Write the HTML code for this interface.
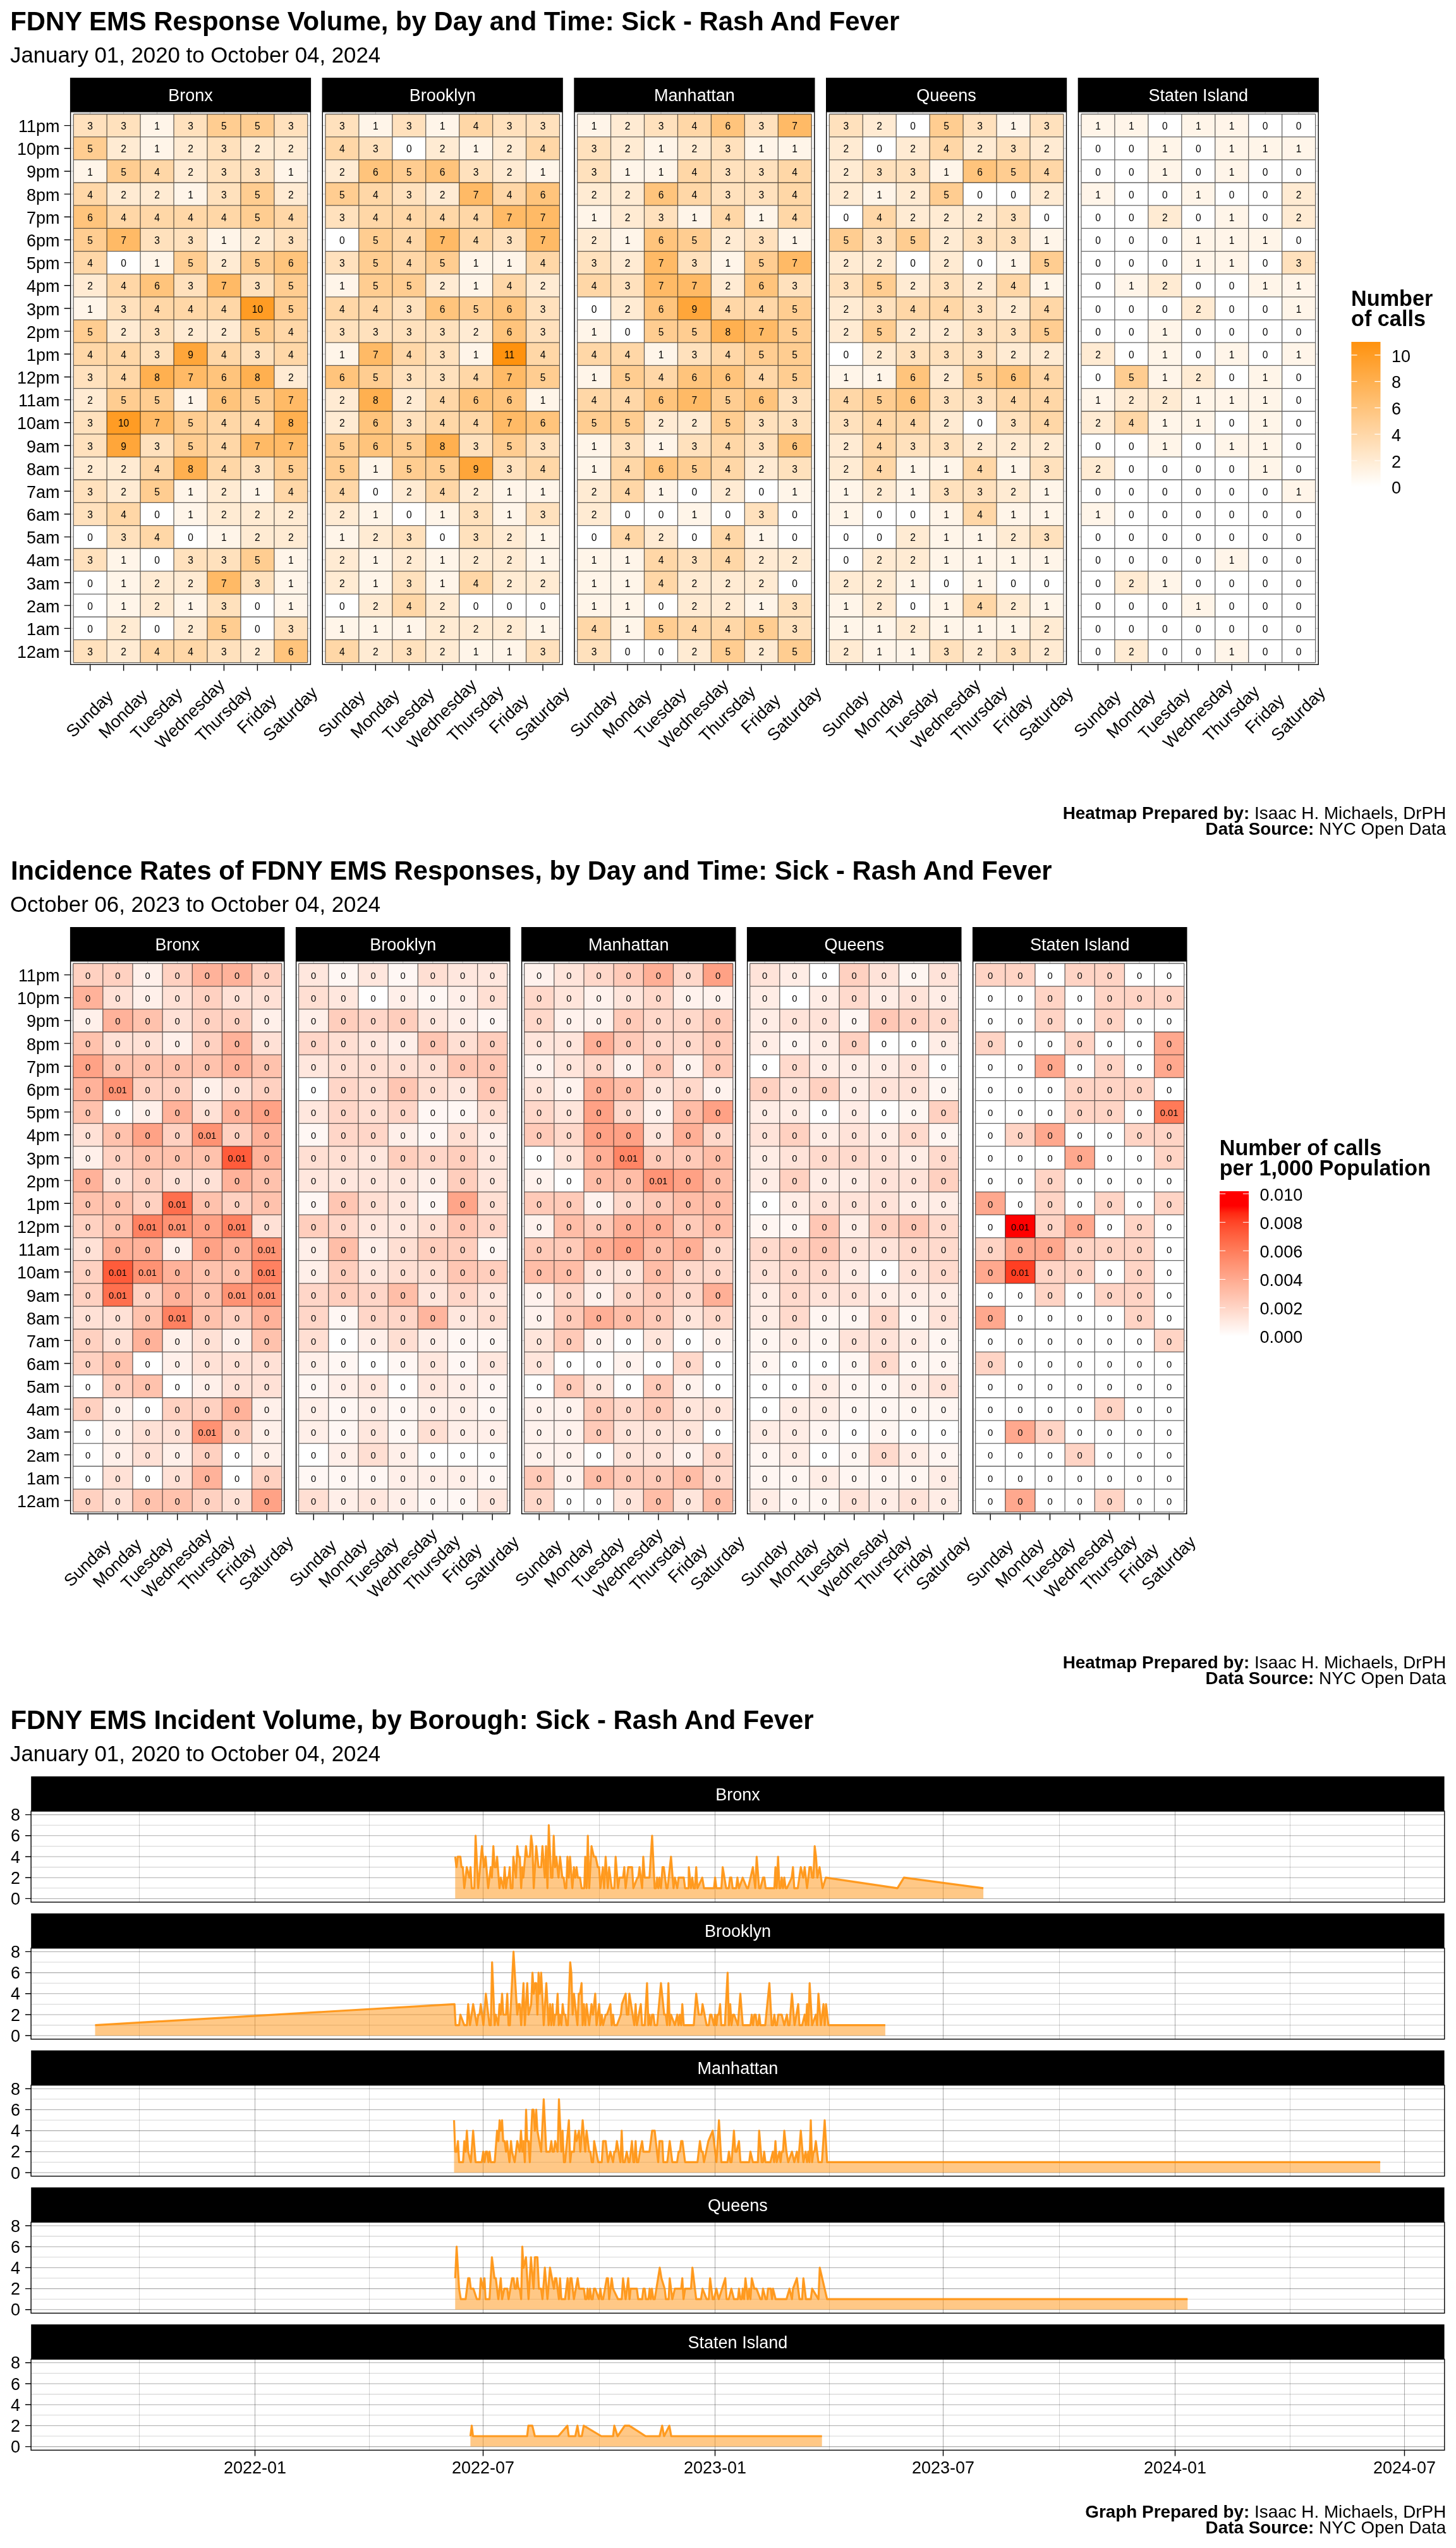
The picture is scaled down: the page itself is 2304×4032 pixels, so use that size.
<!DOCTYPE html><html><head><meta charset="utf-8"><style>html,body{margin:0;padding:0;background:#fff;width:2304px;height:4032px;overflow:hidden}svg{display:block;will-change:transform}</style></head><body><svg width="2304" height="4032" viewBox="0 0 2304 4032" font-family='"Liberation Sans", sans-serif'>
<rect width="2304" height="4032" fill="#fff"/>
<text x="16.3" y="48.0" font-size="41.84" font-weight="bold">FDNY EMS Response Volume, by Day and Time: Sick - Rash And Fever</text>
<text x="16.0" y="99.0" font-size="34.8">January 01, 2020 to October 04, 2024</text>
<rect x="110.90" y="123.00" width="381.20" height="53.90" fill="#000"/>
<text x="301.5" y="160.2" font-size="27" text-anchor="middle" fill="#fff">Bronx</text>
<rect x="110.90" y="176.90" width="381.20" height="875.31" fill="#fff"/>
<path d="M110.90 198.60H492.10M110.90 234.77H492.10M110.90 270.94H492.10M110.90 307.11H492.10M110.90 343.28H492.10M110.90 379.45H492.10M110.90 415.62H492.10M110.90 451.79H492.10M110.90 487.96H492.10M110.90 524.13H492.10M110.90 560.30H492.10M110.90 596.47H492.10M110.90 632.64H492.10M110.90 668.81H492.10M110.90 704.98H492.10M110.90 741.15H492.10M110.90 777.32H492.10M110.90 813.49H492.10M110.90 849.66H492.10M110.90 885.83H492.10M110.90 922.00H492.10M110.90 958.17H492.10M110.90 994.34H492.10M110.90 1030.51H492.10M142.67 176.90V1052.21M195.61 176.90V1052.21M248.56 176.90V1052.21M301.50 176.90V1052.21M354.44 176.90V1052.21M407.39 176.90V1052.21M460.33 176.90V1052.21" stroke="#cfcfcf" stroke-width="1" fill="none"/>
<rect x="116.2" y="180.5" width="52.94" height="36.17" fill="#ffe1bd"/><rect x="169.1" y="180.5" width="52.94" height="36.17" fill="#ffe1bd"/><rect x="222.1" y="180.5" width="52.94" height="36.17" fill="#fff5e9"/><rect x="275.0" y="180.5" width="52.94" height="36.17" fill="#ffe1bd"/><rect x="328.0" y="180.5" width="52.94" height="36.17" fill="#ffcd91"/><rect x="380.9" y="180.5" width="52.94" height="36.17" fill="#ffcd91"/><rect x="433.9" y="180.5" width="52.94" height="36.17" fill="#ffe1bd"/><rect x="116.2" y="216.7" width="52.94" height="36.17" fill="#ffcd91"/><rect x="169.1" y="216.7" width="52.94" height="36.17" fill="#ffebd3"/><rect x="222.1" y="216.7" width="52.94" height="36.17" fill="#fff5e9"/><rect x="275.0" y="216.7" width="52.94" height="36.17" fill="#ffebd3"/><rect x="328.0" y="216.7" width="52.94" height="36.17" fill="#ffe1bd"/><rect x="380.9" y="216.7" width="52.94" height="36.17" fill="#ffebd3"/><rect x="433.9" y="216.7" width="52.94" height="36.17" fill="#ffebd3"/><rect x="116.2" y="252.9" width="52.94" height="36.17" fill="#fff5e9"/><rect x="169.1" y="252.9" width="52.94" height="36.17" fill="#ffcd91"/><rect x="222.1" y="252.9" width="52.94" height="36.17" fill="#ffd7a7"/><rect x="275.0" y="252.9" width="52.94" height="36.17" fill="#ffebd3"/><rect x="328.0" y="252.9" width="52.94" height="36.17" fill="#ffe1bd"/><rect x="380.9" y="252.9" width="52.94" height="36.17" fill="#ffe1bd"/><rect x="433.9" y="252.9" width="52.94" height="36.17" fill="#fff5e9"/><rect x="116.2" y="289.0" width="52.94" height="36.17" fill="#ffd7a7"/><rect x="169.1" y="289.0" width="52.94" height="36.17" fill="#ffebd3"/><rect x="222.1" y="289.0" width="52.94" height="36.17" fill="#ffebd3"/><rect x="275.0" y="289.0" width="52.94" height="36.17" fill="#fff5e9"/><rect x="328.0" y="289.0" width="52.94" height="36.17" fill="#ffe1bd"/><rect x="380.9" y="289.0" width="52.94" height="36.17" fill="#ffcd91"/><rect x="433.9" y="289.0" width="52.94" height="36.17" fill="#ffebd3"/><rect x="116.2" y="325.2" width="52.94" height="36.17" fill="#ffc47c"/><rect x="169.1" y="325.2" width="52.94" height="36.17" fill="#ffd7a7"/><rect x="222.1" y="325.2" width="52.94" height="36.17" fill="#ffd7a7"/><rect x="275.0" y="325.2" width="52.94" height="36.17" fill="#ffd7a7"/><rect x="328.0" y="325.2" width="52.94" height="36.17" fill="#ffd7a7"/><rect x="380.9" y="325.2" width="52.94" height="36.17" fill="#ffcd91"/><rect x="433.9" y="325.2" width="52.94" height="36.17" fill="#ffd7a7"/><rect x="116.2" y="361.4" width="52.94" height="36.17" fill="#ffcd91"/><rect x="169.1" y="361.4" width="52.94" height="36.17" fill="#ffba66"/><rect x="222.1" y="361.4" width="52.94" height="36.17" fill="#ffe1bd"/><rect x="275.0" y="361.4" width="52.94" height="36.17" fill="#ffe1bd"/><rect x="328.0" y="361.4" width="52.94" height="36.17" fill="#fff5e9"/><rect x="380.9" y="361.4" width="52.94" height="36.17" fill="#ffebd3"/><rect x="433.9" y="361.4" width="52.94" height="36.17" fill="#ffe1bd"/><rect x="116.2" y="397.5" width="52.94" height="36.17" fill="#ffd7a7"/><rect x="169.1" y="397.5" width="52.94" height="36.17" fill="#ffffff"/><rect x="222.1" y="397.5" width="52.94" height="36.17" fill="#fff5e9"/><rect x="275.0" y="397.5" width="52.94" height="36.17" fill="#ffcd91"/><rect x="328.0" y="397.5" width="52.94" height="36.17" fill="#ffebd3"/><rect x="380.9" y="397.5" width="52.94" height="36.17" fill="#ffcd91"/><rect x="433.9" y="397.5" width="52.94" height="36.17" fill="#ffc47c"/><rect x="116.2" y="433.7" width="52.94" height="36.17" fill="#ffebd3"/><rect x="169.1" y="433.7" width="52.94" height="36.17" fill="#ffd7a7"/><rect x="222.1" y="433.7" width="52.94" height="36.17" fill="#ffc47c"/><rect x="275.0" y="433.7" width="52.94" height="36.17" fill="#ffe1bd"/><rect x="328.0" y="433.7" width="52.94" height="36.17" fill="#ffba66"/><rect x="380.9" y="433.7" width="52.94" height="36.17" fill="#ffe1bd"/><rect x="433.9" y="433.7" width="52.94" height="36.17" fill="#ffcd91"/><rect x="116.2" y="469.9" width="52.94" height="36.17" fill="#fff5e9"/><rect x="169.1" y="469.9" width="52.94" height="36.17" fill="#ffe1bd"/><rect x="222.1" y="469.9" width="52.94" height="36.17" fill="#ffd7a7"/><rect x="275.0" y="469.9" width="52.94" height="36.17" fill="#ffd7a7"/><rect x="328.0" y="469.9" width="52.94" height="36.17" fill="#ffd7a7"/><rect x="380.9" y="469.9" width="52.94" height="36.17" fill="#ff9c24"/><rect x="433.9" y="469.9" width="52.94" height="36.17" fill="#ffcd91"/><rect x="116.2" y="506.0" width="52.94" height="36.17" fill="#ffcd91"/><rect x="169.1" y="506.0" width="52.94" height="36.17" fill="#ffebd3"/><rect x="222.1" y="506.0" width="52.94" height="36.17" fill="#ffe1bd"/><rect x="275.0" y="506.0" width="52.94" height="36.17" fill="#ffebd3"/><rect x="328.0" y="506.0" width="52.94" height="36.17" fill="#ffebd3"/><rect x="380.9" y="506.0" width="52.94" height="36.17" fill="#ffcd91"/><rect x="433.9" y="506.0" width="52.94" height="36.17" fill="#ffd7a7"/><rect x="116.2" y="542.2" width="52.94" height="36.17" fill="#ffd7a7"/><rect x="169.1" y="542.2" width="52.94" height="36.17" fill="#ffd7a7"/><rect x="222.1" y="542.2" width="52.94" height="36.17" fill="#ffe1bd"/><rect x="275.0" y="542.2" width="52.94" height="36.17" fill="#ffa63a"/><rect x="328.0" y="542.2" width="52.94" height="36.17" fill="#ffd7a7"/><rect x="380.9" y="542.2" width="52.94" height="36.17" fill="#ffe1bd"/><rect x="433.9" y="542.2" width="52.94" height="36.17" fill="#ffd7a7"/><rect x="116.2" y="578.4" width="52.94" height="36.17" fill="#ffe1bd"/><rect x="169.1" y="578.4" width="52.94" height="36.17" fill="#ffd7a7"/><rect x="222.1" y="578.4" width="52.94" height="36.17" fill="#ffb050"/><rect x="275.0" y="578.4" width="52.94" height="36.17" fill="#ffba66"/><rect x="328.0" y="578.4" width="52.94" height="36.17" fill="#ffc47c"/><rect x="380.9" y="578.4" width="52.94" height="36.17" fill="#ffb050"/><rect x="433.9" y="578.4" width="52.94" height="36.17" fill="#ffebd3"/><rect x="116.2" y="614.6" width="52.94" height="36.17" fill="#ffebd3"/><rect x="169.1" y="614.6" width="52.94" height="36.17" fill="#ffcd91"/><rect x="222.1" y="614.6" width="52.94" height="36.17" fill="#ffcd91"/><rect x="275.0" y="614.6" width="52.94" height="36.17" fill="#fff5e9"/><rect x="328.0" y="614.6" width="52.94" height="36.17" fill="#ffc47c"/><rect x="380.9" y="614.6" width="52.94" height="36.17" fill="#ffcd91"/><rect x="433.9" y="614.6" width="52.94" height="36.17" fill="#ffba66"/><rect x="116.2" y="650.7" width="52.94" height="36.17" fill="#ffe1bd"/><rect x="169.1" y="650.7" width="52.94" height="36.17" fill="#ff9c24"/><rect x="222.1" y="650.7" width="52.94" height="36.17" fill="#ffba66"/><rect x="275.0" y="650.7" width="52.94" height="36.17" fill="#ffcd91"/><rect x="328.0" y="650.7" width="52.94" height="36.17" fill="#ffd7a7"/><rect x="380.9" y="650.7" width="52.94" height="36.17" fill="#ffd7a7"/><rect x="433.9" y="650.7" width="52.94" height="36.17" fill="#ffb050"/><rect x="116.2" y="686.9" width="52.94" height="36.17" fill="#ffe1bd"/><rect x="169.1" y="686.9" width="52.94" height="36.17" fill="#ffa63a"/><rect x="222.1" y="686.9" width="52.94" height="36.17" fill="#ffe1bd"/><rect x="275.0" y="686.9" width="52.94" height="36.17" fill="#ffcd91"/><rect x="328.0" y="686.9" width="52.94" height="36.17" fill="#ffd7a7"/><rect x="380.9" y="686.9" width="52.94" height="36.17" fill="#ffba66"/><rect x="433.9" y="686.9" width="52.94" height="36.17" fill="#ffba66"/><rect x="116.2" y="723.1" width="52.94" height="36.17" fill="#ffebd3"/><rect x="169.1" y="723.1" width="52.94" height="36.17" fill="#ffebd3"/><rect x="222.1" y="723.1" width="52.94" height="36.17" fill="#ffd7a7"/><rect x="275.0" y="723.1" width="52.94" height="36.17" fill="#ffb050"/><rect x="328.0" y="723.1" width="52.94" height="36.17" fill="#ffd7a7"/><rect x="380.9" y="723.1" width="52.94" height="36.17" fill="#ffe1bd"/><rect x="433.9" y="723.1" width="52.94" height="36.17" fill="#ffcd91"/><rect x="116.2" y="759.2" width="52.94" height="36.17" fill="#ffe1bd"/><rect x="169.1" y="759.2" width="52.94" height="36.17" fill="#ffebd3"/><rect x="222.1" y="759.2" width="52.94" height="36.17" fill="#ffcd91"/><rect x="275.0" y="759.2" width="52.94" height="36.17" fill="#fff5e9"/><rect x="328.0" y="759.2" width="52.94" height="36.17" fill="#ffebd3"/><rect x="380.9" y="759.2" width="52.94" height="36.17" fill="#fff5e9"/><rect x="433.9" y="759.2" width="52.94" height="36.17" fill="#ffd7a7"/><rect x="116.2" y="795.4" width="52.94" height="36.17" fill="#ffe1bd"/><rect x="169.1" y="795.4" width="52.94" height="36.17" fill="#ffd7a7"/><rect x="222.1" y="795.4" width="52.94" height="36.17" fill="#ffffff"/><rect x="275.0" y="795.4" width="52.94" height="36.17" fill="#fff5e9"/><rect x="328.0" y="795.4" width="52.94" height="36.17" fill="#ffebd3"/><rect x="380.9" y="795.4" width="52.94" height="36.17" fill="#ffebd3"/><rect x="433.9" y="795.4" width="52.94" height="36.17" fill="#ffebd3"/><rect x="116.2" y="831.6" width="52.94" height="36.17" fill="#ffffff"/><rect x="169.1" y="831.6" width="52.94" height="36.17" fill="#ffe1bd"/><rect x="222.1" y="831.6" width="52.94" height="36.17" fill="#ffd7a7"/><rect x="275.0" y="831.6" width="52.94" height="36.17" fill="#ffffff"/><rect x="328.0" y="831.6" width="52.94" height="36.17" fill="#fff5e9"/><rect x="380.9" y="831.6" width="52.94" height="36.17" fill="#ffebd3"/><rect x="433.9" y="831.6" width="52.94" height="36.17" fill="#ffebd3"/><rect x="116.2" y="867.7" width="52.94" height="36.17" fill="#ffe1bd"/><rect x="169.1" y="867.7" width="52.94" height="36.17" fill="#fff5e9"/><rect x="222.1" y="867.7" width="52.94" height="36.17" fill="#ffffff"/><rect x="275.0" y="867.7" width="52.94" height="36.17" fill="#ffe1bd"/><rect x="328.0" y="867.7" width="52.94" height="36.17" fill="#ffe1bd"/><rect x="380.9" y="867.7" width="52.94" height="36.17" fill="#ffcd91"/><rect x="433.9" y="867.7" width="52.94" height="36.17" fill="#fff5e9"/><rect x="116.2" y="903.9" width="52.94" height="36.17" fill="#ffffff"/><rect x="169.1" y="903.9" width="52.94" height="36.17" fill="#fff5e9"/><rect x="222.1" y="903.9" width="52.94" height="36.17" fill="#ffebd3"/><rect x="275.0" y="903.9" width="52.94" height="36.17" fill="#ffebd3"/><rect x="328.0" y="903.9" width="52.94" height="36.17" fill="#ffba66"/><rect x="380.9" y="903.9" width="52.94" height="36.17" fill="#ffe1bd"/><rect x="433.9" y="903.9" width="52.94" height="36.17" fill="#fff5e9"/><rect x="116.2" y="940.1" width="52.94" height="36.17" fill="#ffffff"/><rect x="169.1" y="940.1" width="52.94" height="36.17" fill="#fff5e9"/><rect x="222.1" y="940.1" width="52.94" height="36.17" fill="#ffebd3"/><rect x="275.0" y="940.1" width="52.94" height="36.17" fill="#fff5e9"/><rect x="328.0" y="940.1" width="52.94" height="36.17" fill="#ffe1bd"/><rect x="380.9" y="940.1" width="52.94" height="36.17" fill="#ffffff"/><rect x="433.9" y="940.1" width="52.94" height="36.17" fill="#fff5e9"/><rect x="116.2" y="976.3" width="52.94" height="36.17" fill="#ffffff"/><rect x="169.1" y="976.3" width="52.94" height="36.17" fill="#ffebd3"/><rect x="222.1" y="976.3" width="52.94" height="36.17" fill="#ffffff"/><rect x="275.0" y="976.3" width="52.94" height="36.17" fill="#ffebd3"/><rect x="328.0" y="976.3" width="52.94" height="36.17" fill="#ffcd91"/><rect x="380.9" y="976.3" width="52.94" height="36.17" fill="#ffffff"/><rect x="433.9" y="976.3" width="52.94" height="36.17" fill="#ffe1bd"/><rect x="116.2" y="1012.4" width="52.94" height="36.17" fill="#ffe1bd"/><rect x="169.1" y="1012.4" width="52.94" height="36.17" fill="#ffebd3"/><rect x="222.1" y="1012.4" width="52.94" height="36.17" fill="#ffd7a7"/><rect x="275.0" y="1012.4" width="52.94" height="36.17" fill="#ffd7a7"/><rect x="328.0" y="1012.4" width="52.94" height="36.17" fill="#ffe1bd"/><rect x="380.9" y="1012.4" width="52.94" height="36.17" fill="#ffebd3"/><rect x="433.9" y="1012.4" width="52.94" height="36.17" fill="#ffc47c"/>
<path d="M116.19 180.51H486.81M116.19 216.69H486.81M116.19 252.85H486.81M116.19 289.02H486.81M116.19 325.19H486.81M116.19 361.37H486.81M116.19 397.53H486.81M116.19 433.70H486.81M116.19 469.88H486.81M116.19 506.05H486.81M116.19 542.22H486.81M116.19 578.38H486.81M116.19 614.56H486.81M116.19 650.73H486.81M116.19 686.89H486.81M116.19 723.07H486.81M116.19 759.24H486.81M116.19 795.40H486.81M116.19 831.58H486.81M116.19 867.75H486.81M116.19 903.92H486.81M116.19 940.09H486.81M116.19 976.25H486.81M116.19 1012.43H486.81M116.19 1048.60H486.81M116.19 180.51V1048.60M169.14 180.51V1048.60M222.08 180.51V1048.60M275.03 180.51V1048.60M327.97 180.51V1048.60M380.92 180.51V1048.60M433.86 180.51V1048.60M486.81 180.51V1048.60" stroke="#000" stroke-width="1.3" fill="none" stroke-opacity="0.6"/>
<g font-size="15.6" text-anchor="middle"><text x="142.7" y="205.1">3</text><text x="195.6" y="205.1">3</text><text x="248.6" y="205.1">1</text><text x="301.5" y="205.1">3</text><text x="354.4" y="205.1">5</text><text x="407.4" y="205.1">5</text><text x="460.3" y="205.1">3</text><text x="142.7" y="241.3">5</text><text x="195.6" y="241.3">2</text><text x="248.6" y="241.3">1</text><text x="301.5" y="241.3">2</text><text x="354.4" y="241.3">3</text><text x="407.4" y="241.3">2</text><text x="460.3" y="241.3">2</text><text x="142.7" y="277.5">1</text><text x="195.6" y="277.5">5</text><text x="248.6" y="277.5">4</text><text x="301.5" y="277.5">2</text><text x="354.4" y="277.5">3</text><text x="407.4" y="277.5">3</text><text x="460.3" y="277.5">1</text><text x="142.7" y="313.6">4</text><text x="195.6" y="313.6">2</text><text x="248.6" y="313.6">2</text><text x="301.5" y="313.6">1</text><text x="354.4" y="313.6">3</text><text x="407.4" y="313.6">5</text><text x="460.3" y="313.6">2</text><text x="142.7" y="349.8">6</text><text x="195.6" y="349.8">4</text><text x="248.6" y="349.8">4</text><text x="301.5" y="349.8">4</text><text x="354.4" y="349.8">4</text><text x="407.4" y="349.8">5</text><text x="460.3" y="349.8">4</text><text x="142.7" y="386.0">5</text><text x="195.6" y="386.0">7</text><text x="248.6" y="386.0">3</text><text x="301.5" y="386.0">3</text><text x="354.4" y="386.0">1</text><text x="407.4" y="386.0">2</text><text x="460.3" y="386.0">3</text><text x="142.7" y="422.1">4</text><text x="195.6" y="422.1">0</text><text x="248.6" y="422.1">1</text><text x="301.5" y="422.1">5</text><text x="354.4" y="422.1">2</text><text x="407.4" y="422.1">5</text><text x="460.3" y="422.1">6</text><text x="142.7" y="458.3">2</text><text x="195.6" y="458.3">4</text><text x="248.6" y="458.3">6</text><text x="301.5" y="458.3">3</text><text x="354.4" y="458.3">7</text><text x="407.4" y="458.3">3</text><text x="460.3" y="458.3">5</text><text x="142.7" y="494.5">1</text><text x="195.6" y="494.5">3</text><text x="248.6" y="494.5">4</text><text x="301.5" y="494.5">4</text><text x="354.4" y="494.5">4</text><text x="407.4" y="494.5">10</text><text x="460.3" y="494.5">5</text><text x="142.7" y="530.7">5</text><text x="195.6" y="530.7">2</text><text x="248.6" y="530.7">3</text><text x="301.5" y="530.7">2</text><text x="354.4" y="530.7">2</text><text x="407.4" y="530.7">5</text><text x="460.3" y="530.7">4</text><text x="142.7" y="566.8">4</text><text x="195.6" y="566.8">4</text><text x="248.6" y="566.8">3</text><text x="301.5" y="566.8">9</text><text x="354.4" y="566.8">4</text><text x="407.4" y="566.8">3</text><text x="460.3" y="566.8">4</text><text x="142.7" y="603.0">3</text><text x="195.6" y="603.0">4</text><text x="248.6" y="603.0">8</text><text x="301.5" y="603.0">7</text><text x="354.4" y="603.0">6</text><text x="407.4" y="603.0">8</text><text x="460.3" y="603.0">2</text><text x="142.7" y="639.2">2</text><text x="195.6" y="639.2">5</text><text x="248.6" y="639.2">5</text><text x="301.5" y="639.2">1</text><text x="354.4" y="639.2">6</text><text x="407.4" y="639.2">5</text><text x="460.3" y="639.2">7</text><text x="142.7" y="675.3">3</text><text x="195.6" y="675.3">10</text><text x="248.6" y="675.3">7</text><text x="301.5" y="675.3">5</text><text x="354.4" y="675.3">4</text><text x="407.4" y="675.3">4</text><text x="460.3" y="675.3">8</text><text x="142.7" y="711.5">3</text><text x="195.6" y="711.5">9</text><text x="248.6" y="711.5">3</text><text x="301.5" y="711.5">5</text><text x="354.4" y="711.5">4</text><text x="407.4" y="711.5">7</text><text x="460.3" y="711.5">7</text><text x="142.7" y="747.7">2</text><text x="195.6" y="747.7">2</text><text x="248.6" y="747.7">4</text><text x="301.5" y="747.7">8</text><text x="354.4" y="747.7">4</text><text x="407.4" y="747.7">3</text><text x="460.3" y="747.7">5</text><text x="142.7" y="783.8">3</text><text x="195.6" y="783.8">2</text><text x="248.6" y="783.8">5</text><text x="301.5" y="783.8">1</text><text x="354.4" y="783.8">2</text><text x="407.4" y="783.8">1</text><text x="460.3" y="783.8">4</text><text x="142.7" y="820.0">3</text><text x="195.6" y="820.0">4</text><text x="248.6" y="820.0">0</text><text x="301.5" y="820.0">1</text><text x="354.4" y="820.0">2</text><text x="407.4" y="820.0">2</text><text x="460.3" y="820.0">2</text><text x="142.7" y="856.2">0</text><text x="195.6" y="856.2">3</text><text x="248.6" y="856.2">4</text><text x="301.5" y="856.2">0</text><text x="354.4" y="856.2">1</text><text x="407.4" y="856.2">2</text><text x="460.3" y="856.2">2</text><text x="142.7" y="892.4">3</text><text x="195.6" y="892.4">1</text><text x="248.6" y="892.4">0</text><text x="301.5" y="892.4">3</text><text x="354.4" y="892.4">3</text><text x="407.4" y="892.4">5</text><text x="460.3" y="892.4">1</text><text x="142.7" y="928.5">0</text><text x="195.6" y="928.5">1</text><text x="248.6" y="928.5">2</text><text x="301.5" y="928.5">2</text><text x="354.4" y="928.5">7</text><text x="407.4" y="928.5">3</text><text x="460.3" y="928.5">1</text><text x="142.7" y="964.7">0</text><text x="195.6" y="964.7">1</text><text x="248.6" y="964.7">2</text><text x="301.5" y="964.7">1</text><text x="354.4" y="964.7">3</text><text x="407.4" y="964.7">0</text><text x="460.3" y="964.7">1</text><text x="142.7" y="1000.9">0</text><text x="195.6" y="1000.9">2</text><text x="248.6" y="1000.9">0</text><text x="301.5" y="1000.9">2</text><text x="354.4" y="1000.9">5</text><text x="407.4" y="1000.9">0</text><text x="460.3" y="1000.9">3</text><text x="142.7" y="1037.0">3</text><text x="195.6" y="1037.0">2</text><text x="248.6" y="1037.0">4</text><text x="301.5" y="1037.0">4</text><text x="354.4" y="1037.0">3</text><text x="407.4" y="1037.0">2</text><text x="460.3" y="1037.0">6</text></g>
<rect x="111.60" y="176.90" width="379.80" height="874.61" fill="none" stroke="#000" stroke-width="1.4"/>
<path d="M142.67 1052.21V1061.41M195.61 1052.21V1061.41M248.56 1052.21V1061.41M301.50 1052.21V1061.41M354.44 1052.21V1061.41M407.39 1052.21V1061.41M460.33 1052.21V1061.41" stroke="#000" stroke-width="1.4" fill="none"/>
<text font-size="27" text-anchor="middle" transform="translate(148.17,1136.00) rotate(-45)">Sunday</text>
<text font-size="27" text-anchor="middle" transform="translate(201.11,1136.00) rotate(-45)">Monday</text>
<text font-size="27" text-anchor="middle" transform="translate(254.06,1136.00) rotate(-45)">Tuesday</text>
<text font-size="27" text-anchor="middle" transform="translate(307.00,1136.00) rotate(-45)">Wednesday</text>
<text font-size="27" text-anchor="middle" transform="translate(359.94,1136.00) rotate(-45)">Thursday</text>
<text font-size="27" text-anchor="middle" transform="translate(412.89,1136.00) rotate(-45)">Friday</text>
<text font-size="27" text-anchor="middle" transform="translate(465.83,1136.00) rotate(-45)">Saturday</text>
<rect x="509.60" y="123.00" width="381.20" height="53.90" fill="#000"/>
<text x="700.2" y="160.2" font-size="27" text-anchor="middle" fill="#fff">Brooklyn</text>
<rect x="509.60" y="176.90" width="381.20" height="875.31" fill="#fff"/>
<path d="M509.60 198.60H890.80M509.60 234.77H890.80M509.60 270.94H890.80M509.60 307.11H890.80M509.60 343.28H890.80M509.60 379.45H890.80M509.60 415.62H890.80M509.60 451.79H890.80M509.60 487.96H890.80M509.60 524.13H890.80M509.60 560.30H890.80M509.60 596.47H890.80M509.60 632.64H890.80M509.60 668.81H890.80M509.60 704.98H890.80M509.60 741.15H890.80M509.60 777.32H890.80M509.60 813.49H890.80M509.60 849.66H890.80M509.60 885.83H890.80M509.60 922.00H890.80M509.60 958.17H890.80M509.60 994.34H890.80M509.60 1030.51H890.80M541.37 176.90V1052.21M594.31 176.90V1052.21M647.26 176.90V1052.21M700.20 176.90V1052.21M753.14 176.90V1052.21M806.09 176.90V1052.21M859.03 176.90V1052.21" stroke="#cfcfcf" stroke-width="1" fill="none"/>
<rect x="514.9" y="180.5" width="52.94" height="36.17" fill="#ffe1bd"/><rect x="567.8" y="180.5" width="52.94" height="36.17" fill="#fff5e9"/><rect x="620.8" y="180.5" width="52.94" height="36.17" fill="#ffe1bd"/><rect x="673.7" y="180.5" width="52.94" height="36.17" fill="#fff5e9"/><rect x="726.7" y="180.5" width="52.94" height="36.17" fill="#ffd7a7"/><rect x="779.6" y="180.5" width="52.94" height="36.17" fill="#ffe1bd"/><rect x="832.6" y="180.5" width="52.94" height="36.17" fill="#ffe1bd"/><rect x="514.9" y="216.7" width="52.94" height="36.17" fill="#ffd7a7"/><rect x="567.8" y="216.7" width="52.94" height="36.17" fill="#ffe1bd"/><rect x="620.8" y="216.7" width="52.94" height="36.17" fill="#ffffff"/><rect x="673.7" y="216.7" width="52.94" height="36.17" fill="#ffebd3"/><rect x="726.7" y="216.7" width="52.94" height="36.17" fill="#fff5e9"/><rect x="779.6" y="216.7" width="52.94" height="36.17" fill="#ffebd3"/><rect x="832.6" y="216.7" width="52.94" height="36.17" fill="#ffd7a7"/><rect x="514.9" y="252.9" width="52.94" height="36.17" fill="#ffebd3"/><rect x="567.8" y="252.9" width="52.94" height="36.17" fill="#ffc47c"/><rect x="620.8" y="252.9" width="52.94" height="36.17" fill="#ffcd91"/><rect x="673.7" y="252.9" width="52.94" height="36.17" fill="#ffc47c"/><rect x="726.7" y="252.9" width="52.94" height="36.17" fill="#ffe1bd"/><rect x="779.6" y="252.9" width="52.94" height="36.17" fill="#ffebd3"/><rect x="832.6" y="252.9" width="52.94" height="36.17" fill="#fff5e9"/><rect x="514.9" y="289.0" width="52.94" height="36.17" fill="#ffcd91"/><rect x="567.8" y="289.0" width="52.94" height="36.17" fill="#ffd7a7"/><rect x="620.8" y="289.0" width="52.94" height="36.17" fill="#ffe1bd"/><rect x="673.7" y="289.0" width="52.94" height="36.17" fill="#ffebd3"/><rect x="726.7" y="289.0" width="52.94" height="36.17" fill="#ffba66"/><rect x="779.6" y="289.0" width="52.94" height="36.17" fill="#ffd7a7"/><rect x="832.6" y="289.0" width="52.94" height="36.17" fill="#ffc47c"/><rect x="514.9" y="325.2" width="52.94" height="36.17" fill="#ffe1bd"/><rect x="567.8" y="325.2" width="52.94" height="36.17" fill="#ffd7a7"/><rect x="620.8" y="325.2" width="52.94" height="36.17" fill="#ffd7a7"/><rect x="673.7" y="325.2" width="52.94" height="36.17" fill="#ffd7a7"/><rect x="726.7" y="325.2" width="52.94" height="36.17" fill="#ffd7a7"/><rect x="779.6" y="325.2" width="52.94" height="36.17" fill="#ffba66"/><rect x="832.6" y="325.2" width="52.94" height="36.17" fill="#ffba66"/><rect x="514.9" y="361.4" width="52.94" height="36.17" fill="#ffffff"/><rect x="567.8" y="361.4" width="52.94" height="36.17" fill="#ffcd91"/><rect x="620.8" y="361.4" width="52.94" height="36.17" fill="#ffd7a7"/><rect x="673.7" y="361.4" width="52.94" height="36.17" fill="#ffba66"/><rect x="726.7" y="361.4" width="52.94" height="36.17" fill="#ffd7a7"/><rect x="779.6" y="361.4" width="52.94" height="36.17" fill="#ffe1bd"/><rect x="832.6" y="361.4" width="52.94" height="36.17" fill="#ffba66"/><rect x="514.9" y="397.5" width="52.94" height="36.17" fill="#ffe1bd"/><rect x="567.8" y="397.5" width="52.94" height="36.17" fill="#ffcd91"/><rect x="620.8" y="397.5" width="52.94" height="36.17" fill="#ffd7a7"/><rect x="673.7" y="397.5" width="52.94" height="36.17" fill="#ffcd91"/><rect x="726.7" y="397.5" width="52.94" height="36.17" fill="#fff5e9"/><rect x="779.6" y="397.5" width="52.94" height="36.17" fill="#fff5e9"/><rect x="832.6" y="397.5" width="52.94" height="36.17" fill="#ffd7a7"/><rect x="514.9" y="433.7" width="52.94" height="36.17" fill="#fff5e9"/><rect x="567.8" y="433.7" width="52.94" height="36.17" fill="#ffcd91"/><rect x="620.8" y="433.7" width="52.94" height="36.17" fill="#ffcd91"/><rect x="673.7" y="433.7" width="52.94" height="36.17" fill="#ffebd3"/><rect x="726.7" y="433.7" width="52.94" height="36.17" fill="#fff5e9"/><rect x="779.6" y="433.7" width="52.94" height="36.17" fill="#ffd7a7"/><rect x="832.6" y="433.7" width="52.94" height="36.17" fill="#ffebd3"/><rect x="514.9" y="469.9" width="52.94" height="36.17" fill="#ffd7a7"/><rect x="567.8" y="469.9" width="52.94" height="36.17" fill="#ffd7a7"/><rect x="620.8" y="469.9" width="52.94" height="36.17" fill="#ffe1bd"/><rect x="673.7" y="469.9" width="52.94" height="36.17" fill="#ffc47c"/><rect x="726.7" y="469.9" width="52.94" height="36.17" fill="#ffcd91"/><rect x="779.6" y="469.9" width="52.94" height="36.17" fill="#ffc47c"/><rect x="832.6" y="469.9" width="52.94" height="36.17" fill="#ffe1bd"/><rect x="514.9" y="506.0" width="52.94" height="36.17" fill="#ffe1bd"/><rect x="567.8" y="506.0" width="52.94" height="36.17" fill="#ffe1bd"/><rect x="620.8" y="506.0" width="52.94" height="36.17" fill="#ffe1bd"/><rect x="673.7" y="506.0" width="52.94" height="36.17" fill="#ffe1bd"/><rect x="726.7" y="506.0" width="52.94" height="36.17" fill="#ffebd3"/><rect x="779.6" y="506.0" width="52.94" height="36.17" fill="#ffc47c"/><rect x="832.6" y="506.0" width="52.94" height="36.17" fill="#ffe1bd"/><rect x="514.9" y="542.2" width="52.94" height="36.17" fill="#fff5e9"/><rect x="567.8" y="542.2" width="52.94" height="36.17" fill="#ffba66"/><rect x="620.8" y="542.2" width="52.94" height="36.17" fill="#ffd7a7"/><rect x="673.7" y="542.2" width="52.94" height="36.17" fill="#ffe1bd"/><rect x="726.7" y="542.2" width="52.94" height="36.17" fill="#fff5e9"/><rect x="779.6" y="542.2" width="52.94" height="36.17" fill="#ff920e"/><rect x="832.6" y="542.2" width="52.94" height="36.17" fill="#ffd7a7"/><rect x="514.9" y="578.4" width="52.94" height="36.17" fill="#ffc47c"/><rect x="567.8" y="578.4" width="52.94" height="36.17" fill="#ffcd91"/><rect x="620.8" y="578.4" width="52.94" height="36.17" fill="#ffe1bd"/><rect x="673.7" y="578.4" width="52.94" height="36.17" fill="#ffe1bd"/><rect x="726.7" y="578.4" width="52.94" height="36.17" fill="#ffd7a7"/><rect x="779.6" y="578.4" width="52.94" height="36.17" fill="#ffba66"/><rect x="832.6" y="578.4" width="52.94" height="36.17" fill="#ffcd91"/><rect x="514.9" y="614.6" width="52.94" height="36.17" fill="#ffebd3"/><rect x="567.8" y="614.6" width="52.94" height="36.17" fill="#ffb050"/><rect x="620.8" y="614.6" width="52.94" height="36.17" fill="#ffebd3"/><rect x="673.7" y="614.6" width="52.94" height="36.17" fill="#ffd7a7"/><rect x="726.7" y="614.6" width="52.94" height="36.17" fill="#ffc47c"/><rect x="779.6" y="614.6" width="52.94" height="36.17" fill="#ffc47c"/><rect x="832.6" y="614.6" width="52.94" height="36.17" fill="#fff5e9"/><rect x="514.9" y="650.7" width="52.94" height="36.17" fill="#ffebd3"/><rect x="567.8" y="650.7" width="52.94" height="36.17" fill="#ffc47c"/><rect x="620.8" y="650.7" width="52.94" height="36.17" fill="#ffe1bd"/><rect x="673.7" y="650.7" width="52.94" height="36.17" fill="#ffd7a7"/><rect x="726.7" y="650.7" width="52.94" height="36.17" fill="#ffd7a7"/><rect x="779.6" y="650.7" width="52.94" height="36.17" fill="#ffba66"/><rect x="832.6" y="650.7" width="52.94" height="36.17" fill="#ffc47c"/><rect x="514.9" y="686.9" width="52.94" height="36.17" fill="#ffcd91"/><rect x="567.8" y="686.9" width="52.94" height="36.17" fill="#ffc47c"/><rect x="620.8" y="686.9" width="52.94" height="36.17" fill="#ffcd91"/><rect x="673.7" y="686.9" width="52.94" height="36.17" fill="#ffb050"/><rect x="726.7" y="686.9" width="52.94" height="36.17" fill="#ffe1bd"/><rect x="779.6" y="686.9" width="52.94" height="36.17" fill="#ffcd91"/><rect x="832.6" y="686.9" width="52.94" height="36.17" fill="#ffe1bd"/><rect x="514.9" y="723.1" width="52.94" height="36.17" fill="#ffcd91"/><rect x="567.8" y="723.1" width="52.94" height="36.17" fill="#fff5e9"/><rect x="620.8" y="723.1" width="52.94" height="36.17" fill="#ffcd91"/><rect x="673.7" y="723.1" width="52.94" height="36.17" fill="#ffcd91"/><rect x="726.7" y="723.1" width="52.94" height="36.17" fill="#ffa63a"/><rect x="779.6" y="723.1" width="52.94" height="36.17" fill="#ffe1bd"/><rect x="832.6" y="723.1" width="52.94" height="36.17" fill="#ffd7a7"/><rect x="514.9" y="759.2" width="52.94" height="36.17" fill="#ffd7a7"/><rect x="567.8" y="759.2" width="52.94" height="36.17" fill="#ffffff"/><rect x="620.8" y="759.2" width="52.94" height="36.17" fill="#ffebd3"/><rect x="673.7" y="759.2" width="52.94" height="36.17" fill="#ffd7a7"/><rect x="726.7" y="759.2" width="52.94" height="36.17" fill="#ffebd3"/><rect x="779.6" y="759.2" width="52.94" height="36.17" fill="#fff5e9"/><rect x="832.6" y="759.2" width="52.94" height="36.17" fill="#fff5e9"/><rect x="514.9" y="795.4" width="52.94" height="36.17" fill="#ffebd3"/><rect x="567.8" y="795.4" width="52.94" height="36.17" fill="#fff5e9"/><rect x="620.8" y="795.4" width="52.94" height="36.17" fill="#ffffff"/><rect x="673.7" y="795.4" width="52.94" height="36.17" fill="#fff5e9"/><rect x="726.7" y="795.4" width="52.94" height="36.17" fill="#ffe1bd"/><rect x="779.6" y="795.4" width="52.94" height="36.17" fill="#fff5e9"/><rect x="832.6" y="795.4" width="52.94" height="36.17" fill="#ffe1bd"/><rect x="514.9" y="831.6" width="52.94" height="36.17" fill="#fff5e9"/><rect x="567.8" y="831.6" width="52.94" height="36.17" fill="#ffebd3"/><rect x="620.8" y="831.6" width="52.94" height="36.17" fill="#ffe1bd"/><rect x="673.7" y="831.6" width="52.94" height="36.17" fill="#ffffff"/><rect x="726.7" y="831.6" width="52.94" height="36.17" fill="#ffe1bd"/><rect x="779.6" y="831.6" width="52.94" height="36.17" fill="#ffebd3"/><rect x="832.6" y="831.6" width="52.94" height="36.17" fill="#fff5e9"/><rect x="514.9" y="867.7" width="52.94" height="36.17" fill="#ffebd3"/><rect x="567.8" y="867.7" width="52.94" height="36.17" fill="#fff5e9"/><rect x="620.8" y="867.7" width="52.94" height="36.17" fill="#ffebd3"/><rect x="673.7" y="867.7" width="52.94" height="36.17" fill="#fff5e9"/><rect x="726.7" y="867.7" width="52.94" height="36.17" fill="#ffebd3"/><rect x="779.6" y="867.7" width="52.94" height="36.17" fill="#ffebd3"/><rect x="832.6" y="867.7" width="52.94" height="36.17" fill="#fff5e9"/><rect x="514.9" y="903.9" width="52.94" height="36.17" fill="#ffebd3"/><rect x="567.8" y="903.9" width="52.94" height="36.17" fill="#fff5e9"/><rect x="620.8" y="903.9" width="52.94" height="36.17" fill="#ffe1bd"/><rect x="673.7" y="903.9" width="52.94" height="36.17" fill="#fff5e9"/><rect x="726.7" y="903.9" width="52.94" height="36.17" fill="#ffd7a7"/><rect x="779.6" y="903.9" width="52.94" height="36.17" fill="#ffebd3"/><rect x="832.6" y="903.9" width="52.94" height="36.17" fill="#ffebd3"/><rect x="514.9" y="940.1" width="52.94" height="36.17" fill="#ffffff"/><rect x="567.8" y="940.1" width="52.94" height="36.17" fill="#ffebd3"/><rect x="620.8" y="940.1" width="52.94" height="36.17" fill="#ffd7a7"/><rect x="673.7" y="940.1" width="52.94" height="36.17" fill="#ffebd3"/><rect x="726.7" y="940.1" width="52.94" height="36.17" fill="#ffffff"/><rect x="779.6" y="940.1" width="52.94" height="36.17" fill="#ffffff"/><rect x="832.6" y="940.1" width="52.94" height="36.17" fill="#ffffff"/><rect x="514.9" y="976.3" width="52.94" height="36.17" fill="#fff5e9"/><rect x="567.8" y="976.3" width="52.94" height="36.17" fill="#fff5e9"/><rect x="620.8" y="976.3" width="52.94" height="36.17" fill="#fff5e9"/><rect x="673.7" y="976.3" width="52.94" height="36.17" fill="#ffebd3"/><rect x="726.7" y="976.3" width="52.94" height="36.17" fill="#ffebd3"/><rect x="779.6" y="976.3" width="52.94" height="36.17" fill="#ffebd3"/><rect x="832.6" y="976.3" width="52.94" height="36.17" fill="#fff5e9"/><rect x="514.9" y="1012.4" width="52.94" height="36.17" fill="#ffd7a7"/><rect x="567.8" y="1012.4" width="52.94" height="36.17" fill="#ffebd3"/><rect x="620.8" y="1012.4" width="52.94" height="36.17" fill="#ffe1bd"/><rect x="673.7" y="1012.4" width="52.94" height="36.17" fill="#ffebd3"/><rect x="726.7" y="1012.4" width="52.94" height="36.17" fill="#fff5e9"/><rect x="779.6" y="1012.4" width="52.94" height="36.17" fill="#fff5e9"/><rect x="832.6" y="1012.4" width="52.94" height="36.17" fill="#ffe1bd"/>
<path d="M514.89 180.51H885.51M514.89 216.69H885.51M514.89 252.85H885.51M514.89 289.02H885.51M514.89 325.19H885.51M514.89 361.37H885.51M514.89 397.53H885.51M514.89 433.70H885.51M514.89 469.88H885.51M514.89 506.05H885.51M514.89 542.22H885.51M514.89 578.38H885.51M514.89 614.56H885.51M514.89 650.73H885.51M514.89 686.89H885.51M514.89 723.07H885.51M514.89 759.24H885.51M514.89 795.40H885.51M514.89 831.58H885.51M514.89 867.75H885.51M514.89 903.92H885.51M514.89 940.09H885.51M514.89 976.25H885.51M514.89 1012.43H885.51M514.89 1048.60H885.51M514.89 180.51V1048.60M567.84 180.51V1048.60M620.78 180.51V1048.60M673.73 180.51V1048.60M726.67 180.51V1048.60M779.62 180.51V1048.60M832.56 180.51V1048.60M885.51 180.51V1048.60" stroke="#000" stroke-width="1.3" fill="none" stroke-opacity="0.6"/>
<g font-size="15.6" text-anchor="middle"><text x="541.4" y="205.1">3</text><text x="594.3" y="205.1">1</text><text x="647.3" y="205.1">3</text><text x="700.2" y="205.1">1</text><text x="753.1" y="205.1">4</text><text x="806.1" y="205.1">3</text><text x="859.0" y="205.1">3</text><text x="541.4" y="241.3">4</text><text x="594.3" y="241.3">3</text><text x="647.3" y="241.3">0</text><text x="700.2" y="241.3">2</text><text x="753.1" y="241.3">1</text><text x="806.1" y="241.3">2</text><text x="859.0" y="241.3">4</text><text x="541.4" y="277.5">2</text><text x="594.3" y="277.5">6</text><text x="647.3" y="277.5">5</text><text x="700.2" y="277.5">6</text><text x="753.1" y="277.5">3</text><text x="806.1" y="277.5">2</text><text x="859.0" y="277.5">1</text><text x="541.4" y="313.6">5</text><text x="594.3" y="313.6">4</text><text x="647.3" y="313.6">3</text><text x="700.2" y="313.6">2</text><text x="753.1" y="313.6">7</text><text x="806.1" y="313.6">4</text><text x="859.0" y="313.6">6</text><text x="541.4" y="349.8">3</text><text x="594.3" y="349.8">4</text><text x="647.3" y="349.8">4</text><text x="700.2" y="349.8">4</text><text x="753.1" y="349.8">4</text><text x="806.1" y="349.8">7</text><text x="859.0" y="349.8">7</text><text x="541.4" y="386.0">0</text><text x="594.3" y="386.0">5</text><text x="647.3" y="386.0">4</text><text x="700.2" y="386.0">7</text><text x="753.1" y="386.0">4</text><text x="806.1" y="386.0">3</text><text x="859.0" y="386.0">7</text><text x="541.4" y="422.1">3</text><text x="594.3" y="422.1">5</text><text x="647.3" y="422.1">4</text><text x="700.2" y="422.1">5</text><text x="753.1" y="422.1">1</text><text x="806.1" y="422.1">1</text><text x="859.0" y="422.1">4</text><text x="541.4" y="458.3">1</text><text x="594.3" y="458.3">5</text><text x="647.3" y="458.3">5</text><text x="700.2" y="458.3">2</text><text x="753.1" y="458.3">1</text><text x="806.1" y="458.3">4</text><text x="859.0" y="458.3">2</text><text x="541.4" y="494.5">4</text><text x="594.3" y="494.5">4</text><text x="647.3" y="494.5">3</text><text x="700.2" y="494.5">6</text><text x="753.1" y="494.5">5</text><text x="806.1" y="494.5">6</text><text x="859.0" y="494.5">3</text><text x="541.4" y="530.7">3</text><text x="594.3" y="530.7">3</text><text x="647.3" y="530.7">3</text><text x="700.2" y="530.7">3</text><text x="753.1" y="530.7">2</text><text x="806.1" y="530.7">6</text><text x="859.0" y="530.7">3</text><text x="541.4" y="566.8">1</text><text x="594.3" y="566.8">7</text><text x="647.3" y="566.8">4</text><text x="700.2" y="566.8">3</text><text x="753.1" y="566.8">1</text><text x="806.1" y="566.8">11</text><text x="859.0" y="566.8">4</text><text x="541.4" y="603.0">6</text><text x="594.3" y="603.0">5</text><text x="647.3" y="603.0">3</text><text x="700.2" y="603.0">3</text><text x="753.1" y="603.0">4</text><text x="806.1" y="603.0">7</text><text x="859.0" y="603.0">5</text><text x="541.4" y="639.2">2</text><text x="594.3" y="639.2">8</text><text x="647.3" y="639.2">2</text><text x="700.2" y="639.2">4</text><text x="753.1" y="639.2">6</text><text x="806.1" y="639.2">6</text><text x="859.0" y="639.2">1</text><text x="541.4" y="675.3">2</text><text x="594.3" y="675.3">6</text><text x="647.3" y="675.3">3</text><text x="700.2" y="675.3">4</text><text x="753.1" y="675.3">4</text><text x="806.1" y="675.3">7</text><text x="859.0" y="675.3">6</text><text x="541.4" y="711.5">5</text><text x="594.3" y="711.5">6</text><text x="647.3" y="711.5">5</text><text x="700.2" y="711.5">8</text><text x="753.1" y="711.5">3</text><text x="806.1" y="711.5">5</text><text x="859.0" y="711.5">3</text><text x="541.4" y="747.7">5</text><text x="594.3" y="747.7">1</text><text x="647.3" y="747.7">5</text><text x="700.2" y="747.7">5</text><text x="753.1" y="747.7">9</text><text x="806.1" y="747.7">3</text><text x="859.0" y="747.7">4</text><text x="541.4" y="783.8">4</text><text x="594.3" y="783.8">0</text><text x="647.3" y="783.8">2</text><text x="700.2" y="783.8">4</text><text x="753.1" y="783.8">2</text><text x="806.1" y="783.8">1</text><text x="859.0" y="783.8">1</text><text x="541.4" y="820.0">2</text><text x="594.3" y="820.0">1</text><text x="647.3" y="820.0">0</text><text x="700.2" y="820.0">1</text><text x="753.1" y="820.0">3</text><text x="806.1" y="820.0">1</text><text x="859.0" y="820.0">3</text><text x="541.4" y="856.2">1</text><text x="594.3" y="856.2">2</text><text x="647.3" y="856.2">3</text><text x="700.2" y="856.2">0</text><text x="753.1" y="856.2">3</text><text x="806.1" y="856.2">2</text><text x="859.0" y="856.2">1</text><text x="541.4" y="892.4">2</text><text x="594.3" y="892.4">1</text><text x="647.3" y="892.4">2</text><text x="700.2" y="892.4">1</text><text x="753.1" y="892.4">2</text><text x="806.1" y="892.4">2</text><text x="859.0" y="892.4">1</text><text x="541.4" y="928.5">2</text><text x="594.3" y="928.5">1</text><text x="647.3" y="928.5">3</text><text x="700.2" y="928.5">1</text><text x="753.1" y="928.5">4</text><text x="806.1" y="928.5">2</text><text x="859.0" y="928.5">2</text><text x="541.4" y="964.7">0</text><text x="594.3" y="964.7">2</text><text x="647.3" y="964.7">4</text><text x="700.2" y="964.7">2</text><text x="753.1" y="964.7">0</text><text x="806.1" y="964.7">0</text><text x="859.0" y="964.7">0</text><text x="541.4" y="1000.9">1</text><text x="594.3" y="1000.9">1</text><text x="647.3" y="1000.9">1</text><text x="700.2" y="1000.9">2</text><text x="753.1" y="1000.9">2</text><text x="806.1" y="1000.9">2</text><text x="859.0" y="1000.9">1</text><text x="541.4" y="1037.0">4</text><text x="594.3" y="1037.0">2</text><text x="647.3" y="1037.0">3</text><text x="700.2" y="1037.0">2</text><text x="753.1" y="1037.0">1</text><text x="806.1" y="1037.0">1</text><text x="859.0" y="1037.0">3</text></g>
<rect x="510.30" y="176.90" width="379.80" height="874.61" fill="none" stroke="#000" stroke-width="1.4"/>
<path d="M541.37 1052.21V1061.41M594.31 1052.21V1061.41M647.26 1052.21V1061.41M700.20 1052.21V1061.41M753.14 1052.21V1061.41M806.09 1052.21V1061.41M859.03 1052.21V1061.41" stroke="#000" stroke-width="1.4" fill="none"/>
<text font-size="27" text-anchor="middle" transform="translate(546.87,1136.00) rotate(-45)">Sunday</text>
<text font-size="27" text-anchor="middle" transform="translate(599.81,1136.00) rotate(-45)">Monday</text>
<text font-size="27" text-anchor="middle" transform="translate(652.76,1136.00) rotate(-45)">Tuesday</text>
<text font-size="27" text-anchor="middle" transform="translate(705.70,1136.00) rotate(-45)">Wednesday</text>
<text font-size="27" text-anchor="middle" transform="translate(758.64,1136.00) rotate(-45)">Thursday</text>
<text font-size="27" text-anchor="middle" transform="translate(811.59,1136.00) rotate(-45)">Friday</text>
<text font-size="27" text-anchor="middle" transform="translate(864.53,1136.00) rotate(-45)">Saturday</text>
<rect x="908.30" y="123.00" width="381.20" height="53.90" fill="#000"/>
<text x="1098.9" y="160.2" font-size="27" text-anchor="middle" fill="#fff">Manhattan</text>
<rect x="908.30" y="176.90" width="381.20" height="875.31" fill="#fff"/>
<path d="M908.30 198.60H1289.50M908.30 234.77H1289.50M908.30 270.94H1289.50M908.30 307.11H1289.50M908.30 343.28H1289.50M908.30 379.45H1289.50M908.30 415.62H1289.50M908.30 451.79H1289.50M908.30 487.96H1289.50M908.30 524.13H1289.50M908.30 560.30H1289.50M908.30 596.47H1289.50M908.30 632.64H1289.50M908.30 668.81H1289.50M908.30 704.98H1289.50M908.30 741.15H1289.50M908.30 777.32H1289.50M908.30 813.49H1289.50M908.30 849.66H1289.50M908.30 885.83H1289.50M908.30 922.00H1289.50M908.30 958.17H1289.50M908.30 994.34H1289.50M908.30 1030.51H1289.50M940.07 176.90V1052.21M993.01 176.90V1052.21M1045.96 176.90V1052.21M1098.90 176.90V1052.21M1151.84 176.90V1052.21M1204.79 176.90V1052.21M1257.73 176.90V1052.21" stroke="#cfcfcf" stroke-width="1" fill="none"/>
<rect x="913.6" y="180.5" width="52.94" height="36.17" fill="#fff5e9"/><rect x="966.5" y="180.5" width="52.94" height="36.17" fill="#ffebd3"/><rect x="1019.5" y="180.5" width="52.94" height="36.17" fill="#ffe1bd"/><rect x="1072.4" y="180.5" width="52.94" height="36.17" fill="#ffd7a7"/><rect x="1125.4" y="180.5" width="52.94" height="36.17" fill="#ffc47c"/><rect x="1178.3" y="180.5" width="52.94" height="36.17" fill="#ffe1bd"/><rect x="1231.3" y="180.5" width="52.94" height="36.17" fill="#ffba66"/><rect x="913.6" y="216.7" width="52.94" height="36.17" fill="#ffe1bd"/><rect x="966.5" y="216.7" width="52.94" height="36.17" fill="#ffebd3"/><rect x="1019.5" y="216.7" width="52.94" height="36.17" fill="#fff5e9"/><rect x="1072.4" y="216.7" width="52.94" height="36.17" fill="#ffebd3"/><rect x="1125.4" y="216.7" width="52.94" height="36.17" fill="#ffe1bd"/><rect x="1178.3" y="216.7" width="52.94" height="36.17" fill="#fff5e9"/><rect x="1231.3" y="216.7" width="52.94" height="36.17" fill="#fff5e9"/><rect x="913.6" y="252.9" width="52.94" height="36.17" fill="#ffe1bd"/><rect x="966.5" y="252.9" width="52.94" height="36.17" fill="#fff5e9"/><rect x="1019.5" y="252.9" width="52.94" height="36.17" fill="#fff5e9"/><rect x="1072.4" y="252.9" width="52.94" height="36.17" fill="#ffd7a7"/><rect x="1125.4" y="252.9" width="52.94" height="36.17" fill="#ffe1bd"/><rect x="1178.3" y="252.9" width="52.94" height="36.17" fill="#ffe1bd"/><rect x="1231.3" y="252.9" width="52.94" height="36.17" fill="#ffd7a7"/><rect x="913.6" y="289.0" width="52.94" height="36.17" fill="#ffebd3"/><rect x="966.5" y="289.0" width="52.94" height="36.17" fill="#ffebd3"/><rect x="1019.5" y="289.0" width="52.94" height="36.17" fill="#ffc47c"/><rect x="1072.4" y="289.0" width="52.94" height="36.17" fill="#ffd7a7"/><rect x="1125.4" y="289.0" width="52.94" height="36.17" fill="#ffe1bd"/><rect x="1178.3" y="289.0" width="52.94" height="36.17" fill="#ffe1bd"/><rect x="1231.3" y="289.0" width="52.94" height="36.17" fill="#ffd7a7"/><rect x="913.6" y="325.2" width="52.94" height="36.17" fill="#fff5e9"/><rect x="966.5" y="325.2" width="52.94" height="36.17" fill="#ffebd3"/><rect x="1019.5" y="325.2" width="52.94" height="36.17" fill="#ffe1bd"/><rect x="1072.4" y="325.2" width="52.94" height="36.17" fill="#fff5e9"/><rect x="1125.4" y="325.2" width="52.94" height="36.17" fill="#ffd7a7"/><rect x="1178.3" y="325.2" width="52.94" height="36.17" fill="#fff5e9"/><rect x="1231.3" y="325.2" width="52.94" height="36.17" fill="#ffd7a7"/><rect x="913.6" y="361.4" width="52.94" height="36.17" fill="#ffebd3"/><rect x="966.5" y="361.4" width="52.94" height="36.17" fill="#fff5e9"/><rect x="1019.5" y="361.4" width="52.94" height="36.17" fill="#ffc47c"/><rect x="1072.4" y="361.4" width="52.94" height="36.17" fill="#ffcd91"/><rect x="1125.4" y="361.4" width="52.94" height="36.17" fill="#ffebd3"/><rect x="1178.3" y="361.4" width="52.94" height="36.17" fill="#ffe1bd"/><rect x="1231.3" y="361.4" width="52.94" height="36.17" fill="#fff5e9"/><rect x="913.6" y="397.5" width="52.94" height="36.17" fill="#ffe1bd"/><rect x="966.5" y="397.5" width="52.94" height="36.17" fill="#ffebd3"/><rect x="1019.5" y="397.5" width="52.94" height="36.17" fill="#ffba66"/><rect x="1072.4" y="397.5" width="52.94" height="36.17" fill="#ffe1bd"/><rect x="1125.4" y="397.5" width="52.94" height="36.17" fill="#fff5e9"/><rect x="1178.3" y="397.5" width="52.94" height="36.17" fill="#ffcd91"/><rect x="1231.3" y="397.5" width="52.94" height="36.17" fill="#ffba66"/><rect x="913.6" y="433.7" width="52.94" height="36.17" fill="#ffd7a7"/><rect x="966.5" y="433.7" width="52.94" height="36.17" fill="#ffe1bd"/><rect x="1019.5" y="433.7" width="52.94" height="36.17" fill="#ffba66"/><rect x="1072.4" y="433.7" width="52.94" height="36.17" fill="#ffba66"/><rect x="1125.4" y="433.7" width="52.94" height="36.17" fill="#ffebd3"/><rect x="1178.3" y="433.7" width="52.94" height="36.17" fill="#ffc47c"/><rect x="1231.3" y="433.7" width="52.94" height="36.17" fill="#ffe1bd"/><rect x="913.6" y="469.9" width="52.94" height="36.17" fill="#ffffff"/><rect x="966.5" y="469.9" width="52.94" height="36.17" fill="#ffebd3"/><rect x="1019.5" y="469.9" width="52.94" height="36.17" fill="#ffc47c"/><rect x="1072.4" y="469.9" width="52.94" height="36.17" fill="#ffa63a"/><rect x="1125.4" y="469.9" width="52.94" height="36.17" fill="#ffd7a7"/><rect x="1178.3" y="469.9" width="52.94" height="36.17" fill="#ffd7a7"/><rect x="1231.3" y="469.9" width="52.94" height="36.17" fill="#ffcd91"/><rect x="913.6" y="506.0" width="52.94" height="36.17" fill="#fff5e9"/><rect x="966.5" y="506.0" width="52.94" height="36.17" fill="#ffffff"/><rect x="1019.5" y="506.0" width="52.94" height="36.17" fill="#ffcd91"/><rect x="1072.4" y="506.0" width="52.94" height="36.17" fill="#ffcd91"/><rect x="1125.4" y="506.0" width="52.94" height="36.17" fill="#ffb050"/><rect x="1178.3" y="506.0" width="52.94" height="36.17" fill="#ffba66"/><rect x="1231.3" y="506.0" width="52.94" height="36.17" fill="#ffcd91"/><rect x="913.6" y="542.2" width="52.94" height="36.17" fill="#ffd7a7"/><rect x="966.5" y="542.2" width="52.94" height="36.17" fill="#ffd7a7"/><rect x="1019.5" y="542.2" width="52.94" height="36.17" fill="#fff5e9"/><rect x="1072.4" y="542.2" width="52.94" height="36.17" fill="#ffe1bd"/><rect x="1125.4" y="542.2" width="52.94" height="36.17" fill="#ffd7a7"/><rect x="1178.3" y="542.2" width="52.94" height="36.17" fill="#ffcd91"/><rect x="1231.3" y="542.2" width="52.94" height="36.17" fill="#ffcd91"/><rect x="913.6" y="578.4" width="52.94" height="36.17" fill="#fff5e9"/><rect x="966.5" y="578.4" width="52.94" height="36.17" fill="#ffcd91"/><rect x="1019.5" y="578.4" width="52.94" height="36.17" fill="#ffd7a7"/><rect x="1072.4" y="578.4" width="52.94" height="36.17" fill="#ffc47c"/><rect x="1125.4" y="578.4" width="52.94" height="36.17" fill="#ffc47c"/><rect x="1178.3" y="578.4" width="52.94" height="36.17" fill="#ffd7a7"/><rect x="1231.3" y="578.4" width="52.94" height="36.17" fill="#ffcd91"/><rect x="913.6" y="614.6" width="52.94" height="36.17" fill="#ffd7a7"/><rect x="966.5" y="614.6" width="52.94" height="36.17" fill="#ffd7a7"/><rect x="1019.5" y="614.6" width="52.94" height="36.17" fill="#ffc47c"/><rect x="1072.4" y="614.6" width="52.94" height="36.17" fill="#ffba66"/><rect x="1125.4" y="614.6" width="52.94" height="36.17" fill="#ffcd91"/><rect x="1178.3" y="614.6" width="52.94" height="36.17" fill="#ffc47c"/><rect x="1231.3" y="614.6" width="52.94" height="36.17" fill="#ffe1bd"/><rect x="913.6" y="650.7" width="52.94" height="36.17" fill="#ffcd91"/><rect x="966.5" y="650.7" width="52.94" height="36.17" fill="#ffcd91"/><rect x="1019.5" y="650.7" width="52.94" height="36.17" fill="#ffebd3"/><rect x="1072.4" y="650.7" width="52.94" height="36.17" fill="#ffebd3"/><rect x="1125.4" y="650.7" width="52.94" height="36.17" fill="#ffcd91"/><rect x="1178.3" y="650.7" width="52.94" height="36.17" fill="#ffe1bd"/><rect x="1231.3" y="650.7" width="52.94" height="36.17" fill="#ffe1bd"/><rect x="913.6" y="686.9" width="52.94" height="36.17" fill="#fff5e9"/><rect x="966.5" y="686.9" width="52.94" height="36.17" fill="#ffe1bd"/><rect x="1019.5" y="686.9" width="52.94" height="36.17" fill="#fff5e9"/><rect x="1072.4" y="686.9" width="52.94" height="36.17" fill="#ffe1bd"/><rect x="1125.4" y="686.9" width="52.94" height="36.17" fill="#ffd7a7"/><rect x="1178.3" y="686.9" width="52.94" height="36.17" fill="#ffe1bd"/><rect x="1231.3" y="686.9" width="52.94" height="36.17" fill="#ffc47c"/><rect x="913.6" y="723.1" width="52.94" height="36.17" fill="#fff5e9"/><rect x="966.5" y="723.1" width="52.94" height="36.17" fill="#ffd7a7"/><rect x="1019.5" y="723.1" width="52.94" height="36.17" fill="#ffc47c"/><rect x="1072.4" y="723.1" width="52.94" height="36.17" fill="#ffcd91"/><rect x="1125.4" y="723.1" width="52.94" height="36.17" fill="#ffd7a7"/><rect x="1178.3" y="723.1" width="52.94" height="36.17" fill="#ffebd3"/><rect x="1231.3" y="723.1" width="52.94" height="36.17" fill="#ffe1bd"/><rect x="913.6" y="759.2" width="52.94" height="36.17" fill="#ffebd3"/><rect x="966.5" y="759.2" width="52.94" height="36.17" fill="#ffd7a7"/><rect x="1019.5" y="759.2" width="52.94" height="36.17" fill="#fff5e9"/><rect x="1072.4" y="759.2" width="52.94" height="36.17" fill="#ffffff"/><rect x="1125.4" y="759.2" width="52.94" height="36.17" fill="#ffebd3"/><rect x="1178.3" y="759.2" width="52.94" height="36.17" fill="#ffffff"/><rect x="1231.3" y="759.2" width="52.94" height="36.17" fill="#fff5e9"/><rect x="913.6" y="795.4" width="52.94" height="36.17" fill="#ffebd3"/><rect x="966.5" y="795.4" width="52.94" height="36.17" fill="#ffffff"/><rect x="1019.5" y="795.4" width="52.94" height="36.17" fill="#ffffff"/><rect x="1072.4" y="795.4" width="52.94" height="36.17" fill="#fff5e9"/><rect x="1125.4" y="795.4" width="52.94" height="36.17" fill="#ffffff"/><rect x="1178.3" y="795.4" width="52.94" height="36.17" fill="#ffe1bd"/><rect x="1231.3" y="795.4" width="52.94" height="36.17" fill="#ffffff"/><rect x="913.6" y="831.6" width="52.94" height="36.17" fill="#ffffff"/><rect x="966.5" y="831.6" width="52.94" height="36.17" fill="#ffd7a7"/><rect x="1019.5" y="831.6" width="52.94" height="36.17" fill="#ffebd3"/><rect x="1072.4" y="831.6" width="52.94" height="36.17" fill="#ffffff"/><rect x="1125.4" y="831.6" width="52.94" height="36.17" fill="#ffd7a7"/><rect x="1178.3" y="831.6" width="52.94" height="36.17" fill="#fff5e9"/><rect x="1231.3" y="831.6" width="52.94" height="36.17" fill="#ffffff"/><rect x="913.6" y="867.7" width="52.94" height="36.17" fill="#fff5e9"/><rect x="966.5" y="867.7" width="52.94" height="36.17" fill="#fff5e9"/><rect x="1019.5" y="867.7" width="52.94" height="36.17" fill="#ffd7a7"/><rect x="1072.4" y="867.7" width="52.94" height="36.17" fill="#ffe1bd"/><rect x="1125.4" y="867.7" width="52.94" height="36.17" fill="#ffd7a7"/><rect x="1178.3" y="867.7" width="52.94" height="36.17" fill="#ffebd3"/><rect x="1231.3" y="867.7" width="52.94" height="36.17" fill="#ffebd3"/><rect x="913.6" y="903.9" width="52.94" height="36.17" fill="#fff5e9"/><rect x="966.5" y="903.9" width="52.94" height="36.17" fill="#fff5e9"/><rect x="1019.5" y="903.9" width="52.94" height="36.17" fill="#ffd7a7"/><rect x="1072.4" y="903.9" width="52.94" height="36.17" fill="#ffebd3"/><rect x="1125.4" y="903.9" width="52.94" height="36.17" fill="#ffebd3"/><rect x="1178.3" y="903.9" width="52.94" height="36.17" fill="#ffebd3"/><rect x="1231.3" y="903.9" width="52.94" height="36.17" fill="#ffffff"/><rect x="913.6" y="940.1" width="52.94" height="36.17" fill="#fff5e9"/><rect x="966.5" y="940.1" width="52.94" height="36.17" fill="#fff5e9"/><rect x="1019.5" y="940.1" width="52.94" height="36.17" fill="#ffffff"/><rect x="1072.4" y="940.1" width="52.94" height="36.17" fill="#ffebd3"/><rect x="1125.4" y="940.1" width="52.94" height="36.17" fill="#ffebd3"/><rect x="1178.3" y="940.1" width="52.94" height="36.17" fill="#fff5e9"/><rect x="1231.3" y="940.1" width="52.94" height="36.17" fill="#ffe1bd"/><rect x="913.6" y="976.3" width="52.94" height="36.17" fill="#ffd7a7"/><rect x="966.5" y="976.3" width="52.94" height="36.17" fill="#fff5e9"/><rect x="1019.5" y="976.3" width="52.94" height="36.17" fill="#ffcd91"/><rect x="1072.4" y="976.3" width="52.94" height="36.17" fill="#ffd7a7"/><rect x="1125.4" y="976.3" width="52.94" height="36.17" fill="#ffd7a7"/><rect x="1178.3" y="976.3" width="52.94" height="36.17" fill="#ffcd91"/><rect x="1231.3" y="976.3" width="52.94" height="36.17" fill="#ffe1bd"/><rect x="913.6" y="1012.4" width="52.94" height="36.17" fill="#ffe1bd"/><rect x="966.5" y="1012.4" width="52.94" height="36.17" fill="#ffffff"/><rect x="1019.5" y="1012.4" width="52.94" height="36.17" fill="#ffffff"/><rect x="1072.4" y="1012.4" width="52.94" height="36.17" fill="#ffebd3"/><rect x="1125.4" y="1012.4" width="52.94" height="36.17" fill="#ffcd91"/><rect x="1178.3" y="1012.4" width="52.94" height="36.17" fill="#ffebd3"/><rect x="1231.3" y="1012.4" width="52.94" height="36.17" fill="#ffcd91"/>
<path d="M913.59 180.51H1284.21M913.59 216.69H1284.21M913.59 252.85H1284.21M913.59 289.02H1284.21M913.59 325.19H1284.21M913.59 361.37H1284.21M913.59 397.53H1284.21M913.59 433.70H1284.21M913.59 469.88H1284.21M913.59 506.05H1284.21M913.59 542.22H1284.21M913.59 578.38H1284.21M913.59 614.56H1284.21M913.59 650.73H1284.21M913.59 686.89H1284.21M913.59 723.07H1284.21M913.59 759.24H1284.21M913.59 795.40H1284.21M913.59 831.58H1284.21M913.59 867.75H1284.21M913.59 903.92H1284.21M913.59 940.09H1284.21M913.59 976.25H1284.21M913.59 1012.43H1284.21M913.59 1048.60H1284.21M913.59 180.51V1048.60M966.54 180.51V1048.60M1019.48 180.51V1048.60M1072.43 180.51V1048.60M1125.37 180.51V1048.60M1178.32 180.51V1048.60M1231.26 180.51V1048.60M1284.21 180.51V1048.60" stroke="#000" stroke-width="1.3" fill="none" stroke-opacity="0.6"/>
<g font-size="15.6" text-anchor="middle"><text x="940.1" y="205.1">1</text><text x="993.0" y="205.1">2</text><text x="1046.0" y="205.1">3</text><text x="1098.9" y="205.1">4</text><text x="1151.8" y="205.1">6</text><text x="1204.8" y="205.1">3</text><text x="1257.7" y="205.1">7</text><text x="940.1" y="241.3">3</text><text x="993.0" y="241.3">2</text><text x="1046.0" y="241.3">1</text><text x="1098.9" y="241.3">2</text><text x="1151.8" y="241.3">3</text><text x="1204.8" y="241.3">1</text><text x="1257.7" y="241.3">1</text><text x="940.1" y="277.5">3</text><text x="993.0" y="277.5">1</text><text x="1046.0" y="277.5">1</text><text x="1098.9" y="277.5">4</text><text x="1151.8" y="277.5">3</text><text x="1204.8" y="277.5">3</text><text x="1257.7" y="277.5">4</text><text x="940.1" y="313.6">2</text><text x="993.0" y="313.6">2</text><text x="1046.0" y="313.6">6</text><text x="1098.9" y="313.6">4</text><text x="1151.8" y="313.6">3</text><text x="1204.8" y="313.6">3</text><text x="1257.7" y="313.6">4</text><text x="940.1" y="349.8">1</text><text x="993.0" y="349.8">2</text><text x="1046.0" y="349.8">3</text><text x="1098.9" y="349.8">1</text><text x="1151.8" y="349.8">4</text><text x="1204.8" y="349.8">1</text><text x="1257.7" y="349.8">4</text><text x="940.1" y="386.0">2</text><text x="993.0" y="386.0">1</text><text x="1046.0" y="386.0">6</text><text x="1098.9" y="386.0">5</text><text x="1151.8" y="386.0">2</text><text x="1204.8" y="386.0">3</text><text x="1257.7" y="386.0">1</text><text x="940.1" y="422.1">3</text><text x="993.0" y="422.1">2</text><text x="1046.0" y="422.1">7</text><text x="1098.9" y="422.1">3</text><text x="1151.8" y="422.1">1</text><text x="1204.8" y="422.1">5</text><text x="1257.7" y="422.1">7</text><text x="940.1" y="458.3">4</text><text x="993.0" y="458.3">3</text><text x="1046.0" y="458.3">7</text><text x="1098.9" y="458.3">7</text><text x="1151.8" y="458.3">2</text><text x="1204.8" y="458.3">6</text><text x="1257.7" y="458.3">3</text><text x="940.1" y="494.5">0</text><text x="993.0" y="494.5">2</text><text x="1046.0" y="494.5">6</text><text x="1098.9" y="494.5">9</text><text x="1151.8" y="494.5">4</text><text x="1204.8" y="494.5">4</text><text x="1257.7" y="494.5">5</text><text x="940.1" y="530.7">1</text><text x="993.0" y="530.7">0</text><text x="1046.0" y="530.7">5</text><text x="1098.9" y="530.7">5</text><text x="1151.8" y="530.7">8</text><text x="1204.8" y="530.7">7</text><text x="1257.7" y="530.7">5</text><text x="940.1" y="566.8">4</text><text x="993.0" y="566.8">4</text><text x="1046.0" y="566.8">1</text><text x="1098.9" y="566.8">3</text><text x="1151.8" y="566.8">4</text><text x="1204.8" y="566.8">5</text><text x="1257.7" y="566.8">5</text><text x="940.1" y="603.0">1</text><text x="993.0" y="603.0">5</text><text x="1046.0" y="603.0">4</text><text x="1098.9" y="603.0">6</text><text x="1151.8" y="603.0">6</text><text x="1204.8" y="603.0">4</text><text x="1257.7" y="603.0">5</text><text x="940.1" y="639.2">4</text><text x="993.0" y="639.2">4</text><text x="1046.0" y="639.2">6</text><text x="1098.9" y="639.2">7</text><text x="1151.8" y="639.2">5</text><text x="1204.8" y="639.2">6</text><text x="1257.7" y="639.2">3</text><text x="940.1" y="675.3">5</text><text x="993.0" y="675.3">5</text><text x="1046.0" y="675.3">2</text><text x="1098.9" y="675.3">2</text><text x="1151.8" y="675.3">5</text><text x="1204.8" y="675.3">3</text><text x="1257.7" y="675.3">3</text><text x="940.1" y="711.5">1</text><text x="993.0" y="711.5">3</text><text x="1046.0" y="711.5">1</text><text x="1098.9" y="711.5">3</text><text x="1151.8" y="711.5">4</text><text x="1204.8" y="711.5">3</text><text x="1257.7" y="711.5">6</text><text x="940.1" y="747.7">1</text><text x="993.0" y="747.7">4</text><text x="1046.0" y="747.7">6</text><text x="1098.9" y="747.7">5</text><text x="1151.8" y="747.7">4</text><text x="1204.8" y="747.7">2</text><text x="1257.7" y="747.7">3</text><text x="940.1" y="783.8">2</text><text x="993.0" y="783.8">4</text><text x="1046.0" y="783.8">1</text><text x="1098.9" y="783.8">0</text><text x="1151.8" y="783.8">2</text><text x="1204.8" y="783.8">0</text><text x="1257.7" y="783.8">1</text><text x="940.1" y="820.0">2</text><text x="993.0" y="820.0">0</text><text x="1046.0" y="820.0">0</text><text x="1098.9" y="820.0">1</text><text x="1151.8" y="820.0">0</text><text x="1204.8" y="820.0">3</text><text x="1257.7" y="820.0">0</text><text x="940.1" y="856.2">0</text><text x="993.0" y="856.2">4</text><text x="1046.0" y="856.2">2</text><text x="1098.9" y="856.2">0</text><text x="1151.8" y="856.2">4</text><text x="1204.8" y="856.2">1</text><text x="1257.7" y="856.2">0</text><text x="940.1" y="892.4">1</text><text x="993.0" y="892.4">1</text><text x="1046.0" y="892.4">4</text><text x="1098.9" y="892.4">3</text><text x="1151.8" y="892.4">4</text><text x="1204.8" y="892.4">2</text><text x="1257.7" y="892.4">2</text><text x="940.1" y="928.5">1</text><text x="993.0" y="928.5">1</text><text x="1046.0" y="928.5">4</text><text x="1098.9" y="928.5">2</text><text x="1151.8" y="928.5">2</text><text x="1204.8" y="928.5">2</text><text x="1257.7" y="928.5">0</text><text x="940.1" y="964.7">1</text><text x="993.0" y="964.7">1</text><text x="1046.0" y="964.7">0</text><text x="1098.9" y="964.7">2</text><text x="1151.8" y="964.7">2</text><text x="1204.8" y="964.7">1</text><text x="1257.7" y="964.7">3</text><text x="940.1" y="1000.9">4</text><text x="993.0" y="1000.9">1</text><text x="1046.0" y="1000.9">5</text><text x="1098.9" y="1000.9">4</text><text x="1151.8" y="1000.9">4</text><text x="1204.8" y="1000.9">5</text><text x="1257.7" y="1000.9">3</text><text x="940.1" y="1037.0">3</text><text x="993.0" y="1037.0">0</text><text x="1046.0" y="1037.0">0</text><text x="1098.9" y="1037.0">2</text><text x="1151.8" y="1037.0">5</text><text x="1204.8" y="1037.0">2</text><text x="1257.7" y="1037.0">5</text></g>
<rect x="909.00" y="176.90" width="379.80" height="874.61" fill="none" stroke="#000" stroke-width="1.4"/>
<path d="M940.07 1052.21V1061.41M993.01 1052.21V1061.41M1045.96 1052.21V1061.41M1098.90 1052.21V1061.41M1151.84 1052.21V1061.41M1204.79 1052.21V1061.41M1257.73 1052.21V1061.41" stroke="#000" stroke-width="1.4" fill="none"/>
<text font-size="27" text-anchor="middle" transform="translate(945.57,1136.00) rotate(-45)">Sunday</text>
<text font-size="27" text-anchor="middle" transform="translate(998.51,1136.00) rotate(-45)">Monday</text>
<text font-size="27" text-anchor="middle" transform="translate(1051.46,1136.00) rotate(-45)">Tuesday</text>
<text font-size="27" text-anchor="middle" transform="translate(1104.40,1136.00) rotate(-45)">Wednesday</text>
<text font-size="27" text-anchor="middle" transform="translate(1157.34,1136.00) rotate(-45)">Thursday</text>
<text font-size="27" text-anchor="middle" transform="translate(1210.29,1136.00) rotate(-45)">Friday</text>
<text font-size="27" text-anchor="middle" transform="translate(1263.23,1136.00) rotate(-45)">Saturday</text>
<rect x="1307.00" y="123.00" width="381.20" height="53.90" fill="#000"/>
<text x="1497.6" y="160.2" font-size="27" text-anchor="middle" fill="#fff">Queens</text>
<rect x="1307.00" y="176.90" width="381.20" height="875.31" fill="#fff"/>
<path d="M1307.00 198.60H1688.20M1307.00 234.77H1688.20M1307.00 270.94H1688.20M1307.00 307.11H1688.20M1307.00 343.28H1688.20M1307.00 379.45H1688.20M1307.00 415.62H1688.20M1307.00 451.79H1688.20M1307.00 487.96H1688.20M1307.00 524.13H1688.20M1307.00 560.30H1688.20M1307.00 596.47H1688.20M1307.00 632.64H1688.20M1307.00 668.81H1688.20M1307.00 704.98H1688.20M1307.00 741.15H1688.20M1307.00 777.32H1688.20M1307.00 813.49H1688.20M1307.00 849.66H1688.20M1307.00 885.83H1688.20M1307.00 922.00H1688.20M1307.00 958.17H1688.20M1307.00 994.34H1688.20M1307.00 1030.51H1688.20M1338.77 176.90V1052.21M1391.71 176.90V1052.21M1444.66 176.90V1052.21M1497.60 176.90V1052.21M1550.54 176.90V1052.21M1603.49 176.90V1052.21M1656.43 176.90V1052.21" stroke="#cfcfcf" stroke-width="1" fill="none"/>
<rect x="1312.3" y="180.5" width="52.94" height="36.17" fill="#ffe1bd"/><rect x="1365.2" y="180.5" width="52.94" height="36.17" fill="#ffebd3"/><rect x="1418.2" y="180.5" width="52.94" height="36.17" fill="#ffffff"/><rect x="1471.1" y="180.5" width="52.94" height="36.17" fill="#ffcd91"/><rect x="1524.1" y="180.5" width="52.94" height="36.17" fill="#ffe1bd"/><rect x="1577.0" y="180.5" width="52.94" height="36.17" fill="#fff5e9"/><rect x="1630.0" y="180.5" width="52.94" height="36.17" fill="#ffe1bd"/><rect x="1312.3" y="216.7" width="52.94" height="36.17" fill="#ffebd3"/><rect x="1365.2" y="216.7" width="52.94" height="36.17" fill="#ffffff"/><rect x="1418.2" y="216.7" width="52.94" height="36.17" fill="#ffebd3"/><rect x="1471.1" y="216.7" width="52.94" height="36.17" fill="#ffd7a7"/><rect x="1524.1" y="216.7" width="52.94" height="36.17" fill="#ffebd3"/><rect x="1577.0" y="216.7" width="52.94" height="36.17" fill="#ffe1bd"/><rect x="1630.0" y="216.7" width="52.94" height="36.17" fill="#ffebd3"/><rect x="1312.3" y="252.9" width="52.94" height="36.17" fill="#ffebd3"/><rect x="1365.2" y="252.9" width="52.94" height="36.17" fill="#ffe1bd"/><rect x="1418.2" y="252.9" width="52.94" height="36.17" fill="#ffe1bd"/><rect x="1471.1" y="252.9" width="52.94" height="36.17" fill="#fff5e9"/><rect x="1524.1" y="252.9" width="52.94" height="36.17" fill="#ffc47c"/><rect x="1577.0" y="252.9" width="52.94" height="36.17" fill="#ffcd91"/><rect x="1630.0" y="252.9" width="52.94" height="36.17" fill="#ffd7a7"/><rect x="1312.3" y="289.0" width="52.94" height="36.17" fill="#ffebd3"/><rect x="1365.2" y="289.0" width="52.94" height="36.17" fill="#fff5e9"/><rect x="1418.2" y="289.0" width="52.94" height="36.17" fill="#ffebd3"/><rect x="1471.1" y="289.0" width="52.94" height="36.17" fill="#ffcd91"/><rect x="1524.1" y="289.0" width="52.94" height="36.17" fill="#ffffff"/><rect x="1577.0" y="289.0" width="52.94" height="36.17" fill="#ffffff"/><rect x="1630.0" y="289.0" width="52.94" height="36.17" fill="#ffebd3"/><rect x="1312.3" y="325.2" width="52.94" height="36.17" fill="#ffffff"/><rect x="1365.2" y="325.2" width="52.94" height="36.17" fill="#ffd7a7"/><rect x="1418.2" y="325.2" width="52.94" height="36.17" fill="#ffebd3"/><rect x="1471.1" y="325.2" width="52.94" height="36.17" fill="#ffebd3"/><rect x="1524.1" y="325.2" width="52.94" height="36.17" fill="#ffebd3"/><rect x="1577.0" y="325.2" width="52.94" height="36.17" fill="#ffe1bd"/><rect x="1630.0" y="325.2" width="52.94" height="36.17" fill="#ffffff"/><rect x="1312.3" y="361.4" width="52.94" height="36.17" fill="#ffcd91"/><rect x="1365.2" y="361.4" width="52.94" height="36.17" fill="#ffe1bd"/><rect x="1418.2" y="361.4" width="52.94" height="36.17" fill="#ffcd91"/><rect x="1471.1" y="361.4" width="52.94" height="36.17" fill="#ffebd3"/><rect x="1524.1" y="361.4" width="52.94" height="36.17" fill="#ffe1bd"/><rect x="1577.0" y="361.4" width="52.94" height="36.17" fill="#ffe1bd"/><rect x="1630.0" y="361.4" width="52.94" height="36.17" fill="#fff5e9"/><rect x="1312.3" y="397.5" width="52.94" height="36.17" fill="#ffebd3"/><rect x="1365.2" y="397.5" width="52.94" height="36.17" fill="#ffebd3"/><rect x="1418.2" y="397.5" width="52.94" height="36.17" fill="#ffffff"/><rect x="1471.1" y="397.5" width="52.94" height="36.17" fill="#ffebd3"/><rect x="1524.1" y="397.5" width="52.94" height="36.17" fill="#ffffff"/><rect x="1577.0" y="397.5" width="52.94" height="36.17" fill="#fff5e9"/><rect x="1630.0" y="397.5" width="52.94" height="36.17" fill="#ffcd91"/><rect x="1312.3" y="433.7" width="52.94" height="36.17" fill="#ffe1bd"/><rect x="1365.2" y="433.7" width="52.94" height="36.17" fill="#ffcd91"/><rect x="1418.2" y="433.7" width="52.94" height="36.17" fill="#ffebd3"/><rect x="1471.1" y="433.7" width="52.94" height="36.17" fill="#ffe1bd"/><rect x="1524.1" y="433.7" width="52.94" height="36.17" fill="#ffebd3"/><rect x="1577.0" y="433.7" width="52.94" height="36.17" fill="#ffd7a7"/><rect x="1630.0" y="433.7" width="52.94" height="36.17" fill="#fff5e9"/><rect x="1312.3" y="469.9" width="52.94" height="36.17" fill="#ffebd3"/><rect x="1365.2" y="469.9" width="52.94" height="36.17" fill="#ffe1bd"/><rect x="1418.2" y="469.9" width="52.94" height="36.17" fill="#ffd7a7"/><rect x="1471.1" y="469.9" width="52.94" height="36.17" fill="#ffd7a7"/><rect x="1524.1" y="469.9" width="52.94" height="36.17" fill="#ffe1bd"/><rect x="1577.0" y="469.9" width="52.94" height="36.17" fill="#ffebd3"/><rect x="1630.0" y="469.9" width="52.94" height="36.17" fill="#ffd7a7"/><rect x="1312.3" y="506.0" width="52.94" height="36.17" fill="#ffebd3"/><rect x="1365.2" y="506.0" width="52.94" height="36.17" fill="#ffcd91"/><rect x="1418.2" y="506.0" width="52.94" height="36.17" fill="#ffebd3"/><rect x="1471.1" y="506.0" width="52.94" height="36.17" fill="#ffebd3"/><rect x="1524.1" y="506.0" width="52.94" height="36.17" fill="#ffe1bd"/><rect x="1577.0" y="506.0" width="52.94" height="36.17" fill="#ffe1bd"/><rect x="1630.0" y="506.0" width="52.94" height="36.17" fill="#ffcd91"/><rect x="1312.3" y="542.2" width="52.94" height="36.17" fill="#ffffff"/><rect x="1365.2" y="542.2" width="52.94" height="36.17" fill="#ffebd3"/><rect x="1418.2" y="542.2" width="52.94" height="36.17" fill="#ffe1bd"/><rect x="1471.1" y="542.2" width="52.94" height="36.17" fill="#ffe1bd"/><rect x="1524.1" y="542.2" width="52.94" height="36.17" fill="#ffe1bd"/><rect x="1577.0" y="542.2" width="52.94" height="36.17" fill="#ffebd3"/><rect x="1630.0" y="542.2" width="52.94" height="36.17" fill="#ffebd3"/><rect x="1312.3" y="578.4" width="52.94" height="36.17" fill="#fff5e9"/><rect x="1365.2" y="578.4" width="52.94" height="36.17" fill="#fff5e9"/><rect x="1418.2" y="578.4" width="52.94" height="36.17" fill="#ffc47c"/><rect x="1471.1" y="578.4" width="52.94" height="36.17" fill="#ffebd3"/><rect x="1524.1" y="578.4" width="52.94" height="36.17" fill="#ffcd91"/><rect x="1577.0" y="578.4" width="52.94" height="36.17" fill="#ffc47c"/><rect x="1630.0" y="578.4" width="52.94" height="36.17" fill="#ffd7a7"/><rect x="1312.3" y="614.6" width="52.94" height="36.17" fill="#ffd7a7"/><rect x="1365.2" y="614.6" width="52.94" height="36.17" fill="#ffcd91"/><rect x="1418.2" y="614.6" width="52.94" height="36.17" fill="#ffc47c"/><rect x="1471.1" y="614.6" width="52.94" height="36.17" fill="#ffe1bd"/><rect x="1524.1" y="614.6" width="52.94" height="36.17" fill="#ffe1bd"/><rect x="1577.0" y="614.6" width="52.94" height="36.17" fill="#ffd7a7"/><rect x="1630.0" y="614.6" width="52.94" height="36.17" fill="#ffd7a7"/><rect x="1312.3" y="650.7" width="52.94" height="36.17" fill="#ffe1bd"/><rect x="1365.2" y="650.7" width="52.94" height="36.17" fill="#ffd7a7"/><rect x="1418.2" y="650.7" width="52.94" height="36.17" fill="#ffd7a7"/><rect x="1471.1" y="650.7" width="52.94" height="36.17" fill="#ffebd3"/><rect x="1524.1" y="650.7" width="52.94" height="36.17" fill="#ffffff"/><rect x="1577.0" y="650.7" width="52.94" height="36.17" fill="#ffe1bd"/><rect x="1630.0" y="650.7" width="52.94" height="36.17" fill="#ffd7a7"/><rect x="1312.3" y="686.9" width="52.94" height="36.17" fill="#ffebd3"/><rect x="1365.2" y="686.9" width="52.94" height="36.17" fill="#ffd7a7"/><rect x="1418.2" y="686.9" width="52.94" height="36.17" fill="#ffe1bd"/><rect x="1471.1" y="686.9" width="52.94" height="36.17" fill="#ffe1bd"/><rect x="1524.1" y="686.9" width="52.94" height="36.17" fill="#ffebd3"/><rect x="1577.0" y="686.9" width="52.94" height="36.17" fill="#ffebd3"/><rect x="1630.0" y="686.9" width="52.94" height="36.17" fill="#ffebd3"/><rect x="1312.3" y="723.1" width="52.94" height="36.17" fill="#ffebd3"/><rect x="1365.2" y="723.1" width="52.94" height="36.17" fill="#ffd7a7"/><rect x="1418.2" y="723.1" width="52.94" height="36.17" fill="#fff5e9"/><rect x="1471.1" y="723.1" width="52.94" height="36.17" fill="#fff5e9"/><rect x="1524.1" y="723.1" width="52.94" height="36.17" fill="#ffd7a7"/><rect x="1577.0" y="723.1" width="52.94" height="36.17" fill="#fff5e9"/><rect x="1630.0" y="723.1" width="52.94" height="36.17" fill="#ffe1bd"/><rect x="1312.3" y="759.2" width="52.94" height="36.17" fill="#fff5e9"/><rect x="1365.2" y="759.2" width="52.94" height="36.17" fill="#ffebd3"/><rect x="1418.2" y="759.2" width="52.94" height="36.17" fill="#fff5e9"/><rect x="1471.1" y="759.2" width="52.94" height="36.17" fill="#ffe1bd"/><rect x="1524.1" y="759.2" width="52.94" height="36.17" fill="#ffe1bd"/><rect x="1577.0" y="759.2" width="52.94" height="36.17" fill="#ffebd3"/><rect x="1630.0" y="759.2" width="52.94" height="36.17" fill="#fff5e9"/><rect x="1312.3" y="795.4" width="52.94" height="36.17" fill="#fff5e9"/><rect x="1365.2" y="795.4" width="52.94" height="36.17" fill="#ffffff"/><rect x="1418.2" y="795.4" width="52.94" height="36.17" fill="#ffffff"/><rect x="1471.1" y="795.4" width="52.94" height="36.17" fill="#fff5e9"/><rect x="1524.1" y="795.4" width="52.94" height="36.17" fill="#ffd7a7"/><rect x="1577.0" y="795.4" width="52.94" height="36.17" fill="#fff5e9"/><rect x="1630.0" y="795.4" width="52.94" height="36.17" fill="#fff5e9"/><rect x="1312.3" y="831.6" width="52.94" height="36.17" fill="#ffffff"/><rect x="1365.2" y="831.6" width="52.94" height="36.17" fill="#ffffff"/><rect x="1418.2" y="831.6" width="52.94" height="36.17" fill="#ffebd3"/><rect x="1471.1" y="831.6" width="52.94" height="36.17" fill="#fff5e9"/><rect x="1524.1" y="831.6" width="52.94" height="36.17" fill="#fff5e9"/><rect x="1577.0" y="831.6" width="52.94" height="36.17" fill="#ffebd3"/><rect x="1630.0" y="831.6" width="52.94" height="36.17" fill="#ffe1bd"/><rect x="1312.3" y="867.7" width="52.94" height="36.17" fill="#ffffff"/><rect x="1365.2" y="867.7" width="52.94" height="36.17" fill="#ffebd3"/><rect x="1418.2" y="867.7" width="52.94" height="36.17" fill="#ffebd3"/><rect x="1471.1" y="867.7" width="52.94" height="36.17" fill="#fff5e9"/><rect x="1524.1" y="867.7" width="52.94" height="36.17" fill="#fff5e9"/><rect x="1577.0" y="867.7" width="52.94" height="36.17" fill="#fff5e9"/><rect x="1630.0" y="867.7" width="52.94" height="36.17" fill="#fff5e9"/><rect x="1312.3" y="903.9" width="52.94" height="36.17" fill="#ffebd3"/><rect x="1365.2" y="903.9" width="52.94" height="36.17" fill="#ffebd3"/><rect x="1418.2" y="903.9" width="52.94" height="36.17" fill="#fff5e9"/><rect x="1471.1" y="903.9" width="52.94" height="36.17" fill="#ffffff"/><rect x="1524.1" y="903.9" width="52.94" height="36.17" fill="#fff5e9"/><rect x="1577.0" y="903.9" width="52.94" height="36.17" fill="#ffffff"/><rect x="1630.0" y="903.9" width="52.94" height="36.17" fill="#ffffff"/><rect x="1312.3" y="940.1" width="52.94" height="36.17" fill="#fff5e9"/><rect x="1365.2" y="940.1" width="52.94" height="36.17" fill="#ffebd3"/><rect x="1418.2" y="940.1" width="52.94" height="36.17" fill="#ffffff"/><rect x="1471.1" y="940.1" width="52.94" height="36.17" fill="#fff5e9"/><rect x="1524.1" y="940.1" width="52.94" height="36.17" fill="#ffd7a7"/><rect x="1577.0" y="940.1" width="52.94" height="36.17" fill="#ffebd3"/><rect x="1630.0" y="940.1" width="52.94" height="36.17" fill="#fff5e9"/><rect x="1312.3" y="976.3" width="52.94" height="36.17" fill="#fff5e9"/><rect x="1365.2" y="976.3" width="52.94" height="36.17" fill="#fff5e9"/><rect x="1418.2" y="976.3" width="52.94" height="36.17" fill="#ffebd3"/><rect x="1471.1" y="976.3" width="52.94" height="36.17" fill="#fff5e9"/><rect x="1524.1" y="976.3" width="52.94" height="36.17" fill="#fff5e9"/><rect x="1577.0" y="976.3" width="52.94" height="36.17" fill="#fff5e9"/><rect x="1630.0" y="976.3" width="52.94" height="36.17" fill="#ffebd3"/><rect x="1312.3" y="1012.4" width="52.94" height="36.17" fill="#ffebd3"/><rect x="1365.2" y="1012.4" width="52.94" height="36.17" fill="#fff5e9"/><rect x="1418.2" y="1012.4" width="52.94" height="36.17" fill="#fff5e9"/><rect x="1471.1" y="1012.4" width="52.94" height="36.17" fill="#ffe1bd"/><rect x="1524.1" y="1012.4" width="52.94" height="36.17" fill="#ffebd3"/><rect x="1577.0" y="1012.4" width="52.94" height="36.17" fill="#ffe1bd"/><rect x="1630.0" y="1012.4" width="52.94" height="36.17" fill="#ffebd3"/>
<path d="M1312.29 180.51H1682.91M1312.29 216.69H1682.91M1312.29 252.85H1682.91M1312.29 289.02H1682.91M1312.29 325.19H1682.91M1312.29 361.37H1682.91M1312.29 397.53H1682.91M1312.29 433.70H1682.91M1312.29 469.88H1682.91M1312.29 506.05H1682.91M1312.29 542.22H1682.91M1312.29 578.38H1682.91M1312.29 614.56H1682.91M1312.29 650.73H1682.91M1312.29 686.89H1682.91M1312.29 723.07H1682.91M1312.29 759.24H1682.91M1312.29 795.40H1682.91M1312.29 831.58H1682.91M1312.29 867.75H1682.91M1312.29 903.92H1682.91M1312.29 940.09H1682.91M1312.29 976.25H1682.91M1312.29 1012.43H1682.91M1312.29 1048.60H1682.91M1312.29 180.51V1048.60M1365.24 180.51V1048.60M1418.18 180.51V1048.60M1471.13 180.51V1048.60M1524.07 180.51V1048.60M1577.02 180.51V1048.60M1629.96 180.51V1048.60M1682.91 180.51V1048.60" stroke="#000" stroke-width="1.3" fill="none" stroke-opacity="0.6"/>
<g font-size="15.6" text-anchor="middle"><text x="1338.8" y="205.1">3</text><text x="1391.7" y="205.1">2</text><text x="1444.7" y="205.1">0</text><text x="1497.6" y="205.1">5</text><text x="1550.5" y="205.1">3</text><text x="1603.5" y="205.1">1</text><text x="1656.4" y="205.1">3</text><text x="1338.8" y="241.3">2</text><text x="1391.7" y="241.3">0</text><text x="1444.7" y="241.3">2</text><text x="1497.6" y="241.3">4</text><text x="1550.5" y="241.3">2</text><text x="1603.5" y="241.3">3</text><text x="1656.4" y="241.3">2</text><text x="1338.8" y="277.5">2</text><text x="1391.7" y="277.5">3</text><text x="1444.7" y="277.5">3</text><text x="1497.6" y="277.5">1</text><text x="1550.5" y="277.5">6</text><text x="1603.5" y="277.5">5</text><text x="1656.4" y="277.5">4</text><text x="1338.8" y="313.6">2</text><text x="1391.7" y="313.6">1</text><text x="1444.7" y="313.6">2</text><text x="1497.6" y="313.6">5</text><text x="1550.5" y="313.6">0</text><text x="1603.5" y="313.6">0</text><text x="1656.4" y="313.6">2</text><text x="1338.8" y="349.8">0</text><text x="1391.7" y="349.8">4</text><text x="1444.7" y="349.8">2</text><text x="1497.6" y="349.8">2</text><text x="1550.5" y="349.8">2</text><text x="1603.5" y="349.8">3</text><text x="1656.4" y="349.8">0</text><text x="1338.8" y="386.0">5</text><text x="1391.7" y="386.0">3</text><text x="1444.7" y="386.0">5</text><text x="1497.6" y="386.0">2</text><text x="1550.5" y="386.0">3</text><text x="1603.5" y="386.0">3</text><text x="1656.4" y="386.0">1</text><text x="1338.8" y="422.1">2</text><text x="1391.7" y="422.1">2</text><text x="1444.7" y="422.1">0</text><text x="1497.6" y="422.1">2</text><text x="1550.5" y="422.1">0</text><text x="1603.5" y="422.1">1</text><text x="1656.4" y="422.1">5</text><text x="1338.8" y="458.3">3</text><text x="1391.7" y="458.3">5</text><text x="1444.7" y="458.3">2</text><text x="1497.6" y="458.3">3</text><text x="1550.5" y="458.3">2</text><text x="1603.5" y="458.3">4</text><text x="1656.4" y="458.3">1</text><text x="1338.8" y="494.5">2</text><text x="1391.7" y="494.5">3</text><text x="1444.7" y="494.5">4</text><text x="1497.6" y="494.5">4</text><text x="1550.5" y="494.5">3</text><text x="1603.5" y="494.5">2</text><text x="1656.4" y="494.5">4</text><text x="1338.8" y="530.7">2</text><text x="1391.7" y="530.7">5</text><text x="1444.7" y="530.7">2</text><text x="1497.6" y="530.7">2</text><text x="1550.5" y="530.7">3</text><text x="1603.5" y="530.7">3</text><text x="1656.4" y="530.7">5</text><text x="1338.8" y="566.8">0</text><text x="1391.7" y="566.8">2</text><text x="1444.7" y="566.8">3</text><text x="1497.6" y="566.8">3</text><text x="1550.5" y="566.8">3</text><text x="1603.5" y="566.8">2</text><text x="1656.4" y="566.8">2</text><text x="1338.8" y="603.0">1</text><text x="1391.7" y="603.0">1</text><text x="1444.7" y="603.0">6</text><text x="1497.6" y="603.0">2</text><text x="1550.5" y="603.0">5</text><text x="1603.5" y="603.0">6</text><text x="1656.4" y="603.0">4</text><text x="1338.8" y="639.2">4</text><text x="1391.7" y="639.2">5</text><text x="1444.7" y="639.2">6</text><text x="1497.6" y="639.2">3</text><text x="1550.5" y="639.2">3</text><text x="1603.5" y="639.2">4</text><text x="1656.4" y="639.2">4</text><text x="1338.8" y="675.3">3</text><text x="1391.7" y="675.3">4</text><text x="1444.7" y="675.3">4</text><text x="1497.6" y="675.3">2</text><text x="1550.5" y="675.3">0</text><text x="1603.5" y="675.3">3</text><text x="1656.4" y="675.3">4</text><text x="1338.8" y="711.5">2</text><text x="1391.7" y="711.5">4</text><text x="1444.7" y="711.5">3</text><text x="1497.6" y="711.5">3</text><text x="1550.5" y="711.5">2</text><text x="1603.5" y="711.5">2</text><text x="1656.4" y="711.5">2</text><text x="1338.8" y="747.7">2</text><text x="1391.7" y="747.7">4</text><text x="1444.7" y="747.7">1</text><text x="1497.6" y="747.7">1</text><text x="1550.5" y="747.7">4</text><text x="1603.5" y="747.7">1</text><text x="1656.4" y="747.7">3</text><text x="1338.8" y="783.8">1</text><text x="1391.7" y="783.8">2</text><text x="1444.7" y="783.8">1</text><text x="1497.6" y="783.8">3</text><text x="1550.5" y="783.8">3</text><text x="1603.5" y="783.8">2</text><text x="1656.4" y="783.8">1</text><text x="1338.8" y="820.0">1</text><text x="1391.7" y="820.0">0</text><text x="1444.7" y="820.0">0</text><text x="1497.6" y="820.0">1</text><text x="1550.5" y="820.0">4</text><text x="1603.5" y="820.0">1</text><text x="1656.4" y="820.0">1</text><text x="1338.8" y="856.2">0</text><text x="1391.7" y="856.2">0</text><text x="1444.7" y="856.2">2</text><text x="1497.6" y="856.2">1</text><text x="1550.5" y="856.2">1</text><text x="1603.5" y="856.2">2</text><text x="1656.4" y="856.2">3</text><text x="1338.8" y="892.4">0</text><text x="1391.7" y="892.4">2</text><text x="1444.7" y="892.4">2</text><text x="1497.6" y="892.4">1</text><text x="1550.5" y="892.4">1</text><text x="1603.5" y="892.4">1</text><text x="1656.4" y="892.4">1</text><text x="1338.8" y="928.5">2</text><text x="1391.7" y="928.5">2</text><text x="1444.7" y="928.5">1</text><text x="1497.6" y="928.5">0</text><text x="1550.5" y="928.5">1</text><text x="1603.5" y="928.5">0</text><text x="1656.4" y="928.5">0</text><text x="1338.8" y="964.7">1</text><text x="1391.7" y="964.7">2</text><text x="1444.7" y="964.7">0</text><text x="1497.6" y="964.7">1</text><text x="1550.5" y="964.7">4</text><text x="1603.5" y="964.7">2</text><text x="1656.4" y="964.7">1</text><text x="1338.8" y="1000.9">1</text><text x="1391.7" y="1000.9">1</text><text x="1444.7" y="1000.9">2</text><text x="1497.6" y="1000.9">1</text><text x="1550.5" y="1000.9">1</text><text x="1603.5" y="1000.9">1</text><text x="1656.4" y="1000.9">2</text><text x="1338.8" y="1037.0">2</text><text x="1391.7" y="1037.0">1</text><text x="1444.7" y="1037.0">1</text><text x="1497.6" y="1037.0">3</text><text x="1550.5" y="1037.0">2</text><text x="1603.5" y="1037.0">3</text><text x="1656.4" y="1037.0">2</text></g>
<rect x="1307.70" y="176.90" width="379.80" height="874.61" fill="none" stroke="#000" stroke-width="1.4"/>
<path d="M1338.77 1052.21V1061.41M1391.71 1052.21V1061.41M1444.66 1052.21V1061.41M1497.60 1052.21V1061.41M1550.54 1052.21V1061.41M1603.49 1052.21V1061.41M1656.43 1052.21V1061.41" stroke="#000" stroke-width="1.4" fill="none"/>
<text font-size="27" text-anchor="middle" transform="translate(1344.27,1136.00) rotate(-45)">Sunday</text>
<text font-size="27" text-anchor="middle" transform="translate(1397.21,1136.00) rotate(-45)">Monday</text>
<text font-size="27" text-anchor="middle" transform="translate(1450.16,1136.00) rotate(-45)">Tuesday</text>
<text font-size="27" text-anchor="middle" transform="translate(1503.10,1136.00) rotate(-45)">Wednesday</text>
<text font-size="27" text-anchor="middle" transform="translate(1556.04,1136.00) rotate(-45)">Thursday</text>
<text font-size="27" text-anchor="middle" transform="translate(1608.99,1136.00) rotate(-45)">Friday</text>
<text font-size="27" text-anchor="middle" transform="translate(1661.93,1136.00) rotate(-45)">Saturday</text>
<rect x="1705.70" y="123.00" width="381.20" height="53.90" fill="#000"/>
<text x="1896.3" y="160.2" font-size="27" text-anchor="middle" fill="#fff">Staten Island</text>
<rect x="1705.70" y="176.90" width="381.20" height="875.31" fill="#fff"/>
<path d="M1705.70 198.60H2086.90M1705.70 234.77H2086.90M1705.70 270.94H2086.90M1705.70 307.11H2086.90M1705.70 343.28H2086.90M1705.70 379.45H2086.90M1705.70 415.62H2086.90M1705.70 451.79H2086.90M1705.70 487.96H2086.90M1705.70 524.13H2086.90M1705.70 560.30H2086.90M1705.70 596.47H2086.90M1705.70 632.64H2086.90M1705.70 668.81H2086.90M1705.70 704.98H2086.90M1705.70 741.15H2086.90M1705.70 777.32H2086.90M1705.70 813.49H2086.90M1705.70 849.66H2086.90M1705.70 885.83H2086.90M1705.70 922.00H2086.90M1705.70 958.17H2086.90M1705.70 994.34H2086.90M1705.70 1030.51H2086.90M1737.47 176.90V1052.21M1790.41 176.90V1052.21M1843.36 176.90V1052.21M1896.30 176.90V1052.21M1949.24 176.90V1052.21M2002.19 176.90V1052.21M2055.13 176.90V1052.21" stroke="#cfcfcf" stroke-width="1" fill="none"/>
<rect x="1711.0" y="180.5" width="52.94" height="36.17" fill="#fff5e9"/><rect x="1763.9" y="180.5" width="52.94" height="36.17" fill="#fff5e9"/><rect x="1816.9" y="180.5" width="52.94" height="36.17" fill="#ffffff"/><rect x="1869.8" y="180.5" width="52.94" height="36.17" fill="#fff5e9"/><rect x="1922.8" y="180.5" width="52.94" height="36.17" fill="#fff5e9"/><rect x="1975.7" y="180.5" width="52.94" height="36.17" fill="#ffffff"/><rect x="2028.7" y="180.5" width="52.94" height="36.17" fill="#ffffff"/><rect x="1711.0" y="216.7" width="52.94" height="36.17" fill="#ffffff"/><rect x="1763.9" y="216.7" width="52.94" height="36.17" fill="#ffffff"/><rect x="1816.9" y="216.7" width="52.94" height="36.17" fill="#fff5e9"/><rect x="1869.8" y="216.7" width="52.94" height="36.17" fill="#ffffff"/><rect x="1922.8" y="216.7" width="52.94" height="36.17" fill="#fff5e9"/><rect x="1975.7" y="216.7" width="52.94" height="36.17" fill="#fff5e9"/><rect x="2028.7" y="216.7" width="52.94" height="36.17" fill="#fff5e9"/><rect x="1711.0" y="252.9" width="52.94" height="36.17" fill="#ffffff"/><rect x="1763.9" y="252.9" width="52.94" height="36.17" fill="#ffffff"/><rect x="1816.9" y="252.9" width="52.94" height="36.17" fill="#fff5e9"/><rect x="1869.8" y="252.9" width="52.94" height="36.17" fill="#ffffff"/><rect x="1922.8" y="252.9" width="52.94" height="36.17" fill="#fff5e9"/><rect x="1975.7" y="252.9" width="52.94" height="36.17" fill="#ffffff"/><rect x="2028.7" y="252.9" width="52.94" height="36.17" fill="#ffffff"/><rect x="1711.0" y="289.0" width="52.94" height="36.17" fill="#fff5e9"/><rect x="1763.9" y="289.0" width="52.94" height="36.17" fill="#ffffff"/><rect x="1816.9" y="289.0" width="52.94" height="36.17" fill="#ffffff"/><rect x="1869.8" y="289.0" width="52.94" height="36.17" fill="#fff5e9"/><rect x="1922.8" y="289.0" width="52.94" height="36.17" fill="#ffffff"/><rect x="1975.7" y="289.0" width="52.94" height="36.17" fill="#ffffff"/><rect x="2028.7" y="289.0" width="52.94" height="36.17" fill="#ffebd3"/><rect x="1711.0" y="325.2" width="52.94" height="36.17" fill="#ffffff"/><rect x="1763.9" y="325.2" width="52.94" height="36.17" fill="#ffffff"/><rect x="1816.9" y="325.2" width="52.94" height="36.17" fill="#ffebd3"/><rect x="1869.8" y="325.2" width="52.94" height="36.17" fill="#ffffff"/><rect x="1922.8" y="325.2" width="52.94" height="36.17" fill="#fff5e9"/><rect x="1975.7" y="325.2" width="52.94" height="36.17" fill="#ffffff"/><rect x="2028.7" y="325.2" width="52.94" height="36.17" fill="#ffebd3"/><rect x="1711.0" y="361.4" width="52.94" height="36.17" fill="#ffffff"/><rect x="1763.9" y="361.4" width="52.94" height="36.17" fill="#ffffff"/><rect x="1816.9" y="361.4" width="52.94" height="36.17" fill="#ffffff"/><rect x="1869.8" y="361.4" width="52.94" height="36.17" fill="#fff5e9"/><rect x="1922.8" y="361.4" width="52.94" height="36.17" fill="#fff5e9"/><rect x="1975.7" y="361.4" width="52.94" height="36.17" fill="#fff5e9"/><rect x="2028.7" y="361.4" width="52.94" height="36.17" fill="#ffffff"/><rect x="1711.0" y="397.5" width="52.94" height="36.17" fill="#ffffff"/><rect x="1763.9" y="397.5" width="52.94" height="36.17" fill="#ffffff"/><rect x="1816.9" y="397.5" width="52.94" height="36.17" fill="#ffffff"/><rect x="1869.8" y="397.5" width="52.94" height="36.17" fill="#fff5e9"/><rect x="1922.8" y="397.5" width="52.94" height="36.17" fill="#fff5e9"/><rect x="1975.7" y="397.5" width="52.94" height="36.17" fill="#ffffff"/><rect x="2028.7" y="397.5" width="52.94" height="36.17" fill="#ffe1bd"/><rect x="1711.0" y="433.7" width="52.94" height="36.17" fill="#ffffff"/><rect x="1763.9" y="433.7" width="52.94" height="36.17" fill="#fff5e9"/><rect x="1816.9" y="433.7" width="52.94" height="36.17" fill="#ffebd3"/><rect x="1869.8" y="433.7" width="52.94" height="36.17" fill="#ffffff"/><rect x="1922.8" y="433.7" width="52.94" height="36.17" fill="#ffffff"/><rect x="1975.7" y="433.7" width="52.94" height="36.17" fill="#fff5e9"/><rect x="2028.7" y="433.7" width="52.94" height="36.17" fill="#fff5e9"/><rect x="1711.0" y="469.9" width="52.94" height="36.17" fill="#ffffff"/><rect x="1763.9" y="469.9" width="52.94" height="36.17" fill="#ffffff"/><rect x="1816.9" y="469.9" width="52.94" height="36.17" fill="#ffffff"/><rect x="1869.8" y="469.9" width="52.94" height="36.17" fill="#ffebd3"/><rect x="1922.8" y="469.9" width="52.94" height="36.17" fill="#ffffff"/><rect x="1975.7" y="469.9" width="52.94" height="36.17" fill="#ffffff"/><rect x="2028.7" y="469.9" width="52.94" height="36.17" fill="#fff5e9"/><rect x="1711.0" y="506.0" width="52.94" height="36.17" fill="#ffffff"/><rect x="1763.9" y="506.0" width="52.94" height="36.17" fill="#ffffff"/><rect x="1816.9" y="506.0" width="52.94" height="36.17" fill="#fff5e9"/><rect x="1869.8" y="506.0" width="52.94" height="36.17" fill="#ffffff"/><rect x="1922.8" y="506.0" width="52.94" height="36.17" fill="#ffffff"/><rect x="1975.7" y="506.0" width="52.94" height="36.17" fill="#ffffff"/><rect x="2028.7" y="506.0" width="52.94" height="36.17" fill="#ffffff"/><rect x="1711.0" y="542.2" width="52.94" height="36.17" fill="#ffebd3"/><rect x="1763.9" y="542.2" width="52.94" height="36.17" fill="#ffffff"/><rect x="1816.9" y="542.2" width="52.94" height="36.17" fill="#fff5e9"/><rect x="1869.8" y="542.2" width="52.94" height="36.17" fill="#ffffff"/><rect x="1922.8" y="542.2" width="52.94" height="36.17" fill="#fff5e9"/><rect x="1975.7" y="542.2" width="52.94" height="36.17" fill="#ffffff"/><rect x="2028.7" y="542.2" width="52.94" height="36.17" fill="#fff5e9"/><rect x="1711.0" y="578.4" width="52.94" height="36.17" fill="#ffffff"/><rect x="1763.9" y="578.4" width="52.94" height="36.17" fill="#ffcd91"/><rect x="1816.9" y="578.4" width="52.94" height="36.17" fill="#fff5e9"/><rect x="1869.8" y="578.4" width="52.94" height="36.17" fill="#ffebd3"/><rect x="1922.8" y="578.4" width="52.94" height="36.17" fill="#ffffff"/><rect x="1975.7" y="578.4" width="52.94" height="36.17" fill="#fff5e9"/><rect x="2028.7" y="578.4" width="52.94" height="36.17" fill="#ffffff"/><rect x="1711.0" y="614.6" width="52.94" height="36.17" fill="#fff5e9"/><rect x="1763.9" y="614.6" width="52.94" height="36.17" fill="#ffebd3"/><rect x="1816.9" y="614.6" width="52.94" height="36.17" fill="#ffebd3"/><rect x="1869.8" y="614.6" width="52.94" height="36.17" fill="#fff5e9"/><rect x="1922.8" y="614.6" width="52.94" height="36.17" fill="#fff5e9"/><rect x="1975.7" y="614.6" width="52.94" height="36.17" fill="#fff5e9"/><rect x="2028.7" y="614.6" width="52.94" height="36.17" fill="#ffffff"/><rect x="1711.0" y="650.7" width="52.94" height="36.17" fill="#ffebd3"/><rect x="1763.9" y="650.7" width="52.94" height="36.17" fill="#ffd7a7"/><rect x="1816.9" y="650.7" width="52.94" height="36.17" fill="#fff5e9"/><rect x="1869.8" y="650.7" width="52.94" height="36.17" fill="#fff5e9"/><rect x="1922.8" y="650.7" width="52.94" height="36.17" fill="#ffffff"/><rect x="1975.7" y="650.7" width="52.94" height="36.17" fill="#fff5e9"/><rect x="2028.7" y="650.7" width="52.94" height="36.17" fill="#ffffff"/><rect x="1711.0" y="686.9" width="52.94" height="36.17" fill="#ffffff"/><rect x="1763.9" y="686.9" width="52.94" height="36.17" fill="#ffffff"/><rect x="1816.9" y="686.9" width="52.94" height="36.17" fill="#fff5e9"/><rect x="1869.8" y="686.9" width="52.94" height="36.17" fill="#ffffff"/><rect x="1922.8" y="686.9" width="52.94" height="36.17" fill="#fff5e9"/><rect x="1975.7" y="686.9" width="52.94" height="36.17" fill="#fff5e9"/><rect x="2028.7" y="686.9" width="52.94" height="36.17" fill="#ffffff"/><rect x="1711.0" y="723.1" width="52.94" height="36.17" fill="#ffebd3"/><rect x="1763.9" y="723.1" width="52.94" height="36.17" fill="#ffffff"/><rect x="1816.9" y="723.1" width="52.94" height="36.17" fill="#ffffff"/><rect x="1869.8" y="723.1" width="52.94" height="36.17" fill="#ffffff"/><rect x="1922.8" y="723.1" width="52.94" height="36.17" fill="#ffffff"/><rect x="1975.7" y="723.1" width="52.94" height="36.17" fill="#fff5e9"/><rect x="2028.7" y="723.1" width="52.94" height="36.17" fill="#ffffff"/><rect x="1711.0" y="759.2" width="52.94" height="36.17" fill="#ffffff"/><rect x="1763.9" y="759.2" width="52.94" height="36.17" fill="#ffffff"/><rect x="1816.9" y="759.2" width="52.94" height="36.17" fill="#ffffff"/><rect x="1869.8" y="759.2" width="52.94" height="36.17" fill="#ffffff"/><rect x="1922.8" y="759.2" width="52.94" height="36.17" fill="#ffffff"/><rect x="1975.7" y="759.2" width="52.94" height="36.17" fill="#ffffff"/><rect x="2028.7" y="759.2" width="52.94" height="36.17" fill="#fff5e9"/><rect x="1711.0" y="795.4" width="52.94" height="36.17" fill="#fff5e9"/><rect x="1763.9" y="795.4" width="52.94" height="36.17" fill="#ffffff"/><rect x="1816.9" y="795.4" width="52.94" height="36.17" fill="#ffffff"/><rect x="1869.8" y="795.4" width="52.94" height="36.17" fill="#ffffff"/><rect x="1922.8" y="795.4" width="52.94" height="36.17" fill="#ffffff"/><rect x="1975.7" y="795.4" width="52.94" height="36.17" fill="#ffffff"/><rect x="2028.7" y="795.4" width="52.94" height="36.17" fill="#ffffff"/><rect x="1711.0" y="831.6" width="52.94" height="36.17" fill="#ffffff"/><rect x="1763.9" y="831.6" width="52.94" height="36.17" fill="#ffffff"/><rect x="1816.9" y="831.6" width="52.94" height="36.17" fill="#ffffff"/><rect x="1869.8" y="831.6" width="52.94" height="36.17" fill="#ffffff"/><rect x="1922.8" y="831.6" width="52.94" height="36.17" fill="#ffffff"/><rect x="1975.7" y="831.6" width="52.94" height="36.17" fill="#ffffff"/><rect x="2028.7" y="831.6" width="52.94" height="36.17" fill="#ffffff"/><rect x="1711.0" y="867.7" width="52.94" height="36.17" fill="#ffffff"/><rect x="1763.9" y="867.7" width="52.94" height="36.17" fill="#ffffff"/><rect x="1816.9" y="867.7" width="52.94" height="36.17" fill="#ffffff"/><rect x="1869.8" y="867.7" width="52.94" height="36.17" fill="#ffffff"/><rect x="1922.8" y="867.7" width="52.94" height="36.17" fill="#fff5e9"/><rect x="1975.7" y="867.7" width="52.94" height="36.17" fill="#ffffff"/><rect x="2028.7" y="867.7" width="52.94" height="36.17" fill="#ffffff"/><rect x="1711.0" y="903.9" width="52.94" height="36.17" fill="#ffffff"/><rect x="1763.9" y="903.9" width="52.94" height="36.17" fill="#ffebd3"/><rect x="1816.9" y="903.9" width="52.94" height="36.17" fill="#fff5e9"/><rect x="1869.8" y="903.9" width="52.94" height="36.17" fill="#ffffff"/><rect x="1922.8" y="903.9" width="52.94" height="36.17" fill="#ffffff"/><rect x="1975.7" y="903.9" width="52.94" height="36.17" fill="#ffffff"/><rect x="2028.7" y="903.9" width="52.94" height="36.17" fill="#ffffff"/><rect x="1711.0" y="940.1" width="52.94" height="36.17" fill="#ffffff"/><rect x="1763.9" y="940.1" width="52.94" height="36.17" fill="#ffffff"/><rect x="1816.9" y="940.1" width="52.94" height="36.17" fill="#ffffff"/><rect x="1869.8" y="940.1" width="52.94" height="36.17" fill="#fff5e9"/><rect x="1922.8" y="940.1" width="52.94" height="36.17" fill="#ffffff"/><rect x="1975.7" y="940.1" width="52.94" height="36.17" fill="#ffffff"/><rect x="2028.7" y="940.1" width="52.94" height="36.17" fill="#ffffff"/><rect x="1711.0" y="976.3" width="52.94" height="36.17" fill="#ffffff"/><rect x="1763.9" y="976.3" width="52.94" height="36.17" fill="#ffffff"/><rect x="1816.9" y="976.3" width="52.94" height="36.17" fill="#ffffff"/><rect x="1869.8" y="976.3" width="52.94" height="36.17" fill="#ffffff"/><rect x="1922.8" y="976.3" width="52.94" height="36.17" fill="#ffffff"/><rect x="1975.7" y="976.3" width="52.94" height="36.17" fill="#ffffff"/><rect x="2028.7" y="976.3" width="52.94" height="36.17" fill="#ffffff"/><rect x="1711.0" y="1012.4" width="52.94" height="36.17" fill="#ffffff"/><rect x="1763.9" y="1012.4" width="52.94" height="36.17" fill="#ffebd3"/><rect x="1816.9" y="1012.4" width="52.94" height="36.17" fill="#ffffff"/><rect x="1869.8" y="1012.4" width="52.94" height="36.17" fill="#ffffff"/><rect x="1922.8" y="1012.4" width="52.94" height="36.17" fill="#fff5e9"/><rect x="1975.7" y="1012.4" width="52.94" height="36.17" fill="#ffffff"/><rect x="2028.7" y="1012.4" width="52.94" height="36.17" fill="#ffffff"/>
<path d="M1710.99 180.51H2081.61M1710.99 216.69H2081.61M1710.99 252.85H2081.61M1710.99 289.02H2081.61M1710.99 325.19H2081.61M1710.99 361.37H2081.61M1710.99 397.53H2081.61M1710.99 433.70H2081.61M1710.99 469.88H2081.61M1710.99 506.05H2081.61M1710.99 542.22H2081.61M1710.99 578.38H2081.61M1710.99 614.56H2081.61M1710.99 650.73H2081.61M1710.99 686.89H2081.61M1710.99 723.07H2081.61M1710.99 759.24H2081.61M1710.99 795.40H2081.61M1710.99 831.58H2081.61M1710.99 867.75H2081.61M1710.99 903.92H2081.61M1710.99 940.09H2081.61M1710.99 976.25H2081.61M1710.99 1012.43H2081.61M1710.99 1048.60H2081.61M1710.99 180.51V1048.60M1763.94 180.51V1048.60M1816.88 180.51V1048.60M1869.83 180.51V1048.60M1922.77 180.51V1048.60M1975.72 180.51V1048.60M2028.66 180.51V1048.60M2081.61 180.51V1048.60" stroke="#000" stroke-width="1.3" fill="none" stroke-opacity="0.6"/>
<g font-size="15.6" text-anchor="middle"><text x="1737.5" y="205.1">1</text><text x="1790.4" y="205.1">1</text><text x="1843.4" y="205.1">0</text><text x="1896.3" y="205.1">1</text><text x="1949.2" y="205.1">1</text><text x="2002.2" y="205.1">0</text><text x="2055.1" y="205.1">0</text><text x="1737.5" y="241.3">0</text><text x="1790.4" y="241.3">0</text><text x="1843.4" y="241.3">1</text><text x="1896.3" y="241.3">0</text><text x="1949.2" y="241.3">1</text><text x="2002.2" y="241.3">1</text><text x="2055.1" y="241.3">1</text><text x="1737.5" y="277.5">0</text><text x="1790.4" y="277.5">0</text><text x="1843.4" y="277.5">1</text><text x="1896.3" y="277.5">0</text><text x="1949.2" y="277.5">1</text><text x="2002.2" y="277.5">0</text><text x="2055.1" y="277.5">0</text><text x="1737.5" y="313.6">1</text><text x="1790.4" y="313.6">0</text><text x="1843.4" y="313.6">0</text><text x="1896.3" y="313.6">1</text><text x="1949.2" y="313.6">0</text><text x="2002.2" y="313.6">0</text><text x="2055.1" y="313.6">2</text><text x="1737.5" y="349.8">0</text><text x="1790.4" y="349.8">0</text><text x="1843.4" y="349.8">2</text><text x="1896.3" y="349.8">0</text><text x="1949.2" y="349.8">1</text><text x="2002.2" y="349.8">0</text><text x="2055.1" y="349.8">2</text><text x="1737.5" y="386.0">0</text><text x="1790.4" y="386.0">0</text><text x="1843.4" y="386.0">0</text><text x="1896.3" y="386.0">1</text><text x="1949.2" y="386.0">1</text><text x="2002.2" y="386.0">1</text><text x="2055.1" y="386.0">0</text><text x="1737.5" y="422.1">0</text><text x="1790.4" y="422.1">0</text><text x="1843.4" y="422.1">0</text><text x="1896.3" y="422.1">1</text><text x="1949.2" y="422.1">1</text><text x="2002.2" y="422.1">0</text><text x="2055.1" y="422.1">3</text><text x="1737.5" y="458.3">0</text><text x="1790.4" y="458.3">1</text><text x="1843.4" y="458.3">2</text><text x="1896.3" y="458.3">0</text><text x="1949.2" y="458.3">0</text><text x="2002.2" y="458.3">1</text><text x="2055.1" y="458.3">1</text><text x="1737.5" y="494.5">0</text><text x="1790.4" y="494.5">0</text><text x="1843.4" y="494.5">0</text><text x="1896.3" y="494.5">2</text><text x="1949.2" y="494.5">0</text><text x="2002.2" y="494.5">0</text><text x="2055.1" y="494.5">1</text><text x="1737.5" y="530.7">0</text><text x="1790.4" y="530.7">0</text><text x="1843.4" y="530.7">1</text><text x="1896.3" y="530.7">0</text><text x="1949.2" y="530.7">0</text><text x="2002.2" y="530.7">0</text><text x="2055.1" y="530.7">0</text><text x="1737.5" y="566.8">2</text><text x="1790.4" y="566.8">0</text><text x="1843.4" y="566.8">1</text><text x="1896.3" y="566.8">0</text><text x="1949.2" y="566.8">1</text><text x="2002.2" y="566.8">0</text><text x="2055.1" y="566.8">1</text><text x="1737.5" y="603.0">0</text><text x="1790.4" y="603.0">5</text><text x="1843.4" y="603.0">1</text><text x="1896.3" y="603.0">2</text><text x="1949.2" y="603.0">0</text><text x="2002.2" y="603.0">1</text><text x="2055.1" y="603.0">0</text><text x="1737.5" y="639.2">1</text><text x="1790.4" y="639.2">2</text><text x="1843.4" y="639.2">2</text><text x="1896.3" y="639.2">1</text><text x="1949.2" y="639.2">1</text><text x="2002.2" y="639.2">1</text><text x="2055.1" y="639.2">0</text><text x="1737.5" y="675.3">2</text><text x="1790.4" y="675.3">4</text><text x="1843.4" y="675.3">1</text><text x="1896.3" y="675.3">1</text><text x="1949.2" y="675.3">0</text><text x="2002.2" y="675.3">1</text><text x="2055.1" y="675.3">0</text><text x="1737.5" y="711.5">0</text><text x="1790.4" y="711.5">0</text><text x="1843.4" y="711.5">1</text><text x="1896.3" y="711.5">0</text><text x="1949.2" y="711.5">1</text><text x="2002.2" y="711.5">1</text><text x="2055.1" y="711.5">0</text><text x="1737.5" y="747.7">2</text><text x="1790.4" y="747.7">0</text><text x="1843.4" y="747.7">0</text><text x="1896.3" y="747.7">0</text><text x="1949.2" y="747.7">0</text><text x="2002.2" y="747.7">1</text><text x="2055.1" y="747.7">0</text><text x="1737.5" y="783.8">0</text><text x="1790.4" y="783.8">0</text><text x="1843.4" y="783.8">0</text><text x="1896.3" y="783.8">0</text><text x="1949.2" y="783.8">0</text><text x="2002.2" y="783.8">0</text><text x="2055.1" y="783.8">1</text><text x="1737.5" y="820.0">1</text><text x="1790.4" y="820.0">0</text><text x="1843.4" y="820.0">0</text><text x="1896.3" y="820.0">0</text><text x="1949.2" y="820.0">0</text><text x="2002.2" y="820.0">0</text><text x="2055.1" y="820.0">0</text><text x="1737.5" y="856.2">0</text><text x="1790.4" y="856.2">0</text><text x="1843.4" y="856.2">0</text><text x="1896.3" y="856.2">0</text><text x="1949.2" y="856.2">0</text><text x="2002.2" y="856.2">0</text><text x="2055.1" y="856.2">0</text><text x="1737.5" y="892.4">0</text><text x="1790.4" y="892.4">0</text><text x="1843.4" y="892.4">0</text><text x="1896.3" y="892.4">0</text><text x="1949.2" y="892.4">1</text><text x="2002.2" y="892.4">0</text><text x="2055.1" y="892.4">0</text><text x="1737.5" y="928.5">0</text><text x="1790.4" y="928.5">2</text><text x="1843.4" y="928.5">1</text><text x="1896.3" y="928.5">0</text><text x="1949.2" y="928.5">0</text><text x="2002.2" y="928.5">0</text><text x="2055.1" y="928.5">0</text><text x="1737.5" y="964.7">0</text><text x="1790.4" y="964.7">0</text><text x="1843.4" y="964.7">0</text><text x="1896.3" y="964.7">1</text><text x="1949.2" y="964.7">0</text><text x="2002.2" y="964.7">0</text><text x="2055.1" y="964.7">0</text><text x="1737.5" y="1000.9">0</text><text x="1790.4" y="1000.9">0</text><text x="1843.4" y="1000.9">0</text><text x="1896.3" y="1000.9">0</text><text x="1949.2" y="1000.9">0</text><text x="2002.2" y="1000.9">0</text><text x="2055.1" y="1000.9">0</text><text x="1737.5" y="1037.0">0</text><text x="1790.4" y="1037.0">2</text><text x="1843.4" y="1037.0">0</text><text x="1896.3" y="1037.0">0</text><text x="1949.2" y="1037.0">1</text><text x="2002.2" y="1037.0">0</text><text x="2055.1" y="1037.0">0</text></g>
<rect x="1706.40" y="176.90" width="379.80" height="874.61" fill="none" stroke="#000" stroke-width="1.4"/>
<path d="M1737.47 1052.21V1061.41M1790.41 1052.21V1061.41M1843.36 1052.21V1061.41M1896.30 1052.21V1061.41M1949.24 1052.21V1061.41M2002.19 1052.21V1061.41M2055.13 1052.21V1061.41" stroke="#000" stroke-width="1.4" fill="none"/>
<text font-size="27" text-anchor="middle" transform="translate(1742.97,1136.00) rotate(-45)">Sunday</text>
<text font-size="27" text-anchor="middle" transform="translate(1795.91,1136.00) rotate(-45)">Monday</text>
<text font-size="27" text-anchor="middle" transform="translate(1848.86,1136.00) rotate(-45)">Tuesday</text>
<text font-size="27" text-anchor="middle" transform="translate(1901.80,1136.00) rotate(-45)">Wednesday</text>
<text font-size="27" text-anchor="middle" transform="translate(1954.74,1136.00) rotate(-45)">Thursday</text>
<text font-size="27" text-anchor="middle" transform="translate(2007.69,1136.00) rotate(-45)">Friday</text>
<text font-size="27" text-anchor="middle" transform="translate(2060.63,1136.00) rotate(-45)">Saturday</text>
<text x="94.6" y="209.1" font-size="27" text-anchor="end">11pm</text>
<text x="94.6" y="245.3" font-size="27" text-anchor="end">10pm</text>
<text x="94.6" y="281.4" font-size="27" text-anchor="end">9pm</text>
<text x="94.6" y="317.6" font-size="27" text-anchor="end">8pm</text>
<text x="94.6" y="353.8" font-size="27" text-anchor="end">7pm</text>
<text x="94.6" y="390.0" font-size="27" text-anchor="end">6pm</text>
<text x="94.6" y="426.1" font-size="27" text-anchor="end">5pm</text>
<text x="94.6" y="462.3" font-size="27" text-anchor="end">4pm</text>
<text x="94.6" y="498.5" font-size="27" text-anchor="end">3pm</text>
<text x="94.6" y="534.6" font-size="27" text-anchor="end">2pm</text>
<text x="94.6" y="570.8" font-size="27" text-anchor="end">1pm</text>
<text x="94.6" y="607.0" font-size="27" text-anchor="end">12pm</text>
<text x="94.6" y="643.1" font-size="27" text-anchor="end">11am</text>
<text x="94.6" y="679.3" font-size="27" text-anchor="end">10am</text>
<text x="94.6" y="715.5" font-size="27" text-anchor="end">9am</text>
<text x="94.6" y="751.7" font-size="27" text-anchor="end">8am</text>
<text x="94.6" y="787.8" font-size="27" text-anchor="end">7am</text>
<text x="94.6" y="824.0" font-size="27" text-anchor="end">6am</text>
<text x="94.6" y="860.2" font-size="27" text-anchor="end">5am</text>
<text x="94.6" y="896.3" font-size="27" text-anchor="end">4am</text>
<text x="94.6" y="932.5" font-size="27" text-anchor="end">3am</text>
<text x="94.6" y="968.7" font-size="27" text-anchor="end">2am</text>
<text x="94.6" y="1004.8" font-size="27" text-anchor="end">1am</text>
<text x="94.6" y="1041.0" font-size="27" text-anchor="end">12am</text>
<path d="M101.60 198.60H110.90M101.60 234.77H110.90M101.60 270.94H110.90M101.60 307.11H110.90M101.60 343.28H110.90M101.60 379.45H110.90M101.60 415.62H110.90M101.60 451.79H110.90M101.60 487.96H110.90M101.60 524.13H110.90M101.60 560.30H110.90M101.60 596.47H110.90M101.60 632.64H110.90M101.60 668.81H110.90M101.60 704.98H110.90M101.60 741.15H110.90M101.60 777.32H110.90M101.60 813.49H110.90M101.60 849.66H110.90M101.60 885.83H110.90M101.60 922.00H110.90M101.60 958.17H110.90M101.60 994.34H110.90M101.60 1030.51H110.90" stroke="#000" stroke-width="1.4" fill="none"/>
<text x="2138.1" y="483.8" font-size="34.2" font-weight="bold">Number</text>
<text x="2138.1" y="516.0" font-size="34.2" font-weight="bold">of calls</text>
<defs><linearGradient id="lg0" x1="0" y1="1" x2="0" y2="0"><stop offset="0.000" stop-color="#ffffff"/><stop offset="0.050" stop-color="#fffaf3"/><stop offset="0.100" stop-color="#fff4e7"/><stop offset="0.150" stop-color="#ffefdb"/><stop offset="0.200" stop-color="#ffe9cf"/><stop offset="0.250" stop-color="#ffe4c3"/><stop offset="0.300" stop-color="#ffdeb7"/><stop offset="0.350" stop-color="#ffd9ab"/><stop offset="0.400" stop-color="#ffd39f"/><stop offset="0.450" stop-color="#ffce93"/><stop offset="0.500" stop-color="#ffc886"/><stop offset="0.550" stop-color="#ffc37a"/><stop offset="0.600" stop-color="#ffbe6e"/><stop offset="0.650" stop-color="#ffb862"/><stop offset="0.700" stop-color="#ffb356"/><stop offset="0.750" stop-color="#ffad4a"/><stop offset="0.800" stop-color="#ffa83e"/><stop offset="0.850" stop-color="#ffa232"/><stop offset="0.900" stop-color="#ff9d26"/><stop offset="0.950" stop-color="#ff971a"/><stop offset="1.000" stop-color="#ff920e"/></linearGradient></defs>
<rect x="2138.40" y="541.00" width="46.1" height="229.70" fill="url(#lg0)"/>
<text x="2202.0" y="572.5" font-size="27">10</text>
<text x="2202.0" y="614.2" font-size="27">8</text>
<text x="2202.0" y="656.0" font-size="27">6</text>
<text x="2202.0" y="697.8" font-size="27">4</text>
<text x="2202.0" y="739.5" font-size="27">2</text>
<text x="2202.0" y="781.3" font-size="27">0</text>
<path d="M2138.40 561.88h9.2M2175.30 561.88h9.2M2138.40 603.65h9.2M2175.30 603.65h9.2M2138.40 645.41h9.2M2175.30 645.41h9.2M2138.40 687.17h9.2M2175.30 687.17h9.2M2138.40 728.94h9.2M2175.30 728.94h9.2M2138.40 770.70h9.2M2175.30 770.70h9.2" stroke="#fff" stroke-width="1.1" fill="none"/>
<text x="2288.3" y="1295.50" font-size="27.85" text-anchor="end"><tspan font-weight="bold">Heatmap Prepared by:</tspan> Isaac H. Michaels, DrPH</text>
<text x="2288.3" y="1321.00" font-size="27.85" text-anchor="end"><tspan font-weight="bold">Data Source:</tspan> NYC Open Data</text>
<text x="17.0" y="1392.0" font-size="41.72" font-weight="bold">Incidence Rates of FDNY EMS Responses, by Day and Time: Sick - Rash And Fever</text>
<text x="16.0" y="1443.0" font-size="34.8">October 06, 2023 to October 04, 2024</text>
<rect x="110.90" y="1467.00" width="339.60" height="53.90" fill="#000"/>
<text x="280.7" y="1504.2" font-size="27" text-anchor="middle" fill="#fff">Bronx</text>
<rect x="110.90" y="1520.90" width="339.60" height="875.31" fill="#fff"/>
<path d="M110.90 1542.60H450.50M110.90 1578.77H450.50M110.90 1614.94H450.50M110.90 1651.11H450.50M110.90 1687.28H450.50M110.90 1723.45H450.50M110.90 1759.62H450.50M110.90 1795.79H450.50M110.90 1831.96H450.50M110.90 1868.13H450.50M110.90 1904.30H450.50M110.90 1940.47H450.50M110.90 1976.64H450.50M110.90 2012.81H450.50M110.90 2048.98H450.50M110.90 2085.15H450.50M110.90 2121.32H450.50M110.90 2157.49H450.50M110.90 2193.66H450.50M110.90 2229.83H450.50M110.90 2266.00H450.50M110.90 2302.17H450.50M110.90 2338.34H450.50M110.90 2374.51H450.50M139.20 1520.90V2396.21M186.37 1520.90V2396.21M233.53 1520.90V2396.21M280.70 1520.90V2396.21M327.87 1520.90V2396.21M375.03 1520.90V2396.21M422.20 1520.90V2396.21" stroke="#cfcfcf" stroke-width="1" fill="none"/>
<rect x="115.6" y="1524.5" width="47.17" height="36.17" fill="#ffd1c1"/><rect x="162.8" y="1524.5" width="47.17" height="36.17" fill="#ffd1c1"/><rect x="210.0" y="1524.5" width="47.17" height="36.17" fill="#fff0ea"/><rect x="257.1" y="1524.5" width="47.17" height="36.17" fill="#ffd1c1"/><rect x="304.3" y="1524.5" width="47.17" height="36.17" fill="#ffb29a"/><rect x="351.5" y="1524.5" width="47.17" height="36.17" fill="#ffb29a"/><rect x="398.6" y="1524.5" width="47.17" height="36.17" fill="#ffd1c1"/><rect x="115.6" y="1560.7" width="47.17" height="36.17" fill="#ffb29a"/><rect x="162.8" y="1560.7" width="47.17" height="36.17" fill="#ffe1d6"/><rect x="210.0" y="1560.7" width="47.17" height="36.17" fill="#fff0ea"/><rect x="257.1" y="1560.7" width="47.17" height="36.17" fill="#ffe1d6"/><rect x="304.3" y="1560.7" width="47.17" height="36.17" fill="#ffd1c1"/><rect x="351.5" y="1560.7" width="47.17" height="36.17" fill="#ffe1d6"/><rect x="398.6" y="1560.7" width="47.17" height="36.17" fill="#ffe1d6"/><rect x="115.6" y="1596.9" width="47.17" height="36.17" fill="#fff0ea"/><rect x="162.8" y="1596.9" width="47.17" height="36.17" fill="#ffb29a"/><rect x="210.0" y="1596.9" width="47.17" height="36.17" fill="#ffc2ad"/><rect x="257.1" y="1596.9" width="47.17" height="36.17" fill="#ffe1d6"/><rect x="304.3" y="1596.9" width="47.17" height="36.17" fill="#ffd1c1"/><rect x="351.5" y="1596.9" width="47.17" height="36.17" fill="#ffd1c1"/><rect x="398.6" y="1596.9" width="47.17" height="36.17" fill="#fff0ea"/><rect x="115.6" y="1633.0" width="47.17" height="36.17" fill="#ffc2ad"/><rect x="162.8" y="1633.0" width="47.17" height="36.17" fill="#ffe1d6"/><rect x="210.0" y="1633.0" width="47.17" height="36.17" fill="#ffe1d6"/><rect x="257.1" y="1633.0" width="47.17" height="36.17" fill="#fff0ea"/><rect x="304.3" y="1633.0" width="47.17" height="36.17" fill="#ffd1c1"/><rect x="351.5" y="1633.0" width="47.17" height="36.17" fill="#ffb29a"/><rect x="398.6" y="1633.0" width="47.17" height="36.17" fill="#ffe1d6"/><rect x="115.6" y="1669.2" width="47.17" height="36.17" fill="#ffa286"/><rect x="162.8" y="1669.2" width="47.17" height="36.17" fill="#ffc2ad"/><rect x="210.0" y="1669.2" width="47.17" height="36.17" fill="#ffc2ad"/><rect x="257.1" y="1669.2" width="47.17" height="36.17" fill="#ffc2ad"/><rect x="304.3" y="1669.2" width="47.17" height="36.17" fill="#ffc2ad"/><rect x="351.5" y="1669.2" width="47.17" height="36.17" fill="#ffb29a"/><rect x="398.6" y="1669.2" width="47.17" height="36.17" fill="#ffc2ad"/><rect x="115.6" y="1705.4" width="47.17" height="36.17" fill="#ffb29a"/><rect x="162.8" y="1705.4" width="47.17" height="36.17" fill="#ff9273"/><rect x="210.0" y="1705.4" width="47.17" height="36.17" fill="#ffd1c1"/><rect x="257.1" y="1705.4" width="47.17" height="36.17" fill="#ffd1c1"/><rect x="304.3" y="1705.4" width="47.17" height="36.17" fill="#fff0ea"/><rect x="351.5" y="1705.4" width="47.17" height="36.17" fill="#ffe1d6"/><rect x="398.6" y="1705.4" width="47.17" height="36.17" fill="#ffd1c1"/><rect x="115.6" y="1741.5" width="47.17" height="36.17" fill="#ffc2ad"/><rect x="162.8" y="1741.5" width="47.17" height="36.17" fill="#ffffff"/><rect x="210.0" y="1741.5" width="47.17" height="36.17" fill="#fff0ea"/><rect x="257.1" y="1741.5" width="47.17" height="36.17" fill="#ffb29a"/><rect x="304.3" y="1741.5" width="47.17" height="36.17" fill="#ffe1d6"/><rect x="351.5" y="1741.5" width="47.17" height="36.17" fill="#ffb29a"/><rect x="398.6" y="1741.5" width="47.17" height="36.17" fill="#ffa286"/><rect x="115.6" y="1777.7" width="47.17" height="36.17" fill="#ffe1d6"/><rect x="162.8" y="1777.7" width="47.17" height="36.17" fill="#ffc2ad"/><rect x="210.0" y="1777.7" width="47.17" height="36.17" fill="#ffa286"/><rect x="257.1" y="1777.7" width="47.17" height="36.17" fill="#ffd1c1"/><rect x="304.3" y="1777.7" width="47.17" height="36.17" fill="#ff9273"/><rect x="351.5" y="1777.7" width="47.17" height="36.17" fill="#ffd1c1"/><rect x="398.6" y="1777.7" width="47.17" height="36.17" fill="#ffb29a"/><rect x="115.6" y="1813.9" width="47.17" height="36.17" fill="#fff0ea"/><rect x="162.8" y="1813.9" width="47.17" height="36.17" fill="#ffd1c1"/><rect x="210.0" y="1813.9" width="47.17" height="36.17" fill="#ffc2ad"/><rect x="257.1" y="1813.9" width="47.17" height="36.17" fill="#ffc2ad"/><rect x="304.3" y="1813.9" width="47.17" height="36.17" fill="#ffc2ad"/><rect x="351.5" y="1813.9" width="47.17" height="36.17" fill="#ff5c3b"/><rect x="398.6" y="1813.9" width="47.17" height="36.17" fill="#ffb29a"/><rect x="115.6" y="1850.0" width="47.17" height="36.17" fill="#ffb29a"/><rect x="162.8" y="1850.0" width="47.17" height="36.17" fill="#ffe1d6"/><rect x="210.0" y="1850.0" width="47.17" height="36.17" fill="#ffd1c1"/><rect x="257.1" y="1850.0" width="47.17" height="36.17" fill="#ffe1d6"/><rect x="304.3" y="1850.0" width="47.17" height="36.17" fill="#ffe1d6"/><rect x="351.5" y="1850.0" width="47.17" height="36.17" fill="#ffb29a"/><rect x="398.6" y="1850.0" width="47.17" height="36.17" fill="#ffc2ad"/><rect x="115.6" y="1886.2" width="47.17" height="36.17" fill="#ffc2ad"/><rect x="162.8" y="1886.2" width="47.17" height="36.17" fill="#ffc2ad"/><rect x="210.0" y="1886.2" width="47.17" height="36.17" fill="#ffd1c1"/><rect x="257.1" y="1886.2" width="47.17" height="36.17" fill="#ff6f4e"/><rect x="304.3" y="1886.2" width="47.17" height="36.17" fill="#ffc2ad"/><rect x="351.5" y="1886.2" width="47.17" height="36.17" fill="#ffd1c1"/><rect x="398.6" y="1886.2" width="47.17" height="36.17" fill="#ffc2ad"/><rect x="115.6" y="1922.4" width="47.17" height="36.17" fill="#ffd1c1"/><rect x="162.8" y="1922.4" width="47.17" height="36.17" fill="#ffc2ad"/><rect x="210.0" y="1922.4" width="47.17" height="36.17" fill="#ff8161"/><rect x="257.1" y="1922.4" width="47.17" height="36.17" fill="#ff9273"/><rect x="304.3" y="1922.4" width="47.17" height="36.17" fill="#ffa286"/><rect x="351.5" y="1922.4" width="47.17" height="36.17" fill="#ff8161"/><rect x="398.6" y="1922.4" width="47.17" height="36.17" fill="#ffe1d6"/><rect x="115.6" y="1958.6" width="47.17" height="36.17" fill="#ffe1d6"/><rect x="162.8" y="1958.6" width="47.17" height="36.17" fill="#ffb29a"/><rect x="210.0" y="1958.6" width="47.17" height="36.17" fill="#ffb29a"/><rect x="257.1" y="1958.6" width="47.17" height="36.17" fill="#fff0ea"/><rect x="304.3" y="1958.6" width="47.17" height="36.17" fill="#ffa286"/><rect x="351.5" y="1958.6" width="47.17" height="36.17" fill="#ffb29a"/><rect x="398.6" y="1958.6" width="47.17" height="36.17" fill="#ff9273"/><rect x="115.6" y="1994.7" width="47.17" height="36.17" fill="#ffd1c1"/><rect x="162.8" y="1994.7" width="47.17" height="36.17" fill="#ff5c3b"/><rect x="210.0" y="1994.7" width="47.17" height="36.17" fill="#ff9273"/><rect x="257.1" y="1994.7" width="47.17" height="36.17" fill="#ffb29a"/><rect x="304.3" y="1994.7" width="47.17" height="36.17" fill="#ffc2ad"/><rect x="351.5" y="1994.7" width="47.17" height="36.17" fill="#ffc2ad"/><rect x="398.6" y="1994.7" width="47.17" height="36.17" fill="#ff8161"/><rect x="115.6" y="2030.9" width="47.17" height="36.17" fill="#ffd1c1"/><rect x="162.8" y="2030.9" width="47.17" height="36.17" fill="#ff6f4e"/><rect x="210.0" y="2030.9" width="47.17" height="36.17" fill="#ffd1c1"/><rect x="257.1" y="2030.9" width="47.17" height="36.17" fill="#ffb29a"/><rect x="304.3" y="2030.9" width="47.17" height="36.17" fill="#ffc2ad"/><rect x="351.5" y="2030.9" width="47.17" height="36.17" fill="#ff9273"/><rect x="398.6" y="2030.9" width="47.17" height="36.17" fill="#ff9273"/><rect x="115.6" y="2067.1" width="47.17" height="36.17" fill="#ffe1d6"/><rect x="162.8" y="2067.1" width="47.17" height="36.17" fill="#ffe1d6"/><rect x="210.0" y="2067.1" width="47.17" height="36.17" fill="#ffc2ad"/><rect x="257.1" y="2067.1" width="47.17" height="36.17" fill="#ff8161"/><rect x="304.3" y="2067.1" width="47.17" height="36.17" fill="#ffc2ad"/><rect x="351.5" y="2067.1" width="47.17" height="36.17" fill="#ffd1c1"/><rect x="398.6" y="2067.1" width="47.17" height="36.17" fill="#ffb29a"/><rect x="115.6" y="2103.2" width="47.17" height="36.17" fill="#ffd1c1"/><rect x="162.8" y="2103.2" width="47.17" height="36.17" fill="#ffe1d6"/><rect x="210.0" y="2103.2" width="47.17" height="36.17" fill="#ffb29a"/><rect x="257.1" y="2103.2" width="47.17" height="36.17" fill="#fff0ea"/><rect x="304.3" y="2103.2" width="47.17" height="36.17" fill="#ffe1d6"/><rect x="351.5" y="2103.2" width="47.17" height="36.17" fill="#fff0ea"/><rect x="398.6" y="2103.2" width="47.17" height="36.17" fill="#ffc2ad"/><rect x="115.6" y="2139.4" width="47.17" height="36.17" fill="#ffd1c1"/><rect x="162.8" y="2139.4" width="47.17" height="36.17" fill="#ffc2ad"/><rect x="210.0" y="2139.4" width="47.17" height="36.17" fill="#ffffff"/><rect x="257.1" y="2139.4" width="47.17" height="36.17" fill="#fff0ea"/><rect x="304.3" y="2139.4" width="47.17" height="36.17" fill="#ffe1d6"/><rect x="351.5" y="2139.4" width="47.17" height="36.17" fill="#ffe1d6"/><rect x="398.6" y="2139.4" width="47.17" height="36.17" fill="#ffe1d6"/><rect x="115.6" y="2175.6" width="47.17" height="36.17" fill="#ffffff"/><rect x="162.8" y="2175.6" width="47.17" height="36.17" fill="#ffd1c1"/><rect x="210.0" y="2175.6" width="47.17" height="36.17" fill="#ffc2ad"/><rect x="257.1" y="2175.6" width="47.17" height="36.17" fill="#ffffff"/><rect x="304.3" y="2175.6" width="47.17" height="36.17" fill="#fff0ea"/><rect x="351.5" y="2175.6" width="47.17" height="36.17" fill="#ffe1d6"/><rect x="398.6" y="2175.6" width="47.17" height="36.17" fill="#ffe1d6"/><rect x="115.6" y="2211.7" width="47.17" height="36.17" fill="#ffd1c1"/><rect x="162.8" y="2211.7" width="47.17" height="36.17" fill="#fff0ea"/><rect x="210.0" y="2211.7" width="47.17" height="36.17" fill="#ffffff"/><rect x="257.1" y="2211.7" width="47.17" height="36.17" fill="#ffd1c1"/><rect x="304.3" y="2211.7" width="47.17" height="36.17" fill="#ffd1c1"/><rect x="351.5" y="2211.7" width="47.17" height="36.17" fill="#ffb29a"/><rect x="398.6" y="2211.7" width="47.17" height="36.17" fill="#fff0ea"/><rect x="115.6" y="2247.9" width="47.17" height="36.17" fill="#ffffff"/><rect x="162.8" y="2247.9" width="47.17" height="36.17" fill="#fff0ea"/><rect x="210.0" y="2247.9" width="47.17" height="36.17" fill="#ffe1d6"/><rect x="257.1" y="2247.9" width="47.17" height="36.17" fill="#ffe1d6"/><rect x="304.3" y="2247.9" width="47.17" height="36.17" fill="#ff9273"/><rect x="351.5" y="2247.9" width="47.17" height="36.17" fill="#ffd1c1"/><rect x="398.6" y="2247.9" width="47.17" height="36.17" fill="#fff0ea"/><rect x="115.6" y="2284.1" width="47.17" height="36.17" fill="#ffffff"/><rect x="162.8" y="2284.1" width="47.17" height="36.17" fill="#fff0ea"/><rect x="210.0" y="2284.1" width="47.17" height="36.17" fill="#ffe1d6"/><rect x="257.1" y="2284.1" width="47.17" height="36.17" fill="#fff0ea"/><rect x="304.3" y="2284.1" width="47.17" height="36.17" fill="#ffd1c1"/><rect x="351.5" y="2284.1" width="47.17" height="36.17" fill="#ffffff"/><rect x="398.6" y="2284.1" width="47.17" height="36.17" fill="#fff0ea"/><rect x="115.6" y="2320.3" width="47.17" height="36.17" fill="#ffffff"/><rect x="162.8" y="2320.3" width="47.17" height="36.17" fill="#ffe1d6"/><rect x="210.0" y="2320.3" width="47.17" height="36.17" fill="#ffffff"/><rect x="257.1" y="2320.3" width="47.17" height="36.17" fill="#ffe1d6"/><rect x="304.3" y="2320.3" width="47.17" height="36.17" fill="#ffb29a"/><rect x="351.5" y="2320.3" width="47.17" height="36.17" fill="#ffffff"/><rect x="398.6" y="2320.3" width="47.17" height="36.17" fill="#ffd1c1"/><rect x="115.6" y="2356.4" width="47.17" height="36.17" fill="#ffd1c1"/><rect x="162.8" y="2356.4" width="47.17" height="36.17" fill="#ffe1d6"/><rect x="210.0" y="2356.4" width="47.17" height="36.17" fill="#ffc2ad"/><rect x="257.1" y="2356.4" width="47.17" height="36.17" fill="#ffc2ad"/><rect x="304.3" y="2356.4" width="47.17" height="36.17" fill="#ffd1c1"/><rect x="351.5" y="2356.4" width="47.17" height="36.17" fill="#ffe1d6"/><rect x="398.6" y="2356.4" width="47.17" height="36.17" fill="#ffa286"/>
<path d="M115.62 1524.51H445.78M115.62 1560.68H445.78M115.62 1596.85H445.78M115.62 1633.02H445.78M115.62 1669.19H445.78M115.62 1705.36H445.78M115.62 1741.53H445.78M115.62 1777.70H445.78M115.62 1813.88H445.78M115.62 1850.04H445.78M115.62 1886.21H445.78M115.62 1922.38H445.78M115.62 1958.55H445.78M115.62 1994.72H445.78M115.62 2030.89H445.78M115.62 2067.07H445.78M115.62 2103.23H445.78M115.62 2139.40H445.78M115.62 2175.57H445.78M115.62 2211.74H445.78M115.62 2247.91H445.78M115.62 2284.09H445.78M115.62 2320.26H445.78M115.62 2356.43H445.78M115.62 2392.59H445.78M115.62 1524.51V2392.59M162.78 1524.51V2392.59M209.95 1524.51V2392.59M257.12 1524.51V2392.59M304.28 1524.51V2392.59M351.45 1524.51V2392.59M398.62 1524.51V2392.59M445.78 1524.51V2392.59" stroke="#000" stroke-width="1.3" fill="none" stroke-opacity="0.6"/>
<g font-size="14.8" text-anchor="middle"><text x="139.2" y="1548.8">0</text><text x="186.4" y="1548.8">0</text><text x="233.5" y="1548.8">0</text><text x="280.7" y="1548.8">0</text><text x="327.9" y="1548.8">0</text><text x="375.0" y="1548.8">0</text><text x="422.2" y="1548.8">0</text><text x="139.2" y="1585.0">0</text><text x="186.4" y="1585.0">0</text><text x="233.5" y="1585.0">0</text><text x="280.7" y="1585.0">0</text><text x="327.9" y="1585.0">0</text><text x="375.0" y="1585.0">0</text><text x="422.2" y="1585.0">0</text><text x="139.2" y="1621.2">0</text><text x="186.4" y="1621.2">0</text><text x="233.5" y="1621.2">0</text><text x="280.7" y="1621.2">0</text><text x="327.9" y="1621.2">0</text><text x="375.0" y="1621.2">0</text><text x="422.2" y="1621.2">0</text><text x="139.2" y="1657.3">0</text><text x="186.4" y="1657.3">0</text><text x="233.5" y="1657.3">0</text><text x="280.7" y="1657.3">0</text><text x="327.9" y="1657.3">0</text><text x="375.0" y="1657.3">0</text><text x="422.2" y="1657.3">0</text><text x="139.2" y="1693.5">0</text><text x="186.4" y="1693.5">0</text><text x="233.5" y="1693.5">0</text><text x="280.7" y="1693.5">0</text><text x="327.9" y="1693.5">0</text><text x="375.0" y="1693.5">0</text><text x="422.2" y="1693.5">0</text><text x="139.2" y="1729.7">0</text><text x="186.4" y="1729.7">0.01</text><text x="233.5" y="1729.7">0</text><text x="280.7" y="1729.7">0</text><text x="327.9" y="1729.7">0</text><text x="375.0" y="1729.7">0</text><text x="422.2" y="1729.7">0</text><text x="139.2" y="1765.9">0</text><text x="186.4" y="1765.9">0</text><text x="233.5" y="1765.9">0</text><text x="280.7" y="1765.9">0</text><text x="327.9" y="1765.9">0</text><text x="375.0" y="1765.9">0</text><text x="422.2" y="1765.9">0</text><text x="139.2" y="1802.0">0</text><text x="186.4" y="1802.0">0</text><text x="233.5" y="1802.0">0</text><text x="280.7" y="1802.0">0</text><text x="327.9" y="1802.0">0.01</text><text x="375.0" y="1802.0">0</text><text x="422.2" y="1802.0">0</text><text x="139.2" y="1838.2">0</text><text x="186.4" y="1838.2">0</text><text x="233.5" y="1838.2">0</text><text x="280.7" y="1838.2">0</text><text x="327.9" y="1838.2">0</text><text x="375.0" y="1838.2">0.01</text><text x="422.2" y="1838.2">0</text><text x="139.2" y="1874.4">0</text><text x="186.4" y="1874.4">0</text><text x="233.5" y="1874.4">0</text><text x="280.7" y="1874.4">0</text><text x="327.9" y="1874.4">0</text><text x="375.0" y="1874.4">0</text><text x="422.2" y="1874.4">0</text><text x="139.2" y="1910.5">0</text><text x="186.4" y="1910.5">0</text><text x="233.5" y="1910.5">0</text><text x="280.7" y="1910.5">0.01</text><text x="327.9" y="1910.5">0</text><text x="375.0" y="1910.5">0</text><text x="422.2" y="1910.5">0</text><text x="139.2" y="1946.7">0</text><text x="186.4" y="1946.7">0</text><text x="233.5" y="1946.7">0.01</text><text x="280.7" y="1946.7">0.01</text><text x="327.9" y="1946.7">0</text><text x="375.0" y="1946.7">0.01</text><text x="422.2" y="1946.7">0</text><text x="139.2" y="1982.9">0</text><text x="186.4" y="1982.9">0</text><text x="233.5" y="1982.9">0</text><text x="280.7" y="1982.9">0</text><text x="327.9" y="1982.9">0</text><text x="375.0" y="1982.9">0</text><text x="422.2" y="1982.9">0.01</text><text x="139.2" y="2019.0">0</text><text x="186.4" y="2019.0">0.01</text><text x="233.5" y="2019.0">0.01</text><text x="280.7" y="2019.0">0</text><text x="327.9" y="2019.0">0</text><text x="375.0" y="2019.0">0</text><text x="422.2" y="2019.0">0.01</text><text x="139.2" y="2055.2">0</text><text x="186.4" y="2055.2">0.01</text><text x="233.5" y="2055.2">0</text><text x="280.7" y="2055.2">0</text><text x="327.9" y="2055.2">0</text><text x="375.0" y="2055.2">0.01</text><text x="422.2" y="2055.2">0.01</text><text x="139.2" y="2091.4">0</text><text x="186.4" y="2091.4">0</text><text x="233.5" y="2091.4">0</text><text x="280.7" y="2091.4">0.01</text><text x="327.9" y="2091.4">0</text><text x="375.0" y="2091.4">0</text><text x="422.2" y="2091.4">0</text><text x="139.2" y="2127.6">0</text><text x="186.4" y="2127.6">0</text><text x="233.5" y="2127.6">0</text><text x="280.7" y="2127.6">0</text><text x="327.9" y="2127.6">0</text><text x="375.0" y="2127.6">0</text><text x="422.2" y="2127.6">0</text><text x="139.2" y="2163.7">0</text><text x="186.4" y="2163.7">0</text><text x="233.5" y="2163.7">0</text><text x="280.7" y="2163.7">0</text><text x="327.9" y="2163.7">0</text><text x="375.0" y="2163.7">0</text><text x="422.2" y="2163.7">0</text><text x="139.2" y="2199.9">0</text><text x="186.4" y="2199.9">0</text><text x="233.5" y="2199.9">0</text><text x="280.7" y="2199.9">0</text><text x="327.9" y="2199.9">0</text><text x="375.0" y="2199.9">0</text><text x="422.2" y="2199.9">0</text><text x="139.2" y="2236.1">0</text><text x="186.4" y="2236.1">0</text><text x="233.5" y="2236.1">0</text><text x="280.7" y="2236.1">0</text><text x="327.9" y="2236.1">0</text><text x="375.0" y="2236.1">0</text><text x="422.2" y="2236.1">0</text><text x="139.2" y="2272.2">0</text><text x="186.4" y="2272.2">0</text><text x="233.5" y="2272.2">0</text><text x="280.7" y="2272.2">0</text><text x="327.9" y="2272.2">0.01</text><text x="375.0" y="2272.2">0</text><text x="422.2" y="2272.2">0</text><text x="139.2" y="2308.4">0</text><text x="186.4" y="2308.4">0</text><text x="233.5" y="2308.4">0</text><text x="280.7" y="2308.4">0</text><text x="327.9" y="2308.4">0</text><text x="375.0" y="2308.4">0</text><text x="422.2" y="2308.4">0</text><text x="139.2" y="2344.6">0</text><text x="186.4" y="2344.6">0</text><text x="233.5" y="2344.6">0</text><text x="280.7" y="2344.6">0</text><text x="327.9" y="2344.6">0</text><text x="375.0" y="2344.6">0</text><text x="422.2" y="2344.6">0</text><text x="139.2" y="2380.7">0</text><text x="186.4" y="2380.7">0</text><text x="233.5" y="2380.7">0</text><text x="280.7" y="2380.7">0</text><text x="327.9" y="2380.7">0</text><text x="375.0" y="2380.7">0</text><text x="422.2" y="2380.7">0</text></g>
<rect x="111.60" y="1520.90" width="338.20" height="874.61" fill="none" stroke="#000" stroke-width="1.4"/>
<path d="M139.20 2396.21V2405.41M186.37 2396.21V2405.41M233.53 2396.21V2405.41M280.70 2396.21V2405.41M327.87 2396.21V2405.41M375.03 2396.21V2405.41M422.20 2396.21V2405.41" stroke="#000" stroke-width="1.4" fill="none"/>
<text font-size="27" text-anchor="middle" transform="translate(144.70,2480.00) rotate(-45)">Sunday</text>
<text font-size="27" text-anchor="middle" transform="translate(191.87,2480.00) rotate(-45)">Monday</text>
<text font-size="27" text-anchor="middle" transform="translate(239.03,2480.00) rotate(-45)">Tuesday</text>
<text font-size="27" text-anchor="middle" transform="translate(286.20,2480.00) rotate(-45)">Wednesday</text>
<text font-size="27" text-anchor="middle" transform="translate(333.37,2480.00) rotate(-45)">Thursday</text>
<text font-size="27" text-anchor="middle" transform="translate(380.53,2480.00) rotate(-45)">Friday</text>
<text font-size="27" text-anchor="middle" transform="translate(427.70,2480.00) rotate(-45)">Saturday</text>
<rect x="467.90" y="1467.00" width="339.60" height="53.90" fill="#000"/>
<text x="637.7" y="1504.2" font-size="27" text-anchor="middle" fill="#fff">Brooklyn</text>
<rect x="467.90" y="1520.90" width="339.60" height="875.31" fill="#fff"/>
<path d="M467.90 1542.60H807.50M467.90 1578.77H807.50M467.90 1614.94H807.50M467.90 1651.11H807.50M467.90 1687.28H807.50M467.90 1723.45H807.50M467.90 1759.62H807.50M467.90 1795.79H807.50M467.90 1831.96H807.50M467.90 1868.13H807.50M467.90 1904.30H807.50M467.90 1940.47H807.50M467.90 1976.64H807.50M467.90 2012.81H807.50M467.90 2048.98H807.50M467.90 2085.15H807.50M467.90 2121.32H807.50M467.90 2157.49H807.50M467.90 2193.66H807.50M467.90 2229.83H807.50M467.90 2266.00H807.50M467.90 2302.17H807.50M467.90 2338.34H807.50M467.90 2374.51H807.50M496.20 1520.90V2396.21M543.37 1520.90V2396.21M590.53 1520.90V2396.21M637.70 1520.90V2396.21M684.87 1520.90V2396.21M732.03 1520.90V2396.21M779.20 1520.90V2396.21" stroke="#cfcfcf" stroke-width="1" fill="none"/>
<rect x="472.6" y="1524.5" width="47.17" height="36.17" fill="#ffe7de"/><rect x="519.8" y="1524.5" width="47.17" height="36.17" fill="#fff7f4"/><rect x="566.9" y="1524.5" width="47.17" height="36.17" fill="#ffe7de"/><rect x="614.1" y="1524.5" width="47.17" height="36.17" fill="#fff7f4"/><rect x="661.3" y="1524.5" width="47.17" height="36.17" fill="#ffdfd3"/><rect x="708.4" y="1524.5" width="47.17" height="36.17" fill="#ffe7de"/><rect x="755.6" y="1524.5" width="47.17" height="36.17" fill="#ffe7de"/><rect x="472.6" y="1560.7" width="47.17" height="36.17" fill="#ffdfd3"/><rect x="519.8" y="1560.7" width="47.17" height="36.17" fill="#ffe7de"/><rect x="566.9" y="1560.7" width="47.17" height="36.17" fill="#ffffff"/><rect x="614.1" y="1560.7" width="47.17" height="36.17" fill="#ffefe9"/><rect x="661.3" y="1560.7" width="47.17" height="36.17" fill="#fff7f4"/><rect x="708.4" y="1560.7" width="47.17" height="36.17" fill="#ffefe9"/><rect x="755.6" y="1560.7" width="47.17" height="36.17" fill="#ffdfd3"/><rect x="472.6" y="1596.9" width="47.17" height="36.17" fill="#ffefe9"/><rect x="519.8" y="1596.9" width="47.17" height="36.17" fill="#ffcebd"/><rect x="566.9" y="1596.9" width="47.17" height="36.17" fill="#ffd6c8"/><rect x="614.1" y="1596.9" width="47.17" height="36.17" fill="#ffcebd"/><rect x="661.3" y="1596.9" width="47.17" height="36.17" fill="#ffe7de"/><rect x="708.4" y="1596.9" width="47.17" height="36.17" fill="#ffefe9"/><rect x="755.6" y="1596.9" width="47.17" height="36.17" fill="#fff7f4"/><rect x="472.6" y="1633.0" width="47.17" height="36.17" fill="#ffd6c8"/><rect x="519.8" y="1633.0" width="47.17" height="36.17" fill="#ffdfd3"/><rect x="566.9" y="1633.0" width="47.17" height="36.17" fill="#ffe7de"/><rect x="614.1" y="1633.0" width="47.17" height="36.17" fill="#ffefe9"/><rect x="661.3" y="1633.0" width="47.17" height="36.17" fill="#ffc6b3"/><rect x="708.4" y="1633.0" width="47.17" height="36.17" fill="#ffdfd3"/><rect x="755.6" y="1633.0" width="47.17" height="36.17" fill="#ffcebd"/><rect x="472.6" y="1669.2" width="47.17" height="36.17" fill="#ffe7de"/><rect x="519.8" y="1669.2" width="47.17" height="36.17" fill="#ffdfd3"/><rect x="566.9" y="1669.2" width="47.17" height="36.17" fill="#ffdfd3"/><rect x="614.1" y="1669.2" width="47.17" height="36.17" fill="#ffdfd3"/><rect x="661.3" y="1669.2" width="47.17" height="36.17" fill="#ffdfd3"/><rect x="708.4" y="1669.2" width="47.17" height="36.17" fill="#ffc6b3"/><rect x="755.6" y="1669.2" width="47.17" height="36.17" fill="#ffc6b3"/><rect x="472.6" y="1705.4" width="47.17" height="36.17" fill="#ffffff"/><rect x="519.8" y="1705.4" width="47.17" height="36.17" fill="#ffd6c8"/><rect x="566.9" y="1705.4" width="47.17" height="36.17" fill="#ffdfd3"/><rect x="614.1" y="1705.4" width="47.17" height="36.17" fill="#ffc6b3"/><rect x="661.3" y="1705.4" width="47.17" height="36.17" fill="#ffdfd3"/><rect x="708.4" y="1705.4" width="47.17" height="36.17" fill="#ffe7de"/><rect x="755.6" y="1705.4" width="47.17" height="36.17" fill="#ffc6b3"/><rect x="472.6" y="1741.5" width="47.17" height="36.17" fill="#ffe7de"/><rect x="519.8" y="1741.5" width="47.17" height="36.17" fill="#ffd6c8"/><rect x="566.9" y="1741.5" width="47.17" height="36.17" fill="#ffdfd3"/><rect x="614.1" y="1741.5" width="47.17" height="36.17" fill="#ffd6c8"/><rect x="661.3" y="1741.5" width="47.17" height="36.17" fill="#fff7f4"/><rect x="708.4" y="1741.5" width="47.17" height="36.17" fill="#fff7f4"/><rect x="755.6" y="1741.5" width="47.17" height="36.17" fill="#ffdfd3"/><rect x="472.6" y="1777.7" width="47.17" height="36.17" fill="#fff7f4"/><rect x="519.8" y="1777.7" width="47.17" height="36.17" fill="#ffd6c8"/><rect x="566.9" y="1777.7" width="47.17" height="36.17" fill="#ffd6c8"/><rect x="614.1" y="1777.7" width="47.17" height="36.17" fill="#ffefe9"/><rect x="661.3" y="1777.7" width="47.17" height="36.17" fill="#fff7f4"/><rect x="708.4" y="1777.7" width="47.17" height="36.17" fill="#ffdfd3"/><rect x="755.6" y="1777.7" width="47.17" height="36.17" fill="#ffefe9"/><rect x="472.6" y="1813.9" width="47.17" height="36.17" fill="#ffdfd3"/><rect x="519.8" y="1813.9" width="47.17" height="36.17" fill="#ffdfd3"/><rect x="566.9" y="1813.9" width="47.17" height="36.17" fill="#ffe7de"/><rect x="614.1" y="1813.9" width="47.17" height="36.17" fill="#ffcebd"/><rect x="661.3" y="1813.9" width="47.17" height="36.17" fill="#ffd6c8"/><rect x="708.4" y="1813.9" width="47.17" height="36.17" fill="#ffcebd"/><rect x="755.6" y="1813.9" width="47.17" height="36.17" fill="#ffe7de"/><rect x="472.6" y="1850.0" width="47.17" height="36.17" fill="#ffe7de"/><rect x="519.8" y="1850.0" width="47.17" height="36.17" fill="#ffe7de"/><rect x="566.9" y="1850.0" width="47.17" height="36.17" fill="#ffe7de"/><rect x="614.1" y="1850.0" width="47.17" height="36.17" fill="#ffe7de"/><rect x="661.3" y="1850.0" width="47.17" height="36.17" fill="#ffefe9"/><rect x="708.4" y="1850.0" width="47.17" height="36.17" fill="#ffcebd"/><rect x="755.6" y="1850.0" width="47.17" height="36.17" fill="#ffe7de"/><rect x="472.6" y="1886.2" width="47.17" height="36.17" fill="#fff7f4"/><rect x="519.8" y="1886.2" width="47.17" height="36.17" fill="#ffc6b3"/><rect x="566.9" y="1886.2" width="47.17" height="36.17" fill="#ffdfd3"/><rect x="614.1" y="1886.2" width="47.17" height="36.17" fill="#ffe7de"/><rect x="661.3" y="1886.2" width="47.17" height="36.17" fill="#fff7f4"/><rect x="708.4" y="1886.2" width="47.17" height="36.17" fill="#ffa589"/><rect x="755.6" y="1886.2" width="47.17" height="36.17" fill="#ffdfd3"/><rect x="472.6" y="1922.4" width="47.17" height="36.17" fill="#ffcebd"/><rect x="519.8" y="1922.4" width="47.17" height="36.17" fill="#ffd6c8"/><rect x="566.9" y="1922.4" width="47.17" height="36.17" fill="#ffe7de"/><rect x="614.1" y="1922.4" width="47.17" height="36.17" fill="#ffe7de"/><rect x="661.3" y="1922.4" width="47.17" height="36.17" fill="#ffdfd3"/><rect x="708.4" y="1922.4" width="47.17" height="36.17" fill="#ffc6b3"/><rect x="755.6" y="1922.4" width="47.17" height="36.17" fill="#ffd6c8"/><rect x="472.6" y="1958.6" width="47.17" height="36.17" fill="#ffefe9"/><rect x="519.8" y="1958.6" width="47.17" height="36.17" fill="#ffbea8"/><rect x="566.9" y="1958.6" width="47.17" height="36.17" fill="#ffefe9"/><rect x="614.1" y="1958.6" width="47.17" height="36.17" fill="#ffdfd3"/><rect x="661.3" y="1958.6" width="47.17" height="36.17" fill="#ffcebd"/><rect x="708.4" y="1958.6" width="47.17" height="36.17" fill="#ffcebd"/><rect x="755.6" y="1958.6" width="47.17" height="36.17" fill="#fff7f4"/><rect x="472.6" y="1994.7" width="47.17" height="36.17" fill="#ffefe9"/><rect x="519.8" y="1994.7" width="47.17" height="36.17" fill="#ffcebd"/><rect x="566.9" y="1994.7" width="47.17" height="36.17" fill="#ffe7de"/><rect x="614.1" y="1994.7" width="47.17" height="36.17" fill="#ffdfd3"/><rect x="661.3" y="1994.7" width="47.17" height="36.17" fill="#ffdfd3"/><rect x="708.4" y="1994.7" width="47.17" height="36.17" fill="#ffc6b3"/><rect x="755.6" y="1994.7" width="47.17" height="36.17" fill="#ffcebd"/><rect x="472.6" y="2030.9" width="47.17" height="36.17" fill="#ffd6c8"/><rect x="519.8" y="2030.9" width="47.17" height="36.17" fill="#ffcebd"/><rect x="566.9" y="2030.9" width="47.17" height="36.17" fill="#ffd6c8"/><rect x="614.1" y="2030.9" width="47.17" height="36.17" fill="#ffbea8"/><rect x="661.3" y="2030.9" width="47.17" height="36.17" fill="#ffe7de"/><rect x="708.4" y="2030.9" width="47.17" height="36.17" fill="#ffd6c8"/><rect x="755.6" y="2030.9" width="47.17" height="36.17" fill="#ffe7de"/><rect x="472.6" y="2067.1" width="47.17" height="36.17" fill="#ffd6c8"/><rect x="519.8" y="2067.1" width="47.17" height="36.17" fill="#fff7f4"/><rect x="566.9" y="2067.1" width="47.17" height="36.17" fill="#ffd6c8"/><rect x="614.1" y="2067.1" width="47.17" height="36.17" fill="#ffd6c8"/><rect x="661.3" y="2067.1" width="47.17" height="36.17" fill="#ffb59e"/><rect x="708.4" y="2067.1" width="47.17" height="36.17" fill="#ffe7de"/><rect x="755.6" y="2067.1" width="47.17" height="36.17" fill="#ffdfd3"/><rect x="472.6" y="2103.2" width="47.17" height="36.17" fill="#ffdfd3"/><rect x="519.8" y="2103.2" width="47.17" height="36.17" fill="#ffffff"/><rect x="566.9" y="2103.2" width="47.17" height="36.17" fill="#ffefe9"/><rect x="614.1" y="2103.2" width="47.17" height="36.17" fill="#ffdfd3"/><rect x="661.3" y="2103.2" width="47.17" height="36.17" fill="#ffefe9"/><rect x="708.4" y="2103.2" width="47.17" height="36.17" fill="#fff7f4"/><rect x="755.6" y="2103.2" width="47.17" height="36.17" fill="#fff7f4"/><rect x="472.6" y="2139.4" width="47.17" height="36.17" fill="#ffefe9"/><rect x="519.8" y="2139.4" width="47.17" height="36.17" fill="#fff7f4"/><rect x="566.9" y="2139.4" width="47.17" height="36.17" fill="#ffffff"/><rect x="614.1" y="2139.4" width="47.17" height="36.17" fill="#fff7f4"/><rect x="661.3" y="2139.4" width="47.17" height="36.17" fill="#ffe7de"/><rect x="708.4" y="2139.4" width="47.17" height="36.17" fill="#fff7f4"/><rect x="755.6" y="2139.4" width="47.17" height="36.17" fill="#ffe7de"/><rect x="472.6" y="2175.6" width="47.17" height="36.17" fill="#fff7f4"/><rect x="519.8" y="2175.6" width="47.17" height="36.17" fill="#ffefe9"/><rect x="566.9" y="2175.6" width="47.17" height="36.17" fill="#ffe7de"/><rect x="614.1" y="2175.6" width="47.17" height="36.17" fill="#ffffff"/><rect x="661.3" y="2175.6" width="47.17" height="36.17" fill="#ffe7de"/><rect x="708.4" y="2175.6" width="47.17" height="36.17" fill="#ffefe9"/><rect x="755.6" y="2175.6" width="47.17" height="36.17" fill="#fff7f4"/><rect x="472.6" y="2211.7" width="47.17" height="36.17" fill="#ffefe9"/><rect x="519.8" y="2211.7" width="47.17" height="36.17" fill="#fff7f4"/><rect x="566.9" y="2211.7" width="47.17" height="36.17" fill="#ffefe9"/><rect x="614.1" y="2211.7" width="47.17" height="36.17" fill="#fff7f4"/><rect x="661.3" y="2211.7" width="47.17" height="36.17" fill="#ffefe9"/><rect x="708.4" y="2211.7" width="47.17" height="36.17" fill="#ffefe9"/><rect x="755.6" y="2211.7" width="47.17" height="36.17" fill="#fff7f4"/><rect x="472.6" y="2247.9" width="47.17" height="36.17" fill="#ffefe9"/><rect x="519.8" y="2247.9" width="47.17" height="36.17" fill="#fff7f4"/><rect x="566.9" y="2247.9" width="47.17" height="36.17" fill="#ffe7de"/><rect x="614.1" y="2247.9" width="47.17" height="36.17" fill="#fff7f4"/><rect x="661.3" y="2247.9" width="47.17" height="36.17" fill="#ffdfd3"/><rect x="708.4" y="2247.9" width="47.17" height="36.17" fill="#ffefe9"/><rect x="755.6" y="2247.9" width="47.17" height="36.17" fill="#ffefe9"/><rect x="472.6" y="2284.1" width="47.17" height="36.17" fill="#ffffff"/><rect x="519.8" y="2284.1" width="47.17" height="36.17" fill="#ffefe9"/><rect x="566.9" y="2284.1" width="47.17" height="36.17" fill="#ffdfd3"/><rect x="614.1" y="2284.1" width="47.17" height="36.17" fill="#ffefe9"/><rect x="661.3" y="2284.1" width="47.17" height="36.17" fill="#ffffff"/><rect x="708.4" y="2284.1" width="47.17" height="36.17" fill="#ffffff"/><rect x="755.6" y="2284.1" width="47.17" height="36.17" fill="#ffffff"/><rect x="472.6" y="2320.3" width="47.17" height="36.17" fill="#fff7f4"/><rect x="519.8" y="2320.3" width="47.17" height="36.17" fill="#fff7f4"/><rect x="566.9" y="2320.3" width="47.17" height="36.17" fill="#fff7f4"/><rect x="614.1" y="2320.3" width="47.17" height="36.17" fill="#ffefe9"/><rect x="661.3" y="2320.3" width="47.17" height="36.17" fill="#ffefe9"/><rect x="708.4" y="2320.3" width="47.17" height="36.17" fill="#ffefe9"/><rect x="755.6" y="2320.3" width="47.17" height="36.17" fill="#fff7f4"/><rect x="472.6" y="2356.4" width="47.17" height="36.17" fill="#ffdfd3"/><rect x="519.8" y="2356.4" width="47.17" height="36.17" fill="#ffefe9"/><rect x="566.9" y="2356.4" width="47.17" height="36.17" fill="#ffe7de"/><rect x="614.1" y="2356.4" width="47.17" height="36.17" fill="#ffefe9"/><rect x="661.3" y="2356.4" width="47.17" height="36.17" fill="#fff7f4"/><rect x="708.4" y="2356.4" width="47.17" height="36.17" fill="#fff7f4"/><rect x="755.6" y="2356.4" width="47.17" height="36.17" fill="#ffe7de"/>
<path d="M472.62 1524.51H802.78M472.62 1560.68H802.78M472.62 1596.85H802.78M472.62 1633.02H802.78M472.62 1669.19H802.78M472.62 1705.36H802.78M472.62 1741.53H802.78M472.62 1777.70H802.78M472.62 1813.88H802.78M472.62 1850.04H802.78M472.62 1886.21H802.78M472.62 1922.38H802.78M472.62 1958.55H802.78M472.62 1994.72H802.78M472.62 2030.89H802.78M472.62 2067.07H802.78M472.62 2103.23H802.78M472.62 2139.40H802.78M472.62 2175.57H802.78M472.62 2211.74H802.78M472.62 2247.91H802.78M472.62 2284.09H802.78M472.62 2320.26H802.78M472.62 2356.43H802.78M472.62 2392.59H802.78M472.62 1524.51V2392.59M519.78 1524.51V2392.59M566.95 1524.51V2392.59M614.12 1524.51V2392.59M661.28 1524.51V2392.59M708.45 1524.51V2392.59M755.62 1524.51V2392.59M802.78 1524.51V2392.59" stroke="#000" stroke-width="1.3" fill="none" stroke-opacity="0.6"/>
<g font-size="14.8" text-anchor="middle"><text x="496.2" y="1548.8">0</text><text x="543.4" y="1548.8">0</text><text x="590.5" y="1548.8">0</text><text x="637.7" y="1548.8">0</text><text x="684.9" y="1548.8">0</text><text x="732.0" y="1548.8">0</text><text x="779.2" y="1548.8">0</text><text x="496.2" y="1585.0">0</text><text x="543.4" y="1585.0">0</text><text x="590.5" y="1585.0">0</text><text x="637.7" y="1585.0">0</text><text x="684.9" y="1585.0">0</text><text x="732.0" y="1585.0">0</text><text x="779.2" y="1585.0">0</text><text x="496.2" y="1621.2">0</text><text x="543.4" y="1621.2">0</text><text x="590.5" y="1621.2">0</text><text x="637.7" y="1621.2">0</text><text x="684.9" y="1621.2">0</text><text x="732.0" y="1621.2">0</text><text x="779.2" y="1621.2">0</text><text x="496.2" y="1657.3">0</text><text x="543.4" y="1657.3">0</text><text x="590.5" y="1657.3">0</text><text x="637.7" y="1657.3">0</text><text x="684.9" y="1657.3">0</text><text x="732.0" y="1657.3">0</text><text x="779.2" y="1657.3">0</text><text x="496.2" y="1693.5">0</text><text x="543.4" y="1693.5">0</text><text x="590.5" y="1693.5">0</text><text x="637.7" y="1693.5">0</text><text x="684.9" y="1693.5">0</text><text x="732.0" y="1693.5">0</text><text x="779.2" y="1693.5">0</text><text x="496.2" y="1729.7">0</text><text x="543.4" y="1729.7">0</text><text x="590.5" y="1729.7">0</text><text x="637.7" y="1729.7">0</text><text x="684.9" y="1729.7">0</text><text x="732.0" y="1729.7">0</text><text x="779.2" y="1729.7">0</text><text x="496.2" y="1765.9">0</text><text x="543.4" y="1765.9">0</text><text x="590.5" y="1765.9">0</text><text x="637.7" y="1765.9">0</text><text x="684.9" y="1765.9">0</text><text x="732.0" y="1765.9">0</text><text x="779.2" y="1765.9">0</text><text x="496.2" y="1802.0">0</text><text x="543.4" y="1802.0">0</text><text x="590.5" y="1802.0">0</text><text x="637.7" y="1802.0">0</text><text x="684.9" y="1802.0">0</text><text x="732.0" y="1802.0">0</text><text x="779.2" y="1802.0">0</text><text x="496.2" y="1838.2">0</text><text x="543.4" y="1838.2">0</text><text x="590.5" y="1838.2">0</text><text x="637.7" y="1838.2">0</text><text x="684.9" y="1838.2">0</text><text x="732.0" y="1838.2">0</text><text x="779.2" y="1838.2">0</text><text x="496.2" y="1874.4">0</text><text x="543.4" y="1874.4">0</text><text x="590.5" y="1874.4">0</text><text x="637.7" y="1874.4">0</text><text x="684.9" y="1874.4">0</text><text x="732.0" y="1874.4">0</text><text x="779.2" y="1874.4">0</text><text x="496.2" y="1910.5">0</text><text x="543.4" y="1910.5">0</text><text x="590.5" y="1910.5">0</text><text x="637.7" y="1910.5">0</text><text x="684.9" y="1910.5">0</text><text x="732.0" y="1910.5">0</text><text x="779.2" y="1910.5">0</text><text x="496.2" y="1946.7">0</text><text x="543.4" y="1946.7">0</text><text x="590.5" y="1946.7">0</text><text x="637.7" y="1946.7">0</text><text x="684.9" y="1946.7">0</text><text x="732.0" y="1946.7">0</text><text x="779.2" y="1946.7">0</text><text x="496.2" y="1982.9">0</text><text x="543.4" y="1982.9">0</text><text x="590.5" y="1982.9">0</text><text x="637.7" y="1982.9">0</text><text x="684.9" y="1982.9">0</text><text x="732.0" y="1982.9">0</text><text x="779.2" y="1982.9">0</text><text x="496.2" y="2019.0">0</text><text x="543.4" y="2019.0">0</text><text x="590.5" y="2019.0">0</text><text x="637.7" y="2019.0">0</text><text x="684.9" y="2019.0">0</text><text x="732.0" y="2019.0">0</text><text x="779.2" y="2019.0">0</text><text x="496.2" y="2055.2">0</text><text x="543.4" y="2055.2">0</text><text x="590.5" y="2055.2">0</text><text x="637.7" y="2055.2">0</text><text x="684.9" y="2055.2">0</text><text x="732.0" y="2055.2">0</text><text x="779.2" y="2055.2">0</text><text x="496.2" y="2091.4">0</text><text x="543.4" y="2091.4">0</text><text x="590.5" y="2091.4">0</text><text x="637.7" y="2091.4">0</text><text x="684.9" y="2091.4">0</text><text x="732.0" y="2091.4">0</text><text x="779.2" y="2091.4">0</text><text x="496.2" y="2127.6">0</text><text x="543.4" y="2127.6">0</text><text x="590.5" y="2127.6">0</text><text x="637.7" y="2127.6">0</text><text x="684.9" y="2127.6">0</text><text x="732.0" y="2127.6">0</text><text x="779.2" y="2127.6">0</text><text x="496.2" y="2163.7">0</text><text x="543.4" y="2163.7">0</text><text x="590.5" y="2163.7">0</text><text x="637.7" y="2163.7">0</text><text x="684.9" y="2163.7">0</text><text x="732.0" y="2163.7">0</text><text x="779.2" y="2163.7">0</text><text x="496.2" y="2199.9">0</text><text x="543.4" y="2199.9">0</text><text x="590.5" y="2199.9">0</text><text x="637.7" y="2199.9">0</text><text x="684.9" y="2199.9">0</text><text x="732.0" y="2199.9">0</text><text x="779.2" y="2199.9">0</text><text x="496.2" y="2236.1">0</text><text x="543.4" y="2236.1">0</text><text x="590.5" y="2236.1">0</text><text x="637.7" y="2236.1">0</text><text x="684.9" y="2236.1">0</text><text x="732.0" y="2236.1">0</text><text x="779.2" y="2236.1">0</text><text x="496.2" y="2272.2">0</text><text x="543.4" y="2272.2">0</text><text x="590.5" y="2272.2">0</text><text x="637.7" y="2272.2">0</text><text x="684.9" y="2272.2">0</text><text x="732.0" y="2272.2">0</text><text x="779.2" y="2272.2">0</text><text x="496.2" y="2308.4">0</text><text x="543.4" y="2308.4">0</text><text x="590.5" y="2308.4">0</text><text x="637.7" y="2308.4">0</text><text x="684.9" y="2308.4">0</text><text x="732.0" y="2308.4">0</text><text x="779.2" y="2308.4">0</text><text x="496.2" y="2344.6">0</text><text x="543.4" y="2344.6">0</text><text x="590.5" y="2344.6">0</text><text x="637.7" y="2344.6">0</text><text x="684.9" y="2344.6">0</text><text x="732.0" y="2344.6">0</text><text x="779.2" y="2344.6">0</text><text x="496.2" y="2380.7">0</text><text x="543.4" y="2380.7">0</text><text x="590.5" y="2380.7">0</text><text x="637.7" y="2380.7">0</text><text x="684.9" y="2380.7">0</text><text x="732.0" y="2380.7">0</text><text x="779.2" y="2380.7">0</text></g>
<rect x="468.60" y="1520.90" width="338.20" height="874.61" fill="none" stroke="#000" stroke-width="1.4"/>
<path d="M496.20 2396.21V2405.41M543.37 2396.21V2405.41M590.53 2396.21V2405.41M637.70 2396.21V2405.41M684.87 2396.21V2405.41M732.03 2396.21V2405.41M779.20 2396.21V2405.41" stroke="#000" stroke-width="1.4" fill="none"/>
<text font-size="27" text-anchor="middle" transform="translate(501.70,2480.00) rotate(-45)">Sunday</text>
<text font-size="27" text-anchor="middle" transform="translate(548.87,2480.00) rotate(-45)">Monday</text>
<text font-size="27" text-anchor="middle" transform="translate(596.03,2480.00) rotate(-45)">Tuesday</text>
<text font-size="27" text-anchor="middle" transform="translate(643.20,2480.00) rotate(-45)">Wednesday</text>
<text font-size="27" text-anchor="middle" transform="translate(690.37,2480.00) rotate(-45)">Thursday</text>
<text font-size="27" text-anchor="middle" transform="translate(737.53,2480.00) rotate(-45)">Friday</text>
<text font-size="27" text-anchor="middle" transform="translate(784.70,2480.00) rotate(-45)">Saturday</text>
<rect x="824.90" y="1467.00" width="339.60" height="53.90" fill="#000"/>
<text x="994.7" y="1504.2" font-size="27" text-anchor="middle" fill="#fff">Manhattan</text>
<rect x="824.90" y="1520.90" width="339.60" height="875.31" fill="#fff"/>
<path d="M824.90 1542.60H1164.50M824.90 1578.77H1164.50M824.90 1614.94H1164.50M824.90 1651.11H1164.50M824.90 1687.28H1164.50M824.90 1723.45H1164.50M824.90 1759.62H1164.50M824.90 1795.79H1164.50M824.90 1831.96H1164.50M824.90 1868.13H1164.50M824.90 1904.30H1164.50M824.90 1940.47H1164.50M824.90 1976.64H1164.50M824.90 2012.81H1164.50M824.90 2048.98H1164.50M824.90 2085.15H1164.50M824.90 2121.32H1164.50M824.90 2157.49H1164.50M824.90 2193.66H1164.50M824.90 2229.83H1164.50M824.90 2266.00H1164.50M824.90 2302.17H1164.50M824.90 2338.34H1164.50M824.90 2374.51H1164.50M853.20 1520.90V2396.21M900.37 1520.90V2396.21M947.53 1520.90V2396.21M994.70 1520.90V2396.21M1041.87 1520.90V2396.21M1089.03 1520.90V2396.21M1136.20 1520.90V2396.21" stroke="#cfcfcf" stroke-width="1" fill="none"/>
<rect x="829.6" y="1524.5" width="47.17" height="36.17" fill="#fff2ed"/><rect x="876.8" y="1524.5" width="47.17" height="36.17" fill="#ffe5db"/><rect x="923.9" y="1524.5" width="47.17" height="36.17" fill="#ffd8ca"/><rect x="971.1" y="1524.5" width="47.17" height="36.17" fill="#ffcab8"/><rect x="1018.3" y="1524.5" width="47.17" height="36.17" fill="#ffaf96"/><rect x="1065.5" y="1524.5" width="47.17" height="36.17" fill="#ffd8ca"/><rect x="1112.6" y="1524.5" width="47.17" height="36.17" fill="#ffa185"/><rect x="829.6" y="1560.7" width="47.17" height="36.17" fill="#ffd8ca"/><rect x="876.8" y="1560.7" width="47.17" height="36.17" fill="#ffe5db"/><rect x="923.9" y="1560.7" width="47.17" height="36.17" fill="#fff2ed"/><rect x="971.1" y="1560.7" width="47.17" height="36.17" fill="#ffe5db"/><rect x="1018.3" y="1560.7" width="47.17" height="36.17" fill="#ffd8ca"/><rect x="1065.5" y="1560.7" width="47.17" height="36.17" fill="#fff2ed"/><rect x="1112.6" y="1560.7" width="47.17" height="36.17" fill="#fff2ed"/><rect x="829.6" y="1596.9" width="47.17" height="36.17" fill="#ffd8ca"/><rect x="876.8" y="1596.9" width="47.17" height="36.17" fill="#fff2ed"/><rect x="923.9" y="1596.9" width="47.17" height="36.17" fill="#fff2ed"/><rect x="971.1" y="1596.9" width="47.17" height="36.17" fill="#ffcab8"/><rect x="1018.3" y="1596.9" width="47.17" height="36.17" fill="#ffd8ca"/><rect x="1065.5" y="1596.9" width="47.17" height="36.17" fill="#ffd8ca"/><rect x="1112.6" y="1596.9" width="47.17" height="36.17" fill="#ffcab8"/><rect x="829.6" y="1633.0" width="47.17" height="36.17" fill="#ffe5db"/><rect x="876.8" y="1633.0" width="47.17" height="36.17" fill="#ffe5db"/><rect x="923.9" y="1633.0" width="47.17" height="36.17" fill="#ffaf96"/><rect x="971.1" y="1633.0" width="47.17" height="36.17" fill="#ffcab8"/><rect x="1018.3" y="1633.0" width="47.17" height="36.17" fill="#ffd8ca"/><rect x="1065.5" y="1633.0" width="47.17" height="36.17" fill="#ffd8ca"/><rect x="1112.6" y="1633.0" width="47.17" height="36.17" fill="#ffcab8"/><rect x="829.6" y="1669.2" width="47.17" height="36.17" fill="#fff2ed"/><rect x="876.8" y="1669.2" width="47.17" height="36.17" fill="#ffe5db"/><rect x="923.9" y="1669.2" width="47.17" height="36.17" fill="#ffd8ca"/><rect x="971.1" y="1669.2" width="47.17" height="36.17" fill="#fff2ed"/><rect x="1018.3" y="1669.2" width="47.17" height="36.17" fill="#ffcab8"/><rect x="1065.5" y="1669.2" width="47.17" height="36.17" fill="#fff2ed"/><rect x="1112.6" y="1669.2" width="47.17" height="36.17" fill="#ffcab8"/><rect x="829.6" y="1705.4" width="47.17" height="36.17" fill="#ffe5db"/><rect x="876.8" y="1705.4" width="47.17" height="36.17" fill="#fff2ed"/><rect x="923.9" y="1705.4" width="47.17" height="36.17" fill="#ffaf96"/><rect x="971.1" y="1705.4" width="47.17" height="36.17" fill="#ffbda7"/><rect x="1018.3" y="1705.4" width="47.17" height="36.17" fill="#ffe5db"/><rect x="1065.5" y="1705.4" width="47.17" height="36.17" fill="#ffd8ca"/><rect x="1112.6" y="1705.4" width="47.17" height="36.17" fill="#fff2ed"/><rect x="829.6" y="1741.5" width="47.17" height="36.17" fill="#ffd8ca"/><rect x="876.8" y="1741.5" width="47.17" height="36.17" fill="#ffe5db"/><rect x="923.9" y="1741.5" width="47.17" height="36.17" fill="#ffa185"/><rect x="971.1" y="1741.5" width="47.17" height="36.17" fill="#ffd8ca"/><rect x="1018.3" y="1741.5" width="47.17" height="36.17" fill="#fff2ed"/><rect x="1065.5" y="1741.5" width="47.17" height="36.17" fill="#ffbda7"/><rect x="1112.6" y="1741.5" width="47.17" height="36.17" fill="#ffa185"/><rect x="829.6" y="1777.7" width="47.17" height="36.17" fill="#ffcab8"/><rect x="876.8" y="1777.7" width="47.17" height="36.17" fill="#ffd8ca"/><rect x="923.9" y="1777.7" width="47.17" height="36.17" fill="#ffa185"/><rect x="971.1" y="1777.7" width="47.17" height="36.17" fill="#ffa185"/><rect x="1018.3" y="1777.7" width="47.17" height="36.17" fill="#ffe5db"/><rect x="1065.5" y="1777.7" width="47.17" height="36.17" fill="#ffaf96"/><rect x="1112.6" y="1777.7" width="47.17" height="36.17" fill="#ffd8ca"/><rect x="829.6" y="1813.9" width="47.17" height="36.17" fill="#ffffff"/><rect x="876.8" y="1813.9" width="47.17" height="36.17" fill="#ffe5db"/><rect x="923.9" y="1813.9" width="47.17" height="36.17" fill="#ffaf96"/><rect x="971.1" y="1813.9" width="47.17" height="36.17" fill="#ff8565"/><rect x="1018.3" y="1813.9" width="47.17" height="36.17" fill="#ffcab8"/><rect x="1065.5" y="1813.9" width="47.17" height="36.17" fill="#ffcab8"/><rect x="1112.6" y="1813.9" width="47.17" height="36.17" fill="#ffbda7"/><rect x="829.6" y="1850.0" width="47.17" height="36.17" fill="#fff2ed"/><rect x="876.8" y="1850.0" width="47.17" height="36.17" fill="#ffffff"/><rect x="923.9" y="1850.0" width="47.17" height="36.17" fill="#ffbda7"/><rect x="971.1" y="1850.0" width="47.17" height="36.17" fill="#ffbda7"/><rect x="1018.3" y="1850.0" width="47.17" height="36.17" fill="#ff9375"/><rect x="1065.5" y="1850.0" width="47.17" height="36.17" fill="#ffa185"/><rect x="1112.6" y="1850.0" width="47.17" height="36.17" fill="#ffbda7"/><rect x="829.6" y="1886.2" width="47.17" height="36.17" fill="#ffcab8"/><rect x="876.8" y="1886.2" width="47.17" height="36.17" fill="#ffcab8"/><rect x="923.9" y="1886.2" width="47.17" height="36.17" fill="#fff2ed"/><rect x="971.1" y="1886.2" width="47.17" height="36.17" fill="#ffd8ca"/><rect x="1018.3" y="1886.2" width="47.17" height="36.17" fill="#ffcab8"/><rect x="1065.5" y="1886.2" width="47.17" height="36.17" fill="#ffbda7"/><rect x="1112.6" y="1886.2" width="47.17" height="36.17" fill="#ffbda7"/><rect x="829.6" y="1922.4" width="47.17" height="36.17" fill="#fff2ed"/><rect x="876.8" y="1922.4" width="47.17" height="36.17" fill="#ffbda7"/><rect x="923.9" y="1922.4" width="47.17" height="36.17" fill="#ffcab8"/><rect x="971.1" y="1922.4" width="47.17" height="36.17" fill="#ffaf96"/><rect x="1018.3" y="1922.4" width="47.17" height="36.17" fill="#ffaf96"/><rect x="1065.5" y="1922.4" width="47.17" height="36.17" fill="#ffcab8"/><rect x="1112.6" y="1922.4" width="47.17" height="36.17" fill="#ffbda7"/><rect x="829.6" y="1958.6" width="47.17" height="36.17" fill="#ffcab8"/><rect x="876.8" y="1958.6" width="47.17" height="36.17" fill="#ffcab8"/><rect x="923.9" y="1958.6" width="47.17" height="36.17" fill="#ffaf96"/><rect x="971.1" y="1958.6" width="47.17" height="36.17" fill="#ffa185"/><rect x="1018.3" y="1958.6" width="47.17" height="36.17" fill="#ffbda7"/><rect x="1065.5" y="1958.6" width="47.17" height="36.17" fill="#ffaf96"/><rect x="1112.6" y="1958.6" width="47.17" height="36.17" fill="#ffd8ca"/><rect x="829.6" y="1994.7" width="47.17" height="36.17" fill="#ffbda7"/><rect x="876.8" y="1994.7" width="47.17" height="36.17" fill="#ffbda7"/><rect x="923.9" y="1994.7" width="47.17" height="36.17" fill="#ffe5db"/><rect x="971.1" y="1994.7" width="47.17" height="36.17" fill="#ffe5db"/><rect x="1018.3" y="1994.7" width="47.17" height="36.17" fill="#ffbda7"/><rect x="1065.5" y="1994.7" width="47.17" height="36.17" fill="#ffd8ca"/><rect x="1112.6" y="1994.7" width="47.17" height="36.17" fill="#ffd8ca"/><rect x="829.6" y="2030.9" width="47.17" height="36.17" fill="#fff2ed"/><rect x="876.8" y="2030.9" width="47.17" height="36.17" fill="#ffd8ca"/><rect x="923.9" y="2030.9" width="47.17" height="36.17" fill="#fff2ed"/><rect x="971.1" y="2030.9" width="47.17" height="36.17" fill="#ffd8ca"/><rect x="1018.3" y="2030.9" width="47.17" height="36.17" fill="#ffcab8"/><rect x="1065.5" y="2030.9" width="47.17" height="36.17" fill="#ffd8ca"/><rect x="1112.6" y="2030.9" width="47.17" height="36.17" fill="#ffaf96"/><rect x="829.6" y="2067.1" width="47.17" height="36.17" fill="#fff2ed"/><rect x="876.8" y="2067.1" width="47.17" height="36.17" fill="#ffcab8"/><rect x="923.9" y="2067.1" width="47.17" height="36.17" fill="#ffaf96"/><rect x="971.1" y="2067.1" width="47.17" height="36.17" fill="#ffbda7"/><rect x="1018.3" y="2067.1" width="47.17" height="36.17" fill="#ffcab8"/><rect x="1065.5" y="2067.1" width="47.17" height="36.17" fill="#ffe5db"/><rect x="1112.6" y="2067.1" width="47.17" height="36.17" fill="#ffd8ca"/><rect x="829.6" y="2103.2" width="47.17" height="36.17" fill="#ffe5db"/><rect x="876.8" y="2103.2" width="47.17" height="36.17" fill="#ffcab8"/><rect x="923.9" y="2103.2" width="47.17" height="36.17" fill="#fff2ed"/><rect x="971.1" y="2103.2" width="47.17" height="36.17" fill="#ffffff"/><rect x="1018.3" y="2103.2" width="47.17" height="36.17" fill="#ffe5db"/><rect x="1065.5" y="2103.2" width="47.17" height="36.17" fill="#ffffff"/><rect x="1112.6" y="2103.2" width="47.17" height="36.17" fill="#fff2ed"/><rect x="829.6" y="2139.4" width="47.17" height="36.17" fill="#ffe5db"/><rect x="876.8" y="2139.4" width="47.17" height="36.17" fill="#ffffff"/><rect x="923.9" y="2139.4" width="47.17" height="36.17" fill="#ffffff"/><rect x="971.1" y="2139.4" width="47.17" height="36.17" fill="#fff2ed"/><rect x="1018.3" y="2139.4" width="47.17" height="36.17" fill="#ffffff"/><rect x="1065.5" y="2139.4" width="47.17" height="36.17" fill="#ffd8ca"/><rect x="1112.6" y="2139.4" width="47.17" height="36.17" fill="#ffffff"/><rect x="829.6" y="2175.6" width="47.17" height="36.17" fill="#ffffff"/><rect x="876.8" y="2175.6" width="47.17" height="36.17" fill="#ffcab8"/><rect x="923.9" y="2175.6" width="47.17" height="36.17" fill="#ffe5db"/><rect x="971.1" y="2175.6" width="47.17" height="36.17" fill="#ffffff"/><rect x="1018.3" y="2175.6" width="47.17" height="36.17" fill="#ffcab8"/><rect x="1065.5" y="2175.6" width="47.17" height="36.17" fill="#fff2ed"/><rect x="1112.6" y="2175.6" width="47.17" height="36.17" fill="#ffffff"/><rect x="829.6" y="2211.7" width="47.17" height="36.17" fill="#fff2ed"/><rect x="876.8" y="2211.7" width="47.17" height="36.17" fill="#fff2ed"/><rect x="923.9" y="2211.7" width="47.17" height="36.17" fill="#ffcab8"/><rect x="971.1" y="2211.7" width="47.17" height="36.17" fill="#ffd8ca"/><rect x="1018.3" y="2211.7" width="47.17" height="36.17" fill="#ffcab8"/><rect x="1065.5" y="2211.7" width="47.17" height="36.17" fill="#ffe5db"/><rect x="1112.6" y="2211.7" width="47.17" height="36.17" fill="#ffe5db"/><rect x="829.6" y="2247.9" width="47.17" height="36.17" fill="#fff2ed"/><rect x="876.8" y="2247.9" width="47.17" height="36.17" fill="#fff2ed"/><rect x="923.9" y="2247.9" width="47.17" height="36.17" fill="#ffcab8"/><rect x="971.1" y="2247.9" width="47.17" height="36.17" fill="#ffe5db"/><rect x="1018.3" y="2247.9" width="47.17" height="36.17" fill="#ffe5db"/><rect x="1065.5" y="2247.9" width="47.17" height="36.17" fill="#ffe5db"/><rect x="1112.6" y="2247.9" width="47.17" height="36.17" fill="#ffffff"/><rect x="829.6" y="2284.1" width="47.17" height="36.17" fill="#fff2ed"/><rect x="876.8" y="2284.1" width="47.17" height="36.17" fill="#fff2ed"/><rect x="923.9" y="2284.1" width="47.17" height="36.17" fill="#ffffff"/><rect x="971.1" y="2284.1" width="47.17" height="36.17" fill="#ffe5db"/><rect x="1018.3" y="2284.1" width="47.17" height="36.17" fill="#ffe5db"/><rect x="1065.5" y="2284.1" width="47.17" height="36.17" fill="#fff2ed"/><rect x="1112.6" y="2284.1" width="47.17" height="36.17" fill="#ffd8ca"/><rect x="829.6" y="2320.3" width="47.17" height="36.17" fill="#ffcab8"/><rect x="876.8" y="2320.3" width="47.17" height="36.17" fill="#fff2ed"/><rect x="923.9" y="2320.3" width="47.17" height="36.17" fill="#ffbda7"/><rect x="971.1" y="2320.3" width="47.17" height="36.17" fill="#ffcab8"/><rect x="1018.3" y="2320.3" width="47.17" height="36.17" fill="#ffcab8"/><rect x="1065.5" y="2320.3" width="47.17" height="36.17" fill="#ffbda7"/><rect x="1112.6" y="2320.3" width="47.17" height="36.17" fill="#ffd8ca"/><rect x="829.6" y="2356.4" width="47.17" height="36.17" fill="#ffd8ca"/><rect x="876.8" y="2356.4" width="47.17" height="36.17" fill="#ffffff"/><rect x="923.9" y="2356.4" width="47.17" height="36.17" fill="#ffffff"/><rect x="971.1" y="2356.4" width="47.17" height="36.17" fill="#ffe5db"/><rect x="1018.3" y="2356.4" width="47.17" height="36.17" fill="#ffbda7"/><rect x="1065.5" y="2356.4" width="47.17" height="36.17" fill="#ffe5db"/><rect x="1112.6" y="2356.4" width="47.17" height="36.17" fill="#ffbda7"/>
<path d="M829.62 1524.51H1159.78M829.62 1560.68H1159.78M829.62 1596.85H1159.78M829.62 1633.02H1159.78M829.62 1669.19H1159.78M829.62 1705.36H1159.78M829.62 1741.53H1159.78M829.62 1777.70H1159.78M829.62 1813.88H1159.78M829.62 1850.04H1159.78M829.62 1886.21H1159.78M829.62 1922.38H1159.78M829.62 1958.55H1159.78M829.62 1994.72H1159.78M829.62 2030.89H1159.78M829.62 2067.07H1159.78M829.62 2103.23H1159.78M829.62 2139.40H1159.78M829.62 2175.57H1159.78M829.62 2211.74H1159.78M829.62 2247.91H1159.78M829.62 2284.09H1159.78M829.62 2320.26H1159.78M829.62 2356.43H1159.78M829.62 2392.59H1159.78M829.62 1524.51V2392.59M876.78 1524.51V2392.59M923.95 1524.51V2392.59M971.12 1524.51V2392.59M1018.28 1524.51V2392.59M1065.45 1524.51V2392.59M1112.62 1524.51V2392.59M1159.78 1524.51V2392.59" stroke="#000" stroke-width="1.3" fill="none" stroke-opacity="0.6"/>
<g font-size="14.8" text-anchor="middle"><text x="853.2" y="1548.8">0</text><text x="900.4" y="1548.8">0</text><text x="947.5" y="1548.8">0</text><text x="994.7" y="1548.8">0</text><text x="1041.9" y="1548.8">0</text><text x="1089.0" y="1548.8">0</text><text x="1136.2" y="1548.8">0</text><text x="853.2" y="1585.0">0</text><text x="900.4" y="1585.0">0</text><text x="947.5" y="1585.0">0</text><text x="994.7" y="1585.0">0</text><text x="1041.9" y="1585.0">0</text><text x="1089.0" y="1585.0">0</text><text x="1136.2" y="1585.0">0</text><text x="853.2" y="1621.2">0</text><text x="900.4" y="1621.2">0</text><text x="947.5" y="1621.2">0</text><text x="994.7" y="1621.2">0</text><text x="1041.9" y="1621.2">0</text><text x="1089.0" y="1621.2">0</text><text x="1136.2" y="1621.2">0</text><text x="853.2" y="1657.3">0</text><text x="900.4" y="1657.3">0</text><text x="947.5" y="1657.3">0</text><text x="994.7" y="1657.3">0</text><text x="1041.9" y="1657.3">0</text><text x="1089.0" y="1657.3">0</text><text x="1136.2" y="1657.3">0</text><text x="853.2" y="1693.5">0</text><text x="900.4" y="1693.5">0</text><text x="947.5" y="1693.5">0</text><text x="994.7" y="1693.5">0</text><text x="1041.9" y="1693.5">0</text><text x="1089.0" y="1693.5">0</text><text x="1136.2" y="1693.5">0</text><text x="853.2" y="1729.7">0</text><text x="900.4" y="1729.7">0</text><text x="947.5" y="1729.7">0</text><text x="994.7" y="1729.7">0</text><text x="1041.9" y="1729.7">0</text><text x="1089.0" y="1729.7">0</text><text x="1136.2" y="1729.7">0</text><text x="853.2" y="1765.9">0</text><text x="900.4" y="1765.9">0</text><text x="947.5" y="1765.9">0</text><text x="994.7" y="1765.9">0</text><text x="1041.9" y="1765.9">0</text><text x="1089.0" y="1765.9">0</text><text x="1136.2" y="1765.9">0</text><text x="853.2" y="1802.0">0</text><text x="900.4" y="1802.0">0</text><text x="947.5" y="1802.0">0</text><text x="994.7" y="1802.0">0</text><text x="1041.9" y="1802.0">0</text><text x="1089.0" y="1802.0">0</text><text x="1136.2" y="1802.0">0</text><text x="853.2" y="1838.2">0</text><text x="900.4" y="1838.2">0</text><text x="947.5" y="1838.2">0</text><text x="994.7" y="1838.2">0.01</text><text x="1041.9" y="1838.2">0</text><text x="1089.0" y="1838.2">0</text><text x="1136.2" y="1838.2">0</text><text x="853.2" y="1874.4">0</text><text x="900.4" y="1874.4">0</text><text x="947.5" y="1874.4">0</text><text x="994.7" y="1874.4">0</text><text x="1041.9" y="1874.4">0.01</text><text x="1089.0" y="1874.4">0</text><text x="1136.2" y="1874.4">0</text><text x="853.2" y="1910.5">0</text><text x="900.4" y="1910.5">0</text><text x="947.5" y="1910.5">0</text><text x="994.7" y="1910.5">0</text><text x="1041.9" y="1910.5">0</text><text x="1089.0" y="1910.5">0</text><text x="1136.2" y="1910.5">0</text><text x="853.2" y="1946.7">0</text><text x="900.4" y="1946.7">0</text><text x="947.5" y="1946.7">0</text><text x="994.7" y="1946.7">0</text><text x="1041.9" y="1946.7">0</text><text x="1089.0" y="1946.7">0</text><text x="1136.2" y="1946.7">0</text><text x="853.2" y="1982.9">0</text><text x="900.4" y="1982.9">0</text><text x="947.5" y="1982.9">0</text><text x="994.7" y="1982.9">0</text><text x="1041.9" y="1982.9">0</text><text x="1089.0" y="1982.9">0</text><text x="1136.2" y="1982.9">0</text><text x="853.2" y="2019.0">0</text><text x="900.4" y="2019.0">0</text><text x="947.5" y="2019.0">0</text><text x="994.7" y="2019.0">0</text><text x="1041.9" y="2019.0">0</text><text x="1089.0" y="2019.0">0</text><text x="1136.2" y="2019.0">0</text><text x="853.2" y="2055.2">0</text><text x="900.4" y="2055.2">0</text><text x="947.5" y="2055.2">0</text><text x="994.7" y="2055.2">0</text><text x="1041.9" y="2055.2">0</text><text x="1089.0" y="2055.2">0</text><text x="1136.2" y="2055.2">0</text><text x="853.2" y="2091.4">0</text><text x="900.4" y="2091.4">0</text><text x="947.5" y="2091.4">0</text><text x="994.7" y="2091.4">0</text><text x="1041.9" y="2091.4">0</text><text x="1089.0" y="2091.4">0</text><text x="1136.2" y="2091.4">0</text><text x="853.2" y="2127.6">0</text><text x="900.4" y="2127.6">0</text><text x="947.5" y="2127.6">0</text><text x="994.7" y="2127.6">0</text><text x="1041.9" y="2127.6">0</text><text x="1089.0" y="2127.6">0</text><text x="1136.2" y="2127.6">0</text><text x="853.2" y="2163.7">0</text><text x="900.4" y="2163.7">0</text><text x="947.5" y="2163.7">0</text><text x="994.7" y="2163.7">0</text><text x="1041.9" y="2163.7">0</text><text x="1089.0" y="2163.7">0</text><text x="1136.2" y="2163.7">0</text><text x="853.2" y="2199.9">0</text><text x="900.4" y="2199.9">0</text><text x="947.5" y="2199.9">0</text><text x="994.7" y="2199.9">0</text><text x="1041.9" y="2199.9">0</text><text x="1089.0" y="2199.9">0</text><text x="1136.2" y="2199.9">0</text><text x="853.2" y="2236.1">0</text><text x="900.4" y="2236.1">0</text><text x="947.5" y="2236.1">0</text><text x="994.7" y="2236.1">0</text><text x="1041.9" y="2236.1">0</text><text x="1089.0" y="2236.1">0</text><text x="1136.2" y="2236.1">0</text><text x="853.2" y="2272.2">0</text><text x="900.4" y="2272.2">0</text><text x="947.5" y="2272.2">0</text><text x="994.7" y="2272.2">0</text><text x="1041.9" y="2272.2">0</text><text x="1089.0" y="2272.2">0</text><text x="1136.2" y="2272.2">0</text><text x="853.2" y="2308.4">0</text><text x="900.4" y="2308.4">0</text><text x="947.5" y="2308.4">0</text><text x="994.7" y="2308.4">0</text><text x="1041.9" y="2308.4">0</text><text x="1089.0" y="2308.4">0</text><text x="1136.2" y="2308.4">0</text><text x="853.2" y="2344.6">0</text><text x="900.4" y="2344.6">0</text><text x="947.5" y="2344.6">0</text><text x="994.7" y="2344.6">0</text><text x="1041.9" y="2344.6">0</text><text x="1089.0" y="2344.6">0</text><text x="1136.2" y="2344.6">0</text><text x="853.2" y="2380.7">0</text><text x="900.4" y="2380.7">0</text><text x="947.5" y="2380.7">0</text><text x="994.7" y="2380.7">0</text><text x="1041.9" y="2380.7">0</text><text x="1089.0" y="2380.7">0</text><text x="1136.2" y="2380.7">0</text></g>
<rect x="825.60" y="1520.90" width="338.20" height="874.61" fill="none" stroke="#000" stroke-width="1.4"/>
<path d="M853.20 2396.21V2405.41M900.37 2396.21V2405.41M947.53 2396.21V2405.41M994.70 2396.21V2405.41M1041.87 2396.21V2405.41M1089.03 2396.21V2405.41M1136.20 2396.21V2405.41" stroke="#000" stroke-width="1.4" fill="none"/>
<text font-size="27" text-anchor="middle" transform="translate(858.70,2480.00) rotate(-45)">Sunday</text>
<text font-size="27" text-anchor="middle" transform="translate(905.87,2480.00) rotate(-45)">Monday</text>
<text font-size="27" text-anchor="middle" transform="translate(953.03,2480.00) rotate(-45)">Tuesday</text>
<text font-size="27" text-anchor="middle" transform="translate(1000.20,2480.00) rotate(-45)">Wednesday</text>
<text font-size="27" text-anchor="middle" transform="translate(1047.37,2480.00) rotate(-45)">Thursday</text>
<text font-size="27" text-anchor="middle" transform="translate(1094.53,2480.00) rotate(-45)">Friday</text>
<text font-size="27" text-anchor="middle" transform="translate(1141.70,2480.00) rotate(-45)">Saturday</text>
<rect x="1181.90" y="1467.00" width="339.60" height="53.90" fill="#000"/>
<text x="1351.7" y="1504.2" font-size="27" text-anchor="middle" fill="#fff">Queens</text>
<rect x="1181.90" y="1520.90" width="339.60" height="875.31" fill="#fff"/>
<path d="M1181.90 1542.60H1521.50M1181.90 1578.77H1521.50M1181.90 1614.94H1521.50M1181.90 1651.11H1521.50M1181.90 1687.28H1521.50M1181.90 1723.45H1521.50M1181.90 1759.62H1521.50M1181.90 1795.79H1521.50M1181.90 1831.96H1521.50M1181.90 1868.13H1521.50M1181.90 1904.30H1521.50M1181.90 1940.47H1521.50M1181.90 1976.64H1521.50M1181.90 2012.81H1521.50M1181.90 2048.98H1521.50M1181.90 2085.15H1521.50M1181.90 2121.32H1521.50M1181.90 2157.49H1521.50M1181.90 2193.66H1521.50M1181.90 2229.83H1521.50M1181.90 2266.00H1521.50M1181.90 2302.17H1521.50M1181.90 2338.34H1521.50M1181.90 2374.51H1521.50M1210.20 1520.90V2396.21M1257.37 1520.90V2396.21M1304.53 1520.90V2396.21M1351.70 1520.90V2396.21M1398.87 1520.90V2396.21M1446.03 1520.90V2396.21M1493.20 1520.90V2396.21" stroke="#cfcfcf" stroke-width="1" fill="none"/>
<rect x="1186.6" y="1524.5" width="47.17" height="36.17" fill="#ffe3d9"/><rect x="1233.8" y="1524.5" width="47.17" height="36.17" fill="#ffede6"/><rect x="1281.0" y="1524.5" width="47.17" height="36.17" fill="#ffffff"/><rect x="1328.1" y="1524.5" width="47.17" height="36.17" fill="#ffd1c1"/><rect x="1375.3" y="1524.5" width="47.17" height="36.17" fill="#ffe3d9"/><rect x="1422.5" y="1524.5" width="47.17" height="36.17" fill="#fff6f2"/><rect x="1469.6" y="1524.5" width="47.17" height="36.17" fill="#ffe3d9"/><rect x="1186.6" y="1560.7" width="47.17" height="36.17" fill="#ffede6"/><rect x="1233.8" y="1560.7" width="47.17" height="36.17" fill="#ffffff"/><rect x="1281.0" y="1560.7" width="47.17" height="36.17" fill="#ffede6"/><rect x="1328.1" y="1560.7" width="47.17" height="36.17" fill="#ffdacd"/><rect x="1375.3" y="1560.7" width="47.17" height="36.17" fill="#ffede6"/><rect x="1422.5" y="1560.7" width="47.17" height="36.17" fill="#ffe3d9"/><rect x="1469.6" y="1560.7" width="47.17" height="36.17" fill="#ffede6"/><rect x="1186.6" y="1596.9" width="47.17" height="36.17" fill="#ffede6"/><rect x="1233.8" y="1596.9" width="47.17" height="36.17" fill="#ffe3d9"/><rect x="1281.0" y="1596.9" width="47.17" height="36.17" fill="#ffe3d9"/><rect x="1328.1" y="1596.9" width="47.17" height="36.17" fill="#fff6f2"/><rect x="1375.3" y="1596.9" width="47.17" height="36.17" fill="#ffc7b5"/><rect x="1422.5" y="1596.9" width="47.17" height="36.17" fill="#ffd1c1"/><rect x="1469.6" y="1596.9" width="47.17" height="36.17" fill="#ffdacd"/><rect x="1186.6" y="1633.0" width="47.17" height="36.17" fill="#ffede6"/><rect x="1233.8" y="1633.0" width="47.17" height="36.17" fill="#fff6f2"/><rect x="1281.0" y="1633.0" width="47.17" height="36.17" fill="#ffede6"/><rect x="1328.1" y="1633.0" width="47.17" height="36.17" fill="#ffd1c1"/><rect x="1375.3" y="1633.0" width="47.17" height="36.17" fill="#ffffff"/><rect x="1422.5" y="1633.0" width="47.17" height="36.17" fill="#ffffff"/><rect x="1469.6" y="1633.0" width="47.17" height="36.17" fill="#ffede6"/><rect x="1186.6" y="1669.2" width="47.17" height="36.17" fill="#ffffff"/><rect x="1233.8" y="1669.2" width="47.17" height="36.17" fill="#ffdacd"/><rect x="1281.0" y="1669.2" width="47.17" height="36.17" fill="#ffede6"/><rect x="1328.1" y="1669.2" width="47.17" height="36.17" fill="#ffede6"/><rect x="1375.3" y="1669.2" width="47.17" height="36.17" fill="#ffede6"/><rect x="1422.5" y="1669.2" width="47.17" height="36.17" fill="#ffe3d9"/><rect x="1469.6" y="1669.2" width="47.17" height="36.17" fill="#ffffff"/><rect x="1186.6" y="1705.4" width="47.17" height="36.17" fill="#ffd1c1"/><rect x="1233.8" y="1705.4" width="47.17" height="36.17" fill="#ffe3d9"/><rect x="1281.0" y="1705.4" width="47.17" height="36.17" fill="#ffd1c1"/><rect x="1328.1" y="1705.4" width="47.17" height="36.17" fill="#ffede6"/><rect x="1375.3" y="1705.4" width="47.17" height="36.17" fill="#ffe3d9"/><rect x="1422.5" y="1705.4" width="47.17" height="36.17" fill="#ffe3d9"/><rect x="1469.6" y="1705.4" width="47.17" height="36.17" fill="#fff6f2"/><rect x="1186.6" y="1741.5" width="47.17" height="36.17" fill="#ffede6"/><rect x="1233.8" y="1741.5" width="47.17" height="36.17" fill="#ffede6"/><rect x="1281.0" y="1741.5" width="47.17" height="36.17" fill="#ffffff"/><rect x="1328.1" y="1741.5" width="47.17" height="36.17" fill="#ffede6"/><rect x="1375.3" y="1741.5" width="47.17" height="36.17" fill="#ffffff"/><rect x="1422.5" y="1741.5" width="47.17" height="36.17" fill="#fff6f2"/><rect x="1469.6" y="1741.5" width="47.17" height="36.17" fill="#ffd1c1"/><rect x="1186.6" y="1777.7" width="47.17" height="36.17" fill="#ffe3d9"/><rect x="1233.8" y="1777.7" width="47.17" height="36.17" fill="#ffd1c1"/><rect x="1281.0" y="1777.7" width="47.17" height="36.17" fill="#ffede6"/><rect x="1328.1" y="1777.7" width="47.17" height="36.17" fill="#ffe3d9"/><rect x="1375.3" y="1777.7" width="47.17" height="36.17" fill="#ffede6"/><rect x="1422.5" y="1777.7" width="47.17" height="36.17" fill="#ffdacd"/><rect x="1469.6" y="1777.7" width="47.17" height="36.17" fill="#fff6f2"/><rect x="1186.6" y="1813.9" width="47.17" height="36.17" fill="#ffede6"/><rect x="1233.8" y="1813.9" width="47.17" height="36.17" fill="#ffe3d9"/><rect x="1281.0" y="1813.9" width="47.17" height="36.17" fill="#ffdacd"/><rect x="1328.1" y="1813.9" width="47.17" height="36.17" fill="#ffdacd"/><rect x="1375.3" y="1813.9" width="47.17" height="36.17" fill="#ffe3d9"/><rect x="1422.5" y="1813.9" width="47.17" height="36.17" fill="#ffede6"/><rect x="1469.6" y="1813.9" width="47.17" height="36.17" fill="#ffdacd"/><rect x="1186.6" y="1850.0" width="47.17" height="36.17" fill="#ffede6"/><rect x="1233.8" y="1850.0" width="47.17" height="36.17" fill="#ffd1c1"/><rect x="1281.0" y="1850.0" width="47.17" height="36.17" fill="#ffede6"/><rect x="1328.1" y="1850.0" width="47.17" height="36.17" fill="#ffede6"/><rect x="1375.3" y="1850.0" width="47.17" height="36.17" fill="#ffe3d9"/><rect x="1422.5" y="1850.0" width="47.17" height="36.17" fill="#ffe3d9"/><rect x="1469.6" y="1850.0" width="47.17" height="36.17" fill="#ffd1c1"/><rect x="1186.6" y="1886.2" width="47.17" height="36.17" fill="#ffffff"/><rect x="1233.8" y="1886.2" width="47.17" height="36.17" fill="#ffede6"/><rect x="1281.0" y="1886.2" width="47.17" height="36.17" fill="#ffe3d9"/><rect x="1328.1" y="1886.2" width="47.17" height="36.17" fill="#ffe3d9"/><rect x="1375.3" y="1886.2" width="47.17" height="36.17" fill="#ffe3d9"/><rect x="1422.5" y="1886.2" width="47.17" height="36.17" fill="#ffede6"/><rect x="1469.6" y="1886.2" width="47.17" height="36.17" fill="#ffede6"/><rect x="1186.6" y="1922.4" width="47.17" height="36.17" fill="#fff6f2"/><rect x="1233.8" y="1922.4" width="47.17" height="36.17" fill="#fff6f2"/><rect x="1281.0" y="1922.4" width="47.17" height="36.17" fill="#ffc7b5"/><rect x="1328.1" y="1922.4" width="47.17" height="36.17" fill="#ffede6"/><rect x="1375.3" y="1922.4" width="47.17" height="36.17" fill="#ffd1c1"/><rect x="1422.5" y="1922.4" width="47.17" height="36.17" fill="#ffc7b5"/><rect x="1469.6" y="1922.4" width="47.17" height="36.17" fill="#ffdacd"/><rect x="1186.6" y="1958.6" width="47.17" height="36.17" fill="#ffdacd"/><rect x="1233.8" y="1958.6" width="47.17" height="36.17" fill="#ffd1c1"/><rect x="1281.0" y="1958.6" width="47.17" height="36.17" fill="#ffc7b5"/><rect x="1328.1" y="1958.6" width="47.17" height="36.17" fill="#ffe3d9"/><rect x="1375.3" y="1958.6" width="47.17" height="36.17" fill="#ffe3d9"/><rect x="1422.5" y="1958.6" width="47.17" height="36.17" fill="#ffdacd"/><rect x="1469.6" y="1958.6" width="47.17" height="36.17" fill="#ffdacd"/><rect x="1186.6" y="1994.7" width="47.17" height="36.17" fill="#ffe3d9"/><rect x="1233.8" y="1994.7" width="47.17" height="36.17" fill="#ffdacd"/><rect x="1281.0" y="1994.7" width="47.17" height="36.17" fill="#ffdacd"/><rect x="1328.1" y="1994.7" width="47.17" height="36.17" fill="#ffede6"/><rect x="1375.3" y="1994.7" width="47.17" height="36.17" fill="#ffffff"/><rect x="1422.5" y="1994.7" width="47.17" height="36.17" fill="#ffe3d9"/><rect x="1469.6" y="1994.7" width="47.17" height="36.17" fill="#ffdacd"/><rect x="1186.6" y="2030.9" width="47.17" height="36.17" fill="#ffede6"/><rect x="1233.8" y="2030.9" width="47.17" height="36.17" fill="#ffdacd"/><rect x="1281.0" y="2030.9" width="47.17" height="36.17" fill="#ffe3d9"/><rect x="1328.1" y="2030.9" width="47.17" height="36.17" fill="#ffe3d9"/><rect x="1375.3" y="2030.9" width="47.17" height="36.17" fill="#ffede6"/><rect x="1422.5" y="2030.9" width="47.17" height="36.17" fill="#ffede6"/><rect x="1469.6" y="2030.9" width="47.17" height="36.17" fill="#ffede6"/><rect x="1186.6" y="2067.1" width="47.17" height="36.17" fill="#ffede6"/><rect x="1233.8" y="2067.1" width="47.17" height="36.17" fill="#ffdacd"/><rect x="1281.0" y="2067.1" width="47.17" height="36.17" fill="#fff6f2"/><rect x="1328.1" y="2067.1" width="47.17" height="36.17" fill="#fff6f2"/><rect x="1375.3" y="2067.1" width="47.17" height="36.17" fill="#ffdacd"/><rect x="1422.5" y="2067.1" width="47.17" height="36.17" fill="#fff6f2"/><rect x="1469.6" y="2067.1" width="47.17" height="36.17" fill="#ffe3d9"/><rect x="1186.6" y="2103.2" width="47.17" height="36.17" fill="#fff6f2"/><rect x="1233.8" y="2103.2" width="47.17" height="36.17" fill="#ffede6"/><rect x="1281.0" y="2103.2" width="47.17" height="36.17" fill="#fff6f2"/><rect x="1328.1" y="2103.2" width="47.17" height="36.17" fill="#ffe3d9"/><rect x="1375.3" y="2103.2" width="47.17" height="36.17" fill="#ffe3d9"/><rect x="1422.5" y="2103.2" width="47.17" height="36.17" fill="#ffede6"/><rect x="1469.6" y="2103.2" width="47.17" height="36.17" fill="#fff6f2"/><rect x="1186.6" y="2139.4" width="47.17" height="36.17" fill="#fff6f2"/><rect x="1233.8" y="2139.4" width="47.17" height="36.17" fill="#ffffff"/><rect x="1281.0" y="2139.4" width="47.17" height="36.17" fill="#ffffff"/><rect x="1328.1" y="2139.4" width="47.17" height="36.17" fill="#fff6f2"/><rect x="1375.3" y="2139.4" width="47.17" height="36.17" fill="#ffdacd"/><rect x="1422.5" y="2139.4" width="47.17" height="36.17" fill="#fff6f2"/><rect x="1469.6" y="2139.4" width="47.17" height="36.17" fill="#fff6f2"/><rect x="1186.6" y="2175.6" width="47.17" height="36.17" fill="#ffffff"/><rect x="1233.8" y="2175.6" width="47.17" height="36.17" fill="#ffffff"/><rect x="1281.0" y="2175.6" width="47.17" height="36.17" fill="#ffede6"/><rect x="1328.1" y="2175.6" width="47.17" height="36.17" fill="#fff6f2"/><rect x="1375.3" y="2175.6" width="47.17" height="36.17" fill="#fff6f2"/><rect x="1422.5" y="2175.6" width="47.17" height="36.17" fill="#ffede6"/><rect x="1469.6" y="2175.6" width="47.17" height="36.17" fill="#ffe3d9"/><rect x="1186.6" y="2211.7" width="47.17" height="36.17" fill="#ffffff"/><rect x="1233.8" y="2211.7" width="47.17" height="36.17" fill="#ffede6"/><rect x="1281.0" y="2211.7" width="47.17" height="36.17" fill="#ffede6"/><rect x="1328.1" y="2211.7" width="47.17" height="36.17" fill="#fff6f2"/><rect x="1375.3" y="2211.7" width="47.17" height="36.17" fill="#fff6f2"/><rect x="1422.5" y="2211.7" width="47.17" height="36.17" fill="#fff6f2"/><rect x="1469.6" y="2211.7" width="47.17" height="36.17" fill="#fff6f2"/><rect x="1186.6" y="2247.9" width="47.17" height="36.17" fill="#ffede6"/><rect x="1233.8" y="2247.9" width="47.17" height="36.17" fill="#ffede6"/><rect x="1281.0" y="2247.9" width="47.17" height="36.17" fill="#fff6f2"/><rect x="1328.1" y="2247.9" width="47.17" height="36.17" fill="#ffffff"/><rect x="1375.3" y="2247.9" width="47.17" height="36.17" fill="#fff6f2"/><rect x="1422.5" y="2247.9" width="47.17" height="36.17" fill="#ffffff"/><rect x="1469.6" y="2247.9" width="47.17" height="36.17" fill="#ffffff"/><rect x="1186.6" y="2284.1" width="47.17" height="36.17" fill="#fff6f2"/><rect x="1233.8" y="2284.1" width="47.17" height="36.17" fill="#ffede6"/><rect x="1281.0" y="2284.1" width="47.17" height="36.17" fill="#ffffff"/><rect x="1328.1" y="2284.1" width="47.17" height="36.17" fill="#fff6f2"/><rect x="1375.3" y="2284.1" width="47.17" height="36.17" fill="#ffdacd"/><rect x="1422.5" y="2284.1" width="47.17" height="36.17" fill="#ffede6"/><rect x="1469.6" y="2284.1" width="47.17" height="36.17" fill="#fff6f2"/><rect x="1186.6" y="2320.3" width="47.17" height="36.17" fill="#fff6f2"/><rect x="1233.8" y="2320.3" width="47.17" height="36.17" fill="#fff6f2"/><rect x="1281.0" y="2320.3" width="47.17" height="36.17" fill="#ffede6"/><rect x="1328.1" y="2320.3" width="47.17" height="36.17" fill="#fff6f2"/><rect x="1375.3" y="2320.3" width="47.17" height="36.17" fill="#fff6f2"/><rect x="1422.5" y="2320.3" width="47.17" height="36.17" fill="#fff6f2"/><rect x="1469.6" y="2320.3" width="47.17" height="36.17" fill="#ffede6"/><rect x="1186.6" y="2356.4" width="47.17" height="36.17" fill="#ffede6"/><rect x="1233.8" y="2356.4" width="47.17" height="36.17" fill="#fff6f2"/><rect x="1281.0" y="2356.4" width="47.17" height="36.17" fill="#fff6f2"/><rect x="1328.1" y="2356.4" width="47.17" height="36.17" fill="#ffe3d9"/><rect x="1375.3" y="2356.4" width="47.17" height="36.17" fill="#ffede6"/><rect x="1422.5" y="2356.4" width="47.17" height="36.17" fill="#ffe3d9"/><rect x="1469.6" y="2356.4" width="47.17" height="36.17" fill="#ffede6"/>
<path d="M1186.62 1524.51H1516.78M1186.62 1560.68H1516.78M1186.62 1596.85H1516.78M1186.62 1633.02H1516.78M1186.62 1669.19H1516.78M1186.62 1705.36H1516.78M1186.62 1741.53H1516.78M1186.62 1777.70H1516.78M1186.62 1813.88H1516.78M1186.62 1850.04H1516.78M1186.62 1886.21H1516.78M1186.62 1922.38H1516.78M1186.62 1958.55H1516.78M1186.62 1994.72H1516.78M1186.62 2030.89H1516.78M1186.62 2067.07H1516.78M1186.62 2103.23H1516.78M1186.62 2139.40H1516.78M1186.62 2175.57H1516.78M1186.62 2211.74H1516.78M1186.62 2247.91H1516.78M1186.62 2284.09H1516.78M1186.62 2320.26H1516.78M1186.62 2356.43H1516.78M1186.62 2392.59H1516.78M1186.62 1524.51V2392.59M1233.78 1524.51V2392.59M1280.95 1524.51V2392.59M1328.12 1524.51V2392.59M1375.28 1524.51V2392.59M1422.45 1524.51V2392.59M1469.62 1524.51V2392.59M1516.78 1524.51V2392.59" stroke="#000" stroke-width="1.3" fill="none" stroke-opacity="0.6"/>
<g font-size="14.8" text-anchor="middle"><text x="1210.2" y="1548.8">0</text><text x="1257.4" y="1548.8">0</text><text x="1304.5" y="1548.8">0</text><text x="1351.7" y="1548.8">0</text><text x="1398.9" y="1548.8">0</text><text x="1446.0" y="1548.8">0</text><text x="1493.2" y="1548.8">0</text><text x="1210.2" y="1585.0">0</text><text x="1257.4" y="1585.0">0</text><text x="1304.5" y="1585.0">0</text><text x="1351.7" y="1585.0">0</text><text x="1398.9" y="1585.0">0</text><text x="1446.0" y="1585.0">0</text><text x="1493.2" y="1585.0">0</text><text x="1210.2" y="1621.2">0</text><text x="1257.4" y="1621.2">0</text><text x="1304.5" y="1621.2">0</text><text x="1351.7" y="1621.2">0</text><text x="1398.9" y="1621.2">0</text><text x="1446.0" y="1621.2">0</text><text x="1493.2" y="1621.2">0</text><text x="1210.2" y="1657.3">0</text><text x="1257.4" y="1657.3">0</text><text x="1304.5" y="1657.3">0</text><text x="1351.7" y="1657.3">0</text><text x="1398.9" y="1657.3">0</text><text x="1446.0" y="1657.3">0</text><text x="1493.2" y="1657.3">0</text><text x="1210.2" y="1693.5">0</text><text x="1257.4" y="1693.5">0</text><text x="1304.5" y="1693.5">0</text><text x="1351.7" y="1693.5">0</text><text x="1398.9" y="1693.5">0</text><text x="1446.0" y="1693.5">0</text><text x="1493.2" y="1693.5">0</text><text x="1210.2" y="1729.7">0</text><text x="1257.4" y="1729.7">0</text><text x="1304.5" y="1729.7">0</text><text x="1351.7" y="1729.7">0</text><text x="1398.9" y="1729.7">0</text><text x="1446.0" y="1729.7">0</text><text x="1493.2" y="1729.7">0</text><text x="1210.2" y="1765.9">0</text><text x="1257.4" y="1765.9">0</text><text x="1304.5" y="1765.9">0</text><text x="1351.7" y="1765.9">0</text><text x="1398.9" y="1765.9">0</text><text x="1446.0" y="1765.9">0</text><text x="1493.2" y="1765.9">0</text><text x="1210.2" y="1802.0">0</text><text x="1257.4" y="1802.0">0</text><text x="1304.5" y="1802.0">0</text><text x="1351.7" y="1802.0">0</text><text x="1398.9" y="1802.0">0</text><text x="1446.0" y="1802.0">0</text><text x="1493.2" y="1802.0">0</text><text x="1210.2" y="1838.2">0</text><text x="1257.4" y="1838.2">0</text><text x="1304.5" y="1838.2">0</text><text x="1351.7" y="1838.2">0</text><text x="1398.9" y="1838.2">0</text><text x="1446.0" y="1838.2">0</text><text x="1493.2" y="1838.2">0</text><text x="1210.2" y="1874.4">0</text><text x="1257.4" y="1874.4">0</text><text x="1304.5" y="1874.4">0</text><text x="1351.7" y="1874.4">0</text><text x="1398.9" y="1874.4">0</text><text x="1446.0" y="1874.4">0</text><text x="1493.2" y="1874.4">0</text><text x="1210.2" y="1910.5">0</text><text x="1257.4" y="1910.5">0</text><text x="1304.5" y="1910.5">0</text><text x="1351.7" y="1910.5">0</text><text x="1398.9" y="1910.5">0</text><text x="1446.0" y="1910.5">0</text><text x="1493.2" y="1910.5">0</text><text x="1210.2" y="1946.7">0</text><text x="1257.4" y="1946.7">0</text><text x="1304.5" y="1946.7">0</text><text x="1351.7" y="1946.7">0</text><text x="1398.9" y="1946.7">0</text><text x="1446.0" y="1946.7">0</text><text x="1493.2" y="1946.7">0</text><text x="1210.2" y="1982.9">0</text><text x="1257.4" y="1982.9">0</text><text x="1304.5" y="1982.9">0</text><text x="1351.7" y="1982.9">0</text><text x="1398.9" y="1982.9">0</text><text x="1446.0" y="1982.9">0</text><text x="1493.2" y="1982.9">0</text><text x="1210.2" y="2019.0">0</text><text x="1257.4" y="2019.0">0</text><text x="1304.5" y="2019.0">0</text><text x="1351.7" y="2019.0">0</text><text x="1398.9" y="2019.0">0</text><text x="1446.0" y="2019.0">0</text><text x="1493.2" y="2019.0">0</text><text x="1210.2" y="2055.2">0</text><text x="1257.4" y="2055.2">0</text><text x="1304.5" y="2055.2">0</text><text x="1351.7" y="2055.2">0</text><text x="1398.9" y="2055.2">0</text><text x="1446.0" y="2055.2">0</text><text x="1493.2" y="2055.2">0</text><text x="1210.2" y="2091.4">0</text><text x="1257.4" y="2091.4">0</text><text x="1304.5" y="2091.4">0</text><text x="1351.7" y="2091.4">0</text><text x="1398.9" y="2091.4">0</text><text x="1446.0" y="2091.4">0</text><text x="1493.2" y="2091.4">0</text><text x="1210.2" y="2127.6">0</text><text x="1257.4" y="2127.6">0</text><text x="1304.5" y="2127.6">0</text><text x="1351.7" y="2127.6">0</text><text x="1398.9" y="2127.6">0</text><text x="1446.0" y="2127.6">0</text><text x="1493.2" y="2127.6">0</text><text x="1210.2" y="2163.7">0</text><text x="1257.4" y="2163.7">0</text><text x="1304.5" y="2163.7">0</text><text x="1351.7" y="2163.7">0</text><text x="1398.9" y="2163.7">0</text><text x="1446.0" y="2163.7">0</text><text x="1493.2" y="2163.7">0</text><text x="1210.2" y="2199.9">0</text><text x="1257.4" y="2199.9">0</text><text x="1304.5" y="2199.9">0</text><text x="1351.7" y="2199.9">0</text><text x="1398.9" y="2199.9">0</text><text x="1446.0" y="2199.9">0</text><text x="1493.2" y="2199.9">0</text><text x="1210.2" y="2236.1">0</text><text x="1257.4" y="2236.1">0</text><text x="1304.5" y="2236.1">0</text><text x="1351.7" y="2236.1">0</text><text x="1398.9" y="2236.1">0</text><text x="1446.0" y="2236.1">0</text><text x="1493.2" y="2236.1">0</text><text x="1210.2" y="2272.2">0</text><text x="1257.4" y="2272.2">0</text><text x="1304.5" y="2272.2">0</text><text x="1351.7" y="2272.2">0</text><text x="1398.9" y="2272.2">0</text><text x="1446.0" y="2272.2">0</text><text x="1493.2" y="2272.2">0</text><text x="1210.2" y="2308.4">0</text><text x="1257.4" y="2308.4">0</text><text x="1304.5" y="2308.4">0</text><text x="1351.7" y="2308.4">0</text><text x="1398.9" y="2308.4">0</text><text x="1446.0" y="2308.4">0</text><text x="1493.2" y="2308.4">0</text><text x="1210.2" y="2344.6">0</text><text x="1257.4" y="2344.6">0</text><text x="1304.5" y="2344.6">0</text><text x="1351.7" y="2344.6">0</text><text x="1398.9" y="2344.6">0</text><text x="1446.0" y="2344.6">0</text><text x="1493.2" y="2344.6">0</text><text x="1210.2" y="2380.7">0</text><text x="1257.4" y="2380.7">0</text><text x="1304.5" y="2380.7">0</text><text x="1351.7" y="2380.7">0</text><text x="1398.9" y="2380.7">0</text><text x="1446.0" y="2380.7">0</text><text x="1493.2" y="2380.7">0</text></g>
<rect x="1182.60" y="1520.90" width="338.20" height="874.61" fill="none" stroke="#000" stroke-width="1.4"/>
<path d="M1210.20 2396.21V2405.41M1257.37 2396.21V2405.41M1304.53 2396.21V2405.41M1351.70 2396.21V2405.41M1398.87 2396.21V2405.41M1446.03 2396.21V2405.41M1493.20 2396.21V2405.41" stroke="#000" stroke-width="1.4" fill="none"/>
<text font-size="27" text-anchor="middle" transform="translate(1215.70,2480.00) rotate(-45)">Sunday</text>
<text font-size="27" text-anchor="middle" transform="translate(1262.87,2480.00) rotate(-45)">Monday</text>
<text font-size="27" text-anchor="middle" transform="translate(1310.03,2480.00) rotate(-45)">Tuesday</text>
<text font-size="27" text-anchor="middle" transform="translate(1357.20,2480.00) rotate(-45)">Wednesday</text>
<text font-size="27" text-anchor="middle" transform="translate(1404.37,2480.00) rotate(-45)">Thursday</text>
<text font-size="27" text-anchor="middle" transform="translate(1451.53,2480.00) rotate(-45)">Friday</text>
<text font-size="27" text-anchor="middle" transform="translate(1498.70,2480.00) rotate(-45)">Saturday</text>
<rect x="1538.90" y="1467.00" width="339.60" height="53.90" fill="#000"/>
<text x="1708.7" y="1504.2" font-size="27" text-anchor="middle" fill="#fff">Staten Island</text>
<rect x="1538.90" y="1520.90" width="339.60" height="875.31" fill="#fff"/>
<path d="M1538.90 1542.60H1878.50M1538.90 1578.77H1878.50M1538.90 1614.94H1878.50M1538.90 1651.11H1878.50M1538.90 1687.28H1878.50M1538.90 1723.45H1878.50M1538.90 1759.62H1878.50M1538.90 1795.79H1878.50M1538.90 1831.96H1878.50M1538.90 1868.13H1878.50M1538.90 1904.30H1878.50M1538.90 1940.47H1878.50M1538.90 1976.64H1878.50M1538.90 2012.81H1878.50M1538.90 2048.98H1878.50M1538.90 2085.15H1878.50M1538.90 2121.32H1878.50M1538.90 2157.49H1878.50M1538.90 2193.66H1878.50M1538.90 2229.83H1878.50M1538.90 2266.00H1878.50M1538.90 2302.17H1878.50M1538.90 2338.34H1878.50M1538.90 2374.51H1878.50M1567.20 1520.90V2396.21M1614.37 1520.90V2396.21M1661.53 1520.90V2396.21M1708.70 1520.90V2396.21M1755.87 1520.90V2396.21M1803.03 1520.90V2396.21M1850.20 1520.90V2396.21" stroke="#cfcfcf" stroke-width="1" fill="none"/>
<rect x="1543.6" y="1524.5" width="47.17" height="36.17" fill="#ffd4c5"/><rect x="1590.8" y="1524.5" width="47.17" height="36.17" fill="#ffd4c5"/><rect x="1638.0" y="1524.5" width="47.17" height="36.17" fill="#ffffff"/><rect x="1685.1" y="1524.5" width="47.17" height="36.17" fill="#ffd4c5"/><rect x="1732.3" y="1524.5" width="47.17" height="36.17" fill="#ffd4c5"/><rect x="1779.5" y="1524.5" width="47.17" height="36.17" fill="#ffffff"/><rect x="1826.6" y="1524.5" width="47.17" height="36.17" fill="#ffffff"/><rect x="1543.6" y="1560.7" width="47.17" height="36.17" fill="#ffffff"/><rect x="1590.8" y="1560.7" width="47.17" height="36.17" fill="#ffffff"/><rect x="1638.0" y="1560.7" width="47.17" height="36.17" fill="#ffd4c5"/><rect x="1685.1" y="1560.7" width="47.17" height="36.17" fill="#ffffff"/><rect x="1732.3" y="1560.7" width="47.17" height="36.17" fill="#ffd4c5"/><rect x="1779.5" y="1560.7" width="47.17" height="36.17" fill="#ffd4c5"/><rect x="1826.6" y="1560.7" width="47.17" height="36.17" fill="#ffd4c5"/><rect x="1543.6" y="1596.9" width="47.17" height="36.17" fill="#ffffff"/><rect x="1590.8" y="1596.9" width="47.17" height="36.17" fill="#ffffff"/><rect x="1638.0" y="1596.9" width="47.17" height="36.17" fill="#ffd4c5"/><rect x="1685.1" y="1596.9" width="47.17" height="36.17" fill="#ffffff"/><rect x="1732.3" y="1596.9" width="47.17" height="36.17" fill="#ffd4c5"/><rect x="1779.5" y="1596.9" width="47.17" height="36.17" fill="#ffffff"/><rect x="1826.6" y="1596.9" width="47.17" height="36.17" fill="#ffffff"/><rect x="1543.6" y="1633.0" width="47.17" height="36.17" fill="#ffd4c5"/><rect x="1590.8" y="1633.0" width="47.17" height="36.17" fill="#ffffff"/><rect x="1638.0" y="1633.0" width="47.17" height="36.17" fill="#ffffff"/><rect x="1685.1" y="1633.0" width="47.17" height="36.17" fill="#ffd4c5"/><rect x="1732.3" y="1633.0" width="47.17" height="36.17" fill="#ffffff"/><rect x="1779.5" y="1633.0" width="47.17" height="36.17" fill="#ffffff"/><rect x="1826.6" y="1633.0" width="47.17" height="36.17" fill="#ffa88e"/><rect x="1543.6" y="1669.2" width="47.17" height="36.17" fill="#ffffff"/><rect x="1590.8" y="1669.2" width="47.17" height="36.17" fill="#ffffff"/><rect x="1638.0" y="1669.2" width="47.17" height="36.17" fill="#ffa88e"/><rect x="1685.1" y="1669.2" width="47.17" height="36.17" fill="#ffffff"/><rect x="1732.3" y="1669.2" width="47.17" height="36.17" fill="#ffd4c5"/><rect x="1779.5" y="1669.2" width="47.17" height="36.17" fill="#ffffff"/><rect x="1826.6" y="1669.2" width="47.17" height="36.17" fill="#ffa88e"/><rect x="1543.6" y="1705.4" width="47.17" height="36.17" fill="#ffffff"/><rect x="1590.8" y="1705.4" width="47.17" height="36.17" fill="#ffffff"/><rect x="1638.0" y="1705.4" width="47.17" height="36.17" fill="#ffffff"/><rect x="1685.1" y="1705.4" width="47.17" height="36.17" fill="#ffd4c5"/><rect x="1732.3" y="1705.4" width="47.17" height="36.17" fill="#ffd4c5"/><rect x="1779.5" y="1705.4" width="47.17" height="36.17" fill="#ffd4c5"/><rect x="1826.6" y="1705.4" width="47.17" height="36.17" fill="#ffffff"/><rect x="1543.6" y="1741.5" width="47.17" height="36.17" fill="#ffffff"/><rect x="1590.8" y="1741.5" width="47.17" height="36.17" fill="#ffffff"/><rect x="1638.0" y="1741.5" width="47.17" height="36.17" fill="#ffffff"/><rect x="1685.1" y="1741.5" width="47.17" height="36.17" fill="#ffd4c5"/><rect x="1732.3" y="1741.5" width="47.17" height="36.17" fill="#ffd4c5"/><rect x="1779.5" y="1741.5" width="47.17" height="36.17" fill="#ffffff"/><rect x="1826.6" y="1741.5" width="47.17" height="36.17" fill="#ff7a58"/><rect x="1543.6" y="1777.7" width="47.17" height="36.17" fill="#ffffff"/><rect x="1590.8" y="1777.7" width="47.17" height="36.17" fill="#ffd4c5"/><rect x="1638.0" y="1777.7" width="47.17" height="36.17" fill="#ffa88e"/><rect x="1685.1" y="1777.7" width="47.17" height="36.17" fill="#ffffff"/><rect x="1732.3" y="1777.7" width="47.17" height="36.17" fill="#ffffff"/><rect x="1779.5" y="1777.7" width="47.17" height="36.17" fill="#ffd4c5"/><rect x="1826.6" y="1777.7" width="47.17" height="36.17" fill="#ffd4c5"/><rect x="1543.6" y="1813.9" width="47.17" height="36.17" fill="#ffffff"/><rect x="1590.8" y="1813.9" width="47.17" height="36.17" fill="#ffffff"/><rect x="1638.0" y="1813.9" width="47.17" height="36.17" fill="#ffffff"/><rect x="1685.1" y="1813.9" width="47.17" height="36.17" fill="#ffa88e"/><rect x="1732.3" y="1813.9" width="47.17" height="36.17" fill="#ffffff"/><rect x="1779.5" y="1813.9" width="47.17" height="36.17" fill="#ffffff"/><rect x="1826.6" y="1813.9" width="47.17" height="36.17" fill="#ffd4c5"/><rect x="1543.6" y="1850.0" width="47.17" height="36.17" fill="#ffffff"/><rect x="1590.8" y="1850.0" width="47.17" height="36.17" fill="#ffffff"/><rect x="1638.0" y="1850.0" width="47.17" height="36.17" fill="#ffd4c5"/><rect x="1685.1" y="1850.0" width="47.17" height="36.17" fill="#ffffff"/><rect x="1732.3" y="1850.0" width="47.17" height="36.17" fill="#ffffff"/><rect x="1779.5" y="1850.0" width="47.17" height="36.17" fill="#ffffff"/><rect x="1826.6" y="1850.0" width="47.17" height="36.17" fill="#ffffff"/><rect x="1543.6" y="1886.2" width="47.17" height="36.17" fill="#ffa88e"/><rect x="1590.8" y="1886.2" width="47.17" height="36.17" fill="#ffffff"/><rect x="1638.0" y="1886.2" width="47.17" height="36.17" fill="#ffd4c5"/><rect x="1685.1" y="1886.2" width="47.17" height="36.17" fill="#ffffff"/><rect x="1732.3" y="1886.2" width="47.17" height="36.17" fill="#ffd4c5"/><rect x="1779.5" y="1886.2" width="47.17" height="36.17" fill="#ffffff"/><rect x="1826.6" y="1886.2" width="47.17" height="36.17" fill="#ffd4c5"/><rect x="1543.6" y="1922.4" width="47.17" height="36.17" fill="#ffffff"/><rect x="1590.8" y="1922.4" width="47.17" height="36.17" fill="#ff0000"/><rect x="1638.0" y="1922.4" width="47.17" height="36.17" fill="#ffd4c5"/><rect x="1685.1" y="1922.4" width="47.17" height="36.17" fill="#ffa88e"/><rect x="1732.3" y="1922.4" width="47.17" height="36.17" fill="#ffffff"/><rect x="1779.5" y="1922.4" width="47.17" height="36.17" fill="#ffd4c5"/><rect x="1826.6" y="1922.4" width="47.17" height="36.17" fill="#ffffff"/><rect x="1543.6" y="1958.6" width="47.17" height="36.17" fill="#ffd4c5"/><rect x="1590.8" y="1958.6" width="47.17" height="36.17" fill="#ffa88e"/><rect x="1638.0" y="1958.6" width="47.17" height="36.17" fill="#ffa88e"/><rect x="1685.1" y="1958.6" width="47.17" height="36.17" fill="#ffd4c5"/><rect x="1732.3" y="1958.6" width="47.17" height="36.17" fill="#ffd4c5"/><rect x="1779.5" y="1958.6" width="47.17" height="36.17" fill="#ffd4c5"/><rect x="1826.6" y="1958.6" width="47.17" height="36.17" fill="#ffffff"/><rect x="1543.6" y="1994.7" width="47.17" height="36.17" fill="#ffa88e"/><rect x="1590.8" y="1994.7" width="47.17" height="36.17" fill="#ff3f23"/><rect x="1638.0" y="1994.7" width="47.17" height="36.17" fill="#ffd4c5"/><rect x="1685.1" y="1994.7" width="47.17" height="36.17" fill="#ffd4c5"/><rect x="1732.3" y="1994.7" width="47.17" height="36.17" fill="#ffffff"/><rect x="1779.5" y="1994.7" width="47.17" height="36.17" fill="#ffd4c5"/><rect x="1826.6" y="1994.7" width="47.17" height="36.17" fill="#ffffff"/><rect x="1543.6" y="2030.9" width="47.17" height="36.17" fill="#ffffff"/><rect x="1590.8" y="2030.9" width="47.17" height="36.17" fill="#ffffff"/><rect x="1638.0" y="2030.9" width="47.17" height="36.17" fill="#ffd4c5"/><rect x="1685.1" y="2030.9" width="47.17" height="36.17" fill="#ffffff"/><rect x="1732.3" y="2030.9" width="47.17" height="36.17" fill="#ffd4c5"/><rect x="1779.5" y="2030.9" width="47.17" height="36.17" fill="#ffd4c5"/><rect x="1826.6" y="2030.9" width="47.17" height="36.17" fill="#ffffff"/><rect x="1543.6" y="2067.1" width="47.17" height="36.17" fill="#ffa88e"/><rect x="1590.8" y="2067.1" width="47.17" height="36.17" fill="#ffffff"/><rect x="1638.0" y="2067.1" width="47.17" height="36.17" fill="#ffffff"/><rect x="1685.1" y="2067.1" width="47.17" height="36.17" fill="#ffffff"/><rect x="1732.3" y="2067.1" width="47.17" height="36.17" fill="#ffffff"/><rect x="1779.5" y="2067.1" width="47.17" height="36.17" fill="#ffd4c5"/><rect x="1826.6" y="2067.1" width="47.17" height="36.17" fill="#ffffff"/><rect x="1543.6" y="2103.2" width="47.17" height="36.17" fill="#ffffff"/><rect x="1590.8" y="2103.2" width="47.17" height="36.17" fill="#ffffff"/><rect x="1638.0" y="2103.2" width="47.17" height="36.17" fill="#ffffff"/><rect x="1685.1" y="2103.2" width="47.17" height="36.17" fill="#ffffff"/><rect x="1732.3" y="2103.2" width="47.17" height="36.17" fill="#ffffff"/><rect x="1779.5" y="2103.2" width="47.17" height="36.17" fill="#ffffff"/><rect x="1826.6" y="2103.2" width="47.17" height="36.17" fill="#ffd4c5"/><rect x="1543.6" y="2139.4" width="47.17" height="36.17" fill="#ffd4c5"/><rect x="1590.8" y="2139.4" width="47.17" height="36.17" fill="#ffffff"/><rect x="1638.0" y="2139.4" width="47.17" height="36.17" fill="#ffffff"/><rect x="1685.1" y="2139.4" width="47.17" height="36.17" fill="#ffffff"/><rect x="1732.3" y="2139.4" width="47.17" height="36.17" fill="#ffffff"/><rect x="1779.5" y="2139.4" width="47.17" height="36.17" fill="#ffffff"/><rect x="1826.6" y="2139.4" width="47.17" height="36.17" fill="#ffffff"/><rect x="1543.6" y="2175.6" width="47.17" height="36.17" fill="#ffffff"/><rect x="1590.8" y="2175.6" width="47.17" height="36.17" fill="#ffffff"/><rect x="1638.0" y="2175.6" width="47.17" height="36.17" fill="#ffffff"/><rect x="1685.1" y="2175.6" width="47.17" height="36.17" fill="#ffffff"/><rect x="1732.3" y="2175.6" width="47.17" height="36.17" fill="#ffffff"/><rect x="1779.5" y="2175.6" width="47.17" height="36.17" fill="#ffffff"/><rect x="1826.6" y="2175.6" width="47.17" height="36.17" fill="#ffffff"/><rect x="1543.6" y="2211.7" width="47.17" height="36.17" fill="#ffffff"/><rect x="1590.8" y="2211.7" width="47.17" height="36.17" fill="#ffffff"/><rect x="1638.0" y="2211.7" width="47.17" height="36.17" fill="#ffffff"/><rect x="1685.1" y="2211.7" width="47.17" height="36.17" fill="#ffffff"/><rect x="1732.3" y="2211.7" width="47.17" height="36.17" fill="#ffd4c5"/><rect x="1779.5" y="2211.7" width="47.17" height="36.17" fill="#ffffff"/><rect x="1826.6" y="2211.7" width="47.17" height="36.17" fill="#ffffff"/><rect x="1543.6" y="2247.9" width="47.17" height="36.17" fill="#ffffff"/><rect x="1590.8" y="2247.9" width="47.17" height="36.17" fill="#ffa88e"/><rect x="1638.0" y="2247.9" width="47.17" height="36.17" fill="#ffd4c5"/><rect x="1685.1" y="2247.9" width="47.17" height="36.17" fill="#ffffff"/><rect x="1732.3" y="2247.9" width="47.17" height="36.17" fill="#ffffff"/><rect x="1779.5" y="2247.9" width="47.17" height="36.17" fill="#ffffff"/><rect x="1826.6" y="2247.9" width="47.17" height="36.17" fill="#ffffff"/><rect x="1543.6" y="2284.1" width="47.17" height="36.17" fill="#ffffff"/><rect x="1590.8" y="2284.1" width="47.17" height="36.17" fill="#ffffff"/><rect x="1638.0" y="2284.1" width="47.17" height="36.17" fill="#ffffff"/><rect x="1685.1" y="2284.1" width="47.17" height="36.17" fill="#ffd4c5"/><rect x="1732.3" y="2284.1" width="47.17" height="36.17" fill="#ffffff"/><rect x="1779.5" y="2284.1" width="47.17" height="36.17" fill="#ffffff"/><rect x="1826.6" y="2284.1" width="47.17" height="36.17" fill="#ffffff"/><rect x="1543.6" y="2320.3" width="47.17" height="36.17" fill="#ffffff"/><rect x="1590.8" y="2320.3" width="47.17" height="36.17" fill="#ffffff"/><rect x="1638.0" y="2320.3" width="47.17" height="36.17" fill="#ffffff"/><rect x="1685.1" y="2320.3" width="47.17" height="36.17" fill="#ffffff"/><rect x="1732.3" y="2320.3" width="47.17" height="36.17" fill="#ffffff"/><rect x="1779.5" y="2320.3" width="47.17" height="36.17" fill="#ffffff"/><rect x="1826.6" y="2320.3" width="47.17" height="36.17" fill="#ffffff"/><rect x="1543.6" y="2356.4" width="47.17" height="36.17" fill="#ffffff"/><rect x="1590.8" y="2356.4" width="47.17" height="36.17" fill="#ffa88e"/><rect x="1638.0" y="2356.4" width="47.17" height="36.17" fill="#ffffff"/><rect x="1685.1" y="2356.4" width="47.17" height="36.17" fill="#ffffff"/><rect x="1732.3" y="2356.4" width="47.17" height="36.17" fill="#ffd4c5"/><rect x="1779.5" y="2356.4" width="47.17" height="36.17" fill="#ffffff"/><rect x="1826.6" y="2356.4" width="47.17" height="36.17" fill="#ffffff"/>
<path d="M1543.62 1524.51H1873.78M1543.62 1560.68H1873.78M1543.62 1596.85H1873.78M1543.62 1633.02H1873.78M1543.62 1669.19H1873.78M1543.62 1705.36H1873.78M1543.62 1741.53H1873.78M1543.62 1777.70H1873.78M1543.62 1813.88H1873.78M1543.62 1850.04H1873.78M1543.62 1886.21H1873.78M1543.62 1922.38H1873.78M1543.62 1958.55H1873.78M1543.62 1994.72H1873.78M1543.62 2030.89H1873.78M1543.62 2067.07H1873.78M1543.62 2103.23H1873.78M1543.62 2139.40H1873.78M1543.62 2175.57H1873.78M1543.62 2211.74H1873.78M1543.62 2247.91H1873.78M1543.62 2284.09H1873.78M1543.62 2320.26H1873.78M1543.62 2356.43H1873.78M1543.62 2392.59H1873.78M1543.62 1524.51V2392.59M1590.78 1524.51V2392.59M1637.95 1524.51V2392.59M1685.12 1524.51V2392.59M1732.28 1524.51V2392.59M1779.45 1524.51V2392.59M1826.62 1524.51V2392.59M1873.78 1524.51V2392.59" stroke="#000" stroke-width="1.3" fill="none" stroke-opacity="0.6"/>
<g font-size="14.8" text-anchor="middle"><text x="1567.2" y="1548.8">0</text><text x="1614.4" y="1548.8">0</text><text x="1661.5" y="1548.8">0</text><text x="1708.7" y="1548.8">0</text><text x="1755.9" y="1548.8">0</text><text x="1803.0" y="1548.8">0</text><text x="1850.2" y="1548.8">0</text><text x="1567.2" y="1585.0">0</text><text x="1614.4" y="1585.0">0</text><text x="1661.5" y="1585.0">0</text><text x="1708.7" y="1585.0">0</text><text x="1755.9" y="1585.0">0</text><text x="1803.0" y="1585.0">0</text><text x="1850.2" y="1585.0">0</text><text x="1567.2" y="1621.2">0</text><text x="1614.4" y="1621.2">0</text><text x="1661.5" y="1621.2">0</text><text x="1708.7" y="1621.2">0</text><text x="1755.9" y="1621.2">0</text><text x="1803.0" y="1621.2">0</text><text x="1850.2" y="1621.2">0</text><text x="1567.2" y="1657.3">0</text><text x="1614.4" y="1657.3">0</text><text x="1661.5" y="1657.3">0</text><text x="1708.7" y="1657.3">0</text><text x="1755.9" y="1657.3">0</text><text x="1803.0" y="1657.3">0</text><text x="1850.2" y="1657.3">0</text><text x="1567.2" y="1693.5">0</text><text x="1614.4" y="1693.5">0</text><text x="1661.5" y="1693.5">0</text><text x="1708.7" y="1693.5">0</text><text x="1755.9" y="1693.5">0</text><text x="1803.0" y="1693.5">0</text><text x="1850.2" y="1693.5">0</text><text x="1567.2" y="1729.7">0</text><text x="1614.4" y="1729.7">0</text><text x="1661.5" y="1729.7">0</text><text x="1708.7" y="1729.7">0</text><text x="1755.9" y="1729.7">0</text><text x="1803.0" y="1729.7">0</text><text x="1850.2" y="1729.7">0</text><text x="1567.2" y="1765.9">0</text><text x="1614.4" y="1765.9">0</text><text x="1661.5" y="1765.9">0</text><text x="1708.7" y="1765.9">0</text><text x="1755.9" y="1765.9">0</text><text x="1803.0" y="1765.9">0</text><text x="1850.2" y="1765.9">0.01</text><text x="1567.2" y="1802.0">0</text><text x="1614.4" y="1802.0">0</text><text x="1661.5" y="1802.0">0</text><text x="1708.7" y="1802.0">0</text><text x="1755.9" y="1802.0">0</text><text x="1803.0" y="1802.0">0</text><text x="1850.2" y="1802.0">0</text><text x="1567.2" y="1838.2">0</text><text x="1614.4" y="1838.2">0</text><text x="1661.5" y="1838.2">0</text><text x="1708.7" y="1838.2">0</text><text x="1755.9" y="1838.2">0</text><text x="1803.0" y="1838.2">0</text><text x="1850.2" y="1838.2">0</text><text x="1567.2" y="1874.4">0</text><text x="1614.4" y="1874.4">0</text><text x="1661.5" y="1874.4">0</text><text x="1708.7" y="1874.4">0</text><text x="1755.9" y="1874.4">0</text><text x="1803.0" y="1874.4">0</text><text x="1850.2" y="1874.4">0</text><text x="1567.2" y="1910.5">0</text><text x="1614.4" y="1910.5">0</text><text x="1661.5" y="1910.5">0</text><text x="1708.7" y="1910.5">0</text><text x="1755.9" y="1910.5">0</text><text x="1803.0" y="1910.5">0</text><text x="1850.2" y="1910.5">0</text><text x="1567.2" y="1946.7">0</text><text x="1614.4" y="1946.7">0.01</text><text x="1661.5" y="1946.7">0</text><text x="1708.7" y="1946.7">0</text><text x="1755.9" y="1946.7">0</text><text x="1803.0" y="1946.7">0</text><text x="1850.2" y="1946.7">0</text><text x="1567.2" y="1982.9">0</text><text x="1614.4" y="1982.9">0</text><text x="1661.5" y="1982.9">0</text><text x="1708.7" y="1982.9">0</text><text x="1755.9" y="1982.9">0</text><text x="1803.0" y="1982.9">0</text><text x="1850.2" y="1982.9">0</text><text x="1567.2" y="2019.0">0</text><text x="1614.4" y="2019.0">0.01</text><text x="1661.5" y="2019.0">0</text><text x="1708.7" y="2019.0">0</text><text x="1755.9" y="2019.0">0</text><text x="1803.0" y="2019.0">0</text><text x="1850.2" y="2019.0">0</text><text x="1567.2" y="2055.2">0</text><text x="1614.4" y="2055.2">0</text><text x="1661.5" y="2055.2">0</text><text x="1708.7" y="2055.2">0</text><text x="1755.9" y="2055.2">0</text><text x="1803.0" y="2055.2">0</text><text x="1850.2" y="2055.2">0</text><text x="1567.2" y="2091.4">0</text><text x="1614.4" y="2091.4">0</text><text x="1661.5" y="2091.4">0</text><text x="1708.7" y="2091.4">0</text><text x="1755.9" y="2091.4">0</text><text x="1803.0" y="2091.4">0</text><text x="1850.2" y="2091.4">0</text><text x="1567.2" y="2127.6">0</text><text x="1614.4" y="2127.6">0</text><text x="1661.5" y="2127.6">0</text><text x="1708.7" y="2127.6">0</text><text x="1755.9" y="2127.6">0</text><text x="1803.0" y="2127.6">0</text><text x="1850.2" y="2127.6">0</text><text x="1567.2" y="2163.7">0</text><text x="1614.4" y="2163.7">0</text><text x="1661.5" y="2163.7">0</text><text x="1708.7" y="2163.7">0</text><text x="1755.9" y="2163.7">0</text><text x="1803.0" y="2163.7">0</text><text x="1850.2" y="2163.7">0</text><text x="1567.2" y="2199.9">0</text><text x="1614.4" y="2199.9">0</text><text x="1661.5" y="2199.9">0</text><text x="1708.7" y="2199.9">0</text><text x="1755.9" y="2199.9">0</text><text x="1803.0" y="2199.9">0</text><text x="1850.2" y="2199.9">0</text><text x="1567.2" y="2236.1">0</text><text x="1614.4" y="2236.1">0</text><text x="1661.5" y="2236.1">0</text><text x="1708.7" y="2236.1">0</text><text x="1755.9" y="2236.1">0</text><text x="1803.0" y="2236.1">0</text><text x="1850.2" y="2236.1">0</text><text x="1567.2" y="2272.2">0</text><text x="1614.4" y="2272.2">0</text><text x="1661.5" y="2272.2">0</text><text x="1708.7" y="2272.2">0</text><text x="1755.9" y="2272.2">0</text><text x="1803.0" y="2272.2">0</text><text x="1850.2" y="2272.2">0</text><text x="1567.2" y="2308.4">0</text><text x="1614.4" y="2308.4">0</text><text x="1661.5" y="2308.4">0</text><text x="1708.7" y="2308.4">0</text><text x="1755.9" y="2308.4">0</text><text x="1803.0" y="2308.4">0</text><text x="1850.2" y="2308.4">0</text><text x="1567.2" y="2344.6">0</text><text x="1614.4" y="2344.6">0</text><text x="1661.5" y="2344.6">0</text><text x="1708.7" y="2344.6">0</text><text x="1755.9" y="2344.6">0</text><text x="1803.0" y="2344.6">0</text><text x="1850.2" y="2344.6">0</text><text x="1567.2" y="2380.7">0</text><text x="1614.4" y="2380.7">0</text><text x="1661.5" y="2380.7">0</text><text x="1708.7" y="2380.7">0</text><text x="1755.9" y="2380.7">0</text><text x="1803.0" y="2380.7">0</text><text x="1850.2" y="2380.7">0</text></g>
<rect x="1539.60" y="1520.90" width="338.20" height="874.61" fill="none" stroke="#000" stroke-width="1.4"/>
<path d="M1567.20 2396.21V2405.41M1614.37 2396.21V2405.41M1661.53 2396.21V2405.41M1708.70 2396.21V2405.41M1755.87 2396.21V2405.41M1803.03 2396.21V2405.41M1850.20 2396.21V2405.41" stroke="#000" stroke-width="1.4" fill="none"/>
<text font-size="27" text-anchor="middle" transform="translate(1572.70,2480.00) rotate(-45)">Sunday</text>
<text font-size="27" text-anchor="middle" transform="translate(1619.87,2480.00) rotate(-45)">Monday</text>
<text font-size="27" text-anchor="middle" transform="translate(1667.03,2480.00) rotate(-45)">Tuesday</text>
<text font-size="27" text-anchor="middle" transform="translate(1714.20,2480.00) rotate(-45)">Wednesday</text>
<text font-size="27" text-anchor="middle" transform="translate(1761.37,2480.00) rotate(-45)">Thursday</text>
<text font-size="27" text-anchor="middle" transform="translate(1808.53,2480.00) rotate(-45)">Friday</text>
<text font-size="27" text-anchor="middle" transform="translate(1855.70,2480.00) rotate(-45)">Saturday</text>
<text x="94.6" y="1553.1" font-size="27" text-anchor="end">11pm</text>
<text x="94.6" y="1589.3" font-size="27" text-anchor="end">10pm</text>
<text x="94.6" y="1625.4" font-size="27" text-anchor="end">9pm</text>
<text x="94.6" y="1661.6" font-size="27" text-anchor="end">8pm</text>
<text x="94.6" y="1697.8" font-size="27" text-anchor="end">7pm</text>
<text x="94.6" y="1733.9" font-size="27" text-anchor="end">6pm</text>
<text x="94.6" y="1770.1" font-size="27" text-anchor="end">5pm</text>
<text x="94.6" y="1806.3" font-size="27" text-anchor="end">4pm</text>
<text x="94.6" y="1842.5" font-size="27" text-anchor="end">3pm</text>
<text x="94.6" y="1878.6" font-size="27" text-anchor="end">2pm</text>
<text x="94.6" y="1914.8" font-size="27" text-anchor="end">1pm</text>
<text x="94.6" y="1951.0" font-size="27" text-anchor="end">12pm</text>
<text x="94.6" y="1987.1" font-size="27" text-anchor="end">11am</text>
<text x="94.6" y="2023.3" font-size="27" text-anchor="end">10am</text>
<text x="94.6" y="2059.5" font-size="27" text-anchor="end">9am</text>
<text x="94.6" y="2095.7" font-size="27" text-anchor="end">8am</text>
<text x="94.6" y="2131.8" font-size="27" text-anchor="end">7am</text>
<text x="94.6" y="2168.0" font-size="27" text-anchor="end">6am</text>
<text x="94.6" y="2204.2" font-size="27" text-anchor="end">5am</text>
<text x="94.6" y="2240.3" font-size="27" text-anchor="end">4am</text>
<text x="94.6" y="2276.5" font-size="27" text-anchor="end">3am</text>
<text x="94.6" y="2312.7" font-size="27" text-anchor="end">2am</text>
<text x="94.6" y="2348.8" font-size="27" text-anchor="end">1am</text>
<text x="94.6" y="2385.0" font-size="27" text-anchor="end">12am</text>
<path d="M101.60 1542.60H110.90M101.60 1578.77H110.90M101.60 1614.94H110.90M101.60 1651.11H110.90M101.60 1687.28H110.90M101.60 1723.45H110.90M101.60 1759.62H110.90M101.60 1795.79H110.90M101.60 1831.96H110.90M101.60 1868.13H110.90M101.60 1904.30H110.90M101.60 1940.47H110.90M101.60 1976.64H110.90M101.60 2012.81H110.90M101.60 2048.98H110.90M101.60 2085.15H110.90M101.60 2121.32H110.90M101.60 2157.49H110.90M101.60 2193.66H110.90M101.60 2229.83H110.90M101.60 2266.00H110.90M101.60 2302.17H110.90M101.60 2338.34H110.90M101.60 2374.51H110.90" stroke="#000" stroke-width="1.4" fill="none"/>
<text x="1929.7" y="1827.8" font-size="34.2" font-weight="bold">Number of calls</text>
<text x="1929.7" y="1860.0" font-size="34.2" font-weight="bold">per 1,000 Population</text>
<defs><linearGradient id="lg1344" x1="0" y1="1" x2="0" y2="0"><stop offset="0.000" stop-color="#ffffff"/><stop offset="0.050" stop-color="#fff4f0"/><stop offset="0.100" stop-color="#ffeae2"/><stop offset="0.150" stop-color="#ffdfd3"/><stop offset="0.200" stop-color="#ffd4c5"/><stop offset="0.250" stop-color="#ffc9b7"/><stop offset="0.300" stop-color="#ffbea9"/><stop offset="0.350" stop-color="#ffb49b"/><stop offset="0.400" stop-color="#ffa88e"/><stop offset="0.450" stop-color="#ff9d80"/><stop offset="0.500" stop-color="#ff9273"/><stop offset="0.550" stop-color="#ff8666"/><stop offset="0.600" stop-color="#ff7a58"/><stop offset="0.650" stop-color="#ff6d4b"/><stop offset="0.700" stop-color="#ff5f3e"/><stop offset="0.750" stop-color="#ff5031"/><stop offset="0.800" stop-color="#ff3f23"/><stop offset="0.850" stop-color="#ff2812"/><stop offset="0.900" stop-color="#ff0000"/><stop offset="0.950" stop-color="#ff0000"/><stop offset="1.000" stop-color="#ff0000"/></linearGradient></defs>
<rect x="1930.00" y="1885.00" width="46.1" height="229.70" fill="url(#lg1344)"/>
<text x="1993.6" y="1899.7" font-size="27">0.010</text>
<text x="1993.6" y="1944.8" font-size="27">0.008</text>
<text x="1993.6" y="1989.9" font-size="27">0.006</text>
<text x="1993.6" y="2035.0" font-size="27">0.004</text>
<text x="1993.6" y="2080.2" font-size="27">0.002</text>
<text x="1993.6" y="2125.3" font-size="27">0.000</text>
<path d="M1930.00 1889.07h9.2M1966.90 1889.07h9.2M1930.00 1934.20h9.2M1966.90 1934.20h9.2M1930.00 1979.32h9.2M1966.90 1979.32h9.2M1930.00 2024.45h9.2M1966.90 2024.45h9.2M1930.00 2069.57h9.2M1966.90 2069.57h9.2M1930.00 2114.70h9.2M1966.90 2114.70h9.2" stroke="#fff" stroke-width="1.1" fill="none"/>
<text x="2288.3" y="2639.50" font-size="27.85" text-anchor="end"><tspan font-weight="bold">Heatmap Prepared by:</tspan> Isaac H. Michaels, DrPH</text>
<text x="2288.3" y="2665.00" font-size="27.85" text-anchor="end"><tspan font-weight="bold">Data Source:</tspan> NYC Open Data</text>
<text x="16.5" y="2736.0" font-size="41.85" font-weight="bold">FDNY EMS Incident Volume, by Borough: Sick - Rash And Fever</text>
<text x="16.0" y="2787.0" font-size="34.8">January 01, 2020 to October 04, 2024</text>
<rect x="49.20" y="2811.00" width="2236.40" height="55" fill="#000"/>
<text x="1167.4" y="2848.5" font-size="27" text-anchor="middle" fill="#fff">Bronx</text>
<path d="M49.20 2987.80H2285.60M49.20 2954.60H2285.60M49.20 2921.40H2285.60M49.20 2888.20H2285.60" stroke="#000" stroke-opacity="0.17" stroke-width="1.05" fill="none"/>
<path d="M220.50 2866.00V3010.00M584.50 2866.00V3010.00M948.50 2866.00V3010.00M1312.50 2866.00V3010.00M1676.50 2866.00V3010.00M2041.50 2866.00V3010.00" stroke="#000" stroke-opacity="0.17" stroke-width="1.05" fill="none"/>
<path d="M49.20 3004.40H2285.60M49.20 2971.20H2285.60M49.20 2938.00H2285.60M49.20 2904.80H2285.60M49.20 2871.60H2285.60" stroke="#000" stroke-opacity="0.33" stroke-width="1.05" fill="none"/>
<path d="M403.50 2866.00V3010.00M764.50 2866.00V3010.00M1131.50 2866.00V3010.00M1492.50 2866.00V3010.00M1859.50 2866.00V3010.00M2222.50 2866.00V3010.00" stroke="#000" stroke-opacity="0.33" stroke-width="1.05" fill="none"/>
<path d="M720.3 2938.0L722.4 2954.6L724.4 2938.0L726.5 2938.0L728.5 2938.0L730.3 2954.6L732.4 2954.6L734.7 2987.8L738.6 2954.6L742.7 2971.2L744.6 2954.6L746.5 2987.8L750.5 2987.8L752.6 2904.8L756.7 2987.8L762.6 2921.4L766.0 2954.6L768.4 2938.0L772.5 2987.8L776.6 2954.6L778.3 2971.2L780.7 2921.4L782.8 2954.6L784.9 2954.6L786.6 2938.0L790.4 2987.8L792.4 2971.2L796.5 2987.8L798.6 2954.6L800.7 2987.8L802.7 2971.2L804.8 2971.2L806.6 2954.6L808.2 2987.8L811.0 2987.8L812.3 2938.0L816.5 2971.2L818.5 2921.4L820.6 2938.0L822.6 2938.0L824.7 2987.8L826.5 2954.6L828.1 2971.2L832.3 2921.4L834.3 2938.0L836.4 2938.0L838.4 2938.0L840.5 2904.8L842.6 2921.4L844.6 2987.8L848.5 2921.4L852.2 2954.6L854.2 2954.6L856.3 2954.6L858.4 2921.4L862.1 2971.2L864.1 2921.4L866.3 2987.8L868.4 2888.2L872.1 2971.2L874.1 2971.2L876.2 2904.8L878.3 2954.6L880.3 2938.0L883.8 2971.2L886.2 2938.0L889.9 2971.2L892.0 2971.2L894.1 2987.8L896.1 2987.8L897.9 2938.0L900.0 2971.2L902.0 2938.0L905.7 2987.8L908.2 2954.6L910.3 2971.2L912.4 2954.6L914.4 2971.2L917.9 2971.2L920.3 2987.8L924.5 2987.8L926.1 2938.0L928.2 2987.8L930.2 2904.8L932.3 2987.8L936.0 2921.4L939.8 2938.0L942.6 2938.0L946.0 2954.6L948.1 2954.6L950.1 2987.8L954.0 2954.6L956.0 2987.8L958.4 2938.0L961.8 2987.8L963.9 2954.6L968.0 2987.8L972.1 2987.8L974.2 2938.0L978.0 2987.8L980.1 2971.2L985.9 2971.2L987.9 2954.6L990.0 2987.8L994.1 2954.6L1000.3 2954.6L1002.3 2987.8L1008.5 2971.2L1009.9 2971.2L1012.0 2954.6L1016.1 2987.8L1017.9 2938.0L1020.2 2971.2L1027.7 2971.2L1031.9 2904.8L1036.0 2987.8L1038.0 2987.8L1039.8 2971.2L1041.8 2987.8L1043.5 2971.2L1045.9 2987.8L1048.4 2954.6L1050.4 2954.6L1054.5 2987.8L1056.3 2987.8L1061.8 2938.0L1065.8 2987.8L1067.9 2971.2L1071.7 2987.8L1073.8 2971.2L1082.0 2971.2L1084.1 2987.8L1089.6 2987.8L1090.0 2954.6L1093.4 2987.8L1095.5 2971.2L1097.6 2987.8L1099.6 2987.8L1101.7 2954.6L1103.7 2987.8L1111.3 2971.2L1114.0 2987.8L1129.8 2987.8L1131.6 2971.2L1133.7 2987.8L1141.5 2987.8L1143.6 2954.6L1149.1 2987.8L1153.2 2987.8L1155.2 2971.2L1157.3 2971.2L1159.4 2987.8L1164.9 2987.8L1166.9 2971.2L1169.4 2987.8L1175.2 2971.2L1182.0 2987.8L1183.8 2987.8L1191.4 2954.6L1195.1 2987.8L1197.4 2938.0L1201.3 2987.8L1203.3 2987.8L1207.4 2971.2L1209.5 2971.2L1211.6 2987.8L1225.3 2987.8L1227.1 2954.6L1229.0 2987.8L1231.2 2938.0L1233.5 2987.8L1234.9 2987.8L1237.0 2971.2L1239.0 2987.8L1241.1 2971.2L1243.2 2987.8L1245.2 2987.8L1252.8 2971.2L1254.8 2954.6L1256.9 2987.8L1262.4 2987.8L1267.2 2954.6L1271.0 2971.2L1273.4 2954.6L1277.1 2987.8L1280.9 2954.6L1283.4 2954.6L1285.1 2971.2L1287.1 2971.2L1289.2 2921.4L1291.3 2938.0L1293.4 2971.2L1296.9 2954.6L1301.6 2987.8L1306.8 2971.2L1420.1 2987.8L1430.4 2971.2L1556.1 2987.8L1556.1 3004.4L720.3 3004.4Z" fill="#ff920e" fill-opacity="0.5"/>
<path d="M720.3 2938.0L722.4 2954.6L724.4 2938.0L726.5 2938.0L728.5 2938.0L730.3 2954.6L732.4 2954.6L734.7 2987.8L738.6 2954.6L742.7 2971.2L744.6 2954.6L746.5 2987.8L750.5 2987.8L752.6 2904.8L756.7 2987.8L762.6 2921.4L766.0 2954.6L768.4 2938.0L772.5 2987.8L776.6 2954.6L778.3 2971.2L780.7 2921.4L782.8 2954.6L784.9 2954.6L786.6 2938.0L790.4 2987.8L792.4 2971.2L796.5 2987.8L798.6 2954.6L800.7 2987.8L802.7 2971.2L804.8 2971.2L806.6 2954.6L808.2 2987.8L811.0 2987.8L812.3 2938.0L816.5 2971.2L818.5 2921.4L820.6 2938.0L822.6 2938.0L824.7 2987.8L826.5 2954.6L828.1 2971.2L832.3 2921.4L834.3 2938.0L836.4 2938.0L838.4 2938.0L840.5 2904.8L842.6 2921.4L844.6 2987.8L848.5 2921.4L852.2 2954.6L854.2 2954.6L856.3 2954.6L858.4 2921.4L862.1 2971.2L864.1 2921.4L866.3 2987.8L868.4 2888.2L872.1 2971.2L874.1 2971.2L876.2 2904.8L878.3 2954.6L880.3 2938.0L883.8 2971.2L886.2 2938.0L889.9 2971.2L892.0 2971.2L894.1 2987.8L896.1 2987.8L897.9 2938.0L900.0 2971.2L902.0 2938.0L905.7 2987.8L908.2 2954.6L910.3 2971.2L912.4 2954.6L914.4 2971.2L917.9 2971.2L920.3 2987.8L924.5 2987.8L926.1 2938.0L928.2 2987.8L930.2 2904.8L932.3 2987.8L936.0 2921.4L939.8 2938.0L942.6 2938.0L946.0 2954.6L948.1 2954.6L950.1 2987.8L954.0 2954.6L956.0 2987.8L958.4 2938.0L961.8 2987.8L963.9 2954.6L968.0 2987.8L972.1 2987.8L974.2 2938.0L978.0 2987.8L980.1 2971.2L985.9 2971.2L987.9 2954.6L990.0 2987.8L994.1 2954.6L1000.3 2954.6L1002.3 2987.8L1008.5 2971.2L1009.9 2971.2L1012.0 2954.6L1016.1 2987.8L1017.9 2938.0L1020.2 2971.2L1027.7 2971.2L1031.9 2904.8L1036.0 2987.8L1038.0 2987.8L1039.8 2971.2L1041.8 2987.8L1043.5 2971.2L1045.9 2987.8L1048.4 2954.6L1050.4 2954.6L1054.5 2987.8L1056.3 2987.8L1061.8 2938.0L1065.8 2987.8L1067.9 2971.2L1071.7 2987.8L1073.8 2971.2L1082.0 2971.2L1084.1 2987.8L1089.6 2987.8L1090.0 2954.6L1093.4 2987.8L1095.5 2971.2L1097.6 2987.8L1099.6 2987.8L1101.7 2954.6L1103.7 2987.8L1111.3 2971.2L1114.0 2987.8L1129.8 2987.8L1131.6 2971.2L1133.7 2987.8L1141.5 2987.8L1143.6 2954.6L1149.1 2987.8L1153.2 2987.8L1155.2 2971.2L1157.3 2971.2L1159.4 2987.8L1164.9 2987.8L1166.9 2971.2L1169.4 2987.8L1175.2 2971.2L1182.0 2987.8L1183.8 2987.8L1191.4 2954.6L1195.1 2987.8L1197.4 2938.0L1201.3 2987.8L1203.3 2987.8L1207.4 2971.2L1209.5 2971.2L1211.6 2987.8L1225.3 2987.8L1227.1 2954.6L1229.0 2987.8L1231.2 2938.0L1233.5 2987.8L1234.9 2987.8L1237.0 2971.2L1239.0 2987.8L1241.1 2971.2L1243.2 2987.8L1245.2 2987.8L1252.8 2971.2L1254.8 2954.6L1256.9 2987.8L1262.4 2987.8L1267.2 2954.6L1271.0 2971.2L1273.4 2954.6L1277.1 2987.8L1280.9 2954.6L1283.4 2954.6L1285.1 2971.2L1287.1 2971.2L1289.2 2921.4L1291.3 2938.0L1293.4 2971.2L1296.9 2954.6L1301.6 2987.8L1306.8 2971.2L1420.1 2987.8L1430.4 2971.2L1556.1 2987.8" fill="none" stroke="#ff920e" stroke-opacity="0.9" stroke-width="3.2" stroke-linejoin="round" stroke-linecap="butt"/>
<rect x="49.1" y="2866.00" width="2236.7" height="144.00" fill="none" stroke="#000" stroke-width="1.4"/>
<text x="32.0" y="3014.0" font-size="27" text-anchor="end">0</text>
<text x="32.0" y="2980.8" font-size="27" text-anchor="end">2</text>
<text x="32.0" y="2947.6" font-size="27" text-anchor="end">4</text>
<text x="32.0" y="2914.4" font-size="27" text-anchor="end">6</text>
<text x="32.0" y="2881.2" font-size="27" text-anchor="end">8</text>
<path d="M40.00 3004.40H49.20M40.00 2971.20H49.20M40.00 2938.00H49.20M40.00 2904.80H49.20M40.00 2871.60H49.20" stroke="#000" stroke-width="1.4" fill="none"/>
<rect x="49.20" y="3027.80" width="2236.40" height="55" fill="#000"/>
<text x="1167.4" y="3065.3" font-size="27" text-anchor="middle" fill="#fff">Brooklyn</text>
<path d="M49.20 3204.60H2285.60M49.20 3171.40H2285.60M49.20 3138.20H2285.60M49.20 3105.00H2285.60" stroke="#000" stroke-opacity="0.17" stroke-width="1.05" fill="none"/>
<path d="M220.50 3082.80V3226.80M584.50 3082.80V3226.80M948.50 3082.80V3226.80M1312.50 3082.80V3226.80M1676.50 3082.80V3226.80M2041.50 3082.80V3226.80" stroke="#000" stroke-opacity="0.17" stroke-width="1.05" fill="none"/>
<path d="M49.20 3221.20H2285.60M49.20 3188.00H2285.60M49.20 3154.80H2285.60M49.20 3121.60H2285.60M49.20 3088.40H2285.60" stroke="#000" stroke-opacity="0.33" stroke-width="1.05" fill="none"/>
<path d="M403.50 3082.80V3226.80M764.50 3082.80V3226.80M1131.50 3082.80V3226.80M1492.50 3082.80V3226.80M1859.50 3082.80V3226.80M2222.50 3082.80V3226.80" stroke="#000" stroke-opacity="0.33" stroke-width="1.05" fill="none"/>
<path d="M150.5 3204.6L719.2 3171.4L721.0 3204.6L726.5 3204.6L728.5 3188.0L734.7 3204.6L738.8 3204.6L740.9 3171.4L743.7 3204.6L748.7 3171.4L754.6 3204.6L756.7 3188.0L758.8 3188.0L760.8 3171.4L764.9 3204.6L768.8 3154.8L774.6 3204.6L776.6 3204.6L778.7 3105.0L782.8 3204.6L784.5 3188.0L788.3 3204.6L790.4 3171.4L792.4 3188.0L794.5 3154.8L796.5 3188.0L800.7 3188.0L802.7 3154.8L804.8 3204.6L806.8 3204.6L812.6 3088.4L818.5 3188.0L820.6 3171.4L822.6 3171.4L824.7 3204.6L828.4 3138.2L830.5 3204.6L834.3 3138.2L836.4 3188.0L840.5 3171.4L842.6 3121.6L844.6 3154.8L846.7 3138.2L848.5 3138.2L850.4 3188.0L852.2 3121.6L854.2 3154.8L856.3 3121.6L858.1 3154.8L860.4 3204.6L864.5 3138.2L868.2 3204.6L870.4 3171.4L872.4 3204.6L874.4 3171.4L876.5 3204.6L878.3 3188.0L880.3 3188.0L882.4 3154.8L884.2 3204.6L886.2 3188.0L888.3 3204.6L890.4 3171.4L892.4 3188.0L894.5 3188.0L896.5 3204.6L898.5 3204.6L902.3 3105.0L904.1 3121.6L906.2 3188.0L908.2 3154.8L913.7 3204.6L915.8 3154.8L917.9 3154.8L920.3 3138.2L922.0 3204.6L924.0 3171.4L926.1 3204.6L928.2 3171.4L932.3 3204.6L936.0 3171.4L938.2 3188.0L941.9 3154.8L944.0 3204.6L948.1 3171.4L950.1 3204.6L952.2 3188.0L954.3 3204.6L958.4 3188.0L960.4 3188.0L965.9 3171.4L968.0 3204.6L970.1 3188.0L972.1 3204.6L976.2 3204.6L982.4 3188.0L984.1 3171.4L990.0 3154.8L992.0 3188.0L994.1 3188.0L995.9 3154.8L1003.7 3204.6L1005.8 3171.4L1007.8 3204.6L1014.0 3171.4L1016.1 3204.6L1020.2 3204.6L1023.9 3138.2L1026.1 3204.6L1027.7 3188.0L1029.8 3204.6L1031.9 3188.0L1033.9 3188.0L1036.0 3204.6L1039.8 3204.6L1045.9 3138.2L1051.1 3188.0L1053.6 3188.0L1055.6 3204.6L1057.7 3138.2L1059.8 3204.6L1061.8 3188.0L1067.9 3204.6L1071.7 3188.0L1073.8 3204.6L1075.8 3188.0L1077.9 3204.6L1079.7 3171.4L1082.0 3204.6L1097.8 3204.6L1101.7 3154.8L1105.8 3188.0L1109.9 3188.0L1111.7 3171.4L1118.2 3204.6L1121.6 3204.6L1123.7 3188.0L1125.7 3188.0L1129.8 3204.6L1131.6 3188.0L1133.7 3204.6L1135.3 3188.0L1137.4 3188.0L1139.5 3171.4L1141.5 3204.6L1147.0 3204.6L1151.4 3121.6L1153.5 3204.6L1155.5 3171.4L1157.6 3204.6L1159.8 3188.0L1161.7 3188.0L1167.6 3204.6L1171.5 3154.8L1175.4 3204.6L1187.5 3204.6L1189.6 3188.0L1191.6 3204.6L1193.7 3188.0L1195.8 3188.0L1197.8 3204.6L1199.5 3204.6L1201.5 3188.0L1203.3 3204.6L1210.9 3204.6L1217.5 3138.2L1221.2 3204.6L1223.2 3204.6L1225.3 3188.0L1227.4 3204.6L1229.4 3204.6L1231.5 3188.0L1237.0 3188.0L1241.1 3204.6L1245.2 3188.0L1247.3 3204.6L1249.3 3204.6L1253.2 3154.8L1257.3 3204.6L1263.1 3171.4L1265.1 3204.6L1269.3 3204.6L1273.4 3188.0L1275.2 3204.6L1277.1 3171.4L1279.1 3204.6L1281.2 3138.2L1285.1 3204.6L1291.0 3188.0L1293.0 3204.6L1295.1 3154.8L1299.0 3204.6L1303.1 3171.4L1305.0 3204.6L1307.1 3171.4L1310.9 3204.6L1400.9 3204.6L1400.9 3221.2L150.5 3221.2Z" fill="#ff920e" fill-opacity="0.5"/>
<path d="M150.5 3204.6L719.2 3171.4L721.0 3204.6L726.5 3204.6L728.5 3188.0L734.7 3204.6L738.8 3204.6L740.9 3171.4L743.7 3204.6L748.7 3171.4L754.6 3204.6L756.7 3188.0L758.8 3188.0L760.8 3171.4L764.9 3204.6L768.8 3154.8L774.6 3204.6L776.6 3204.6L778.7 3105.0L782.8 3204.6L784.5 3188.0L788.3 3204.6L790.4 3171.4L792.4 3188.0L794.5 3154.8L796.5 3188.0L800.7 3188.0L802.7 3154.8L804.8 3204.6L806.8 3204.6L812.6 3088.4L818.5 3188.0L820.6 3171.4L822.6 3171.4L824.7 3204.6L828.4 3138.2L830.5 3204.6L834.3 3138.2L836.4 3188.0L840.5 3171.4L842.6 3121.6L844.6 3154.8L846.7 3138.2L848.5 3138.2L850.4 3188.0L852.2 3121.6L854.2 3154.8L856.3 3121.6L858.1 3154.8L860.4 3204.6L864.5 3138.2L868.2 3204.6L870.4 3171.4L872.4 3204.6L874.4 3171.4L876.5 3204.6L878.3 3188.0L880.3 3188.0L882.4 3154.8L884.2 3204.6L886.2 3188.0L888.3 3204.6L890.4 3171.4L892.4 3188.0L894.5 3188.0L896.5 3204.6L898.5 3204.6L902.3 3105.0L904.1 3121.6L906.2 3188.0L908.2 3154.8L913.7 3204.6L915.8 3154.8L917.9 3154.8L920.3 3138.2L922.0 3204.6L924.0 3171.4L926.1 3204.6L928.2 3171.4L932.3 3204.6L936.0 3171.4L938.2 3188.0L941.9 3154.8L944.0 3204.6L948.1 3171.4L950.1 3204.6L952.2 3188.0L954.3 3204.6L958.4 3188.0L960.4 3188.0L965.9 3171.4L968.0 3204.6L970.1 3188.0L972.1 3204.6L976.2 3204.6L982.4 3188.0L984.1 3171.4L990.0 3154.8L992.0 3188.0L994.1 3188.0L995.9 3154.8L1003.7 3204.6L1005.8 3171.4L1007.8 3204.6L1014.0 3171.4L1016.1 3204.6L1020.2 3204.6L1023.9 3138.2L1026.1 3204.6L1027.7 3188.0L1029.8 3204.6L1031.9 3188.0L1033.9 3188.0L1036.0 3204.6L1039.8 3204.6L1045.9 3138.2L1051.1 3188.0L1053.6 3188.0L1055.6 3204.6L1057.7 3138.2L1059.8 3204.6L1061.8 3188.0L1067.9 3204.6L1071.7 3188.0L1073.8 3204.6L1075.8 3188.0L1077.9 3204.6L1079.7 3171.4L1082.0 3204.6L1097.8 3204.6L1101.7 3154.8L1105.8 3188.0L1109.9 3188.0L1111.7 3171.4L1118.2 3204.6L1121.6 3204.6L1123.7 3188.0L1125.7 3188.0L1129.8 3204.6L1131.6 3188.0L1133.7 3204.6L1135.3 3188.0L1137.4 3188.0L1139.5 3171.4L1141.5 3204.6L1147.0 3204.6L1151.4 3121.6L1153.5 3204.6L1155.5 3171.4L1157.6 3204.6L1159.8 3188.0L1161.7 3188.0L1167.6 3204.6L1171.5 3154.8L1175.4 3204.6L1187.5 3204.6L1189.6 3188.0L1191.6 3204.6L1193.7 3188.0L1195.8 3188.0L1197.8 3204.6L1199.5 3204.6L1201.5 3188.0L1203.3 3204.6L1210.9 3204.6L1217.5 3138.2L1221.2 3204.6L1223.2 3204.6L1225.3 3188.0L1227.4 3204.6L1229.4 3204.6L1231.5 3188.0L1237.0 3188.0L1241.1 3204.6L1245.2 3188.0L1247.3 3204.6L1249.3 3204.6L1253.2 3154.8L1257.3 3204.6L1263.1 3171.4L1265.1 3204.6L1269.3 3204.6L1273.4 3188.0L1275.2 3204.6L1277.1 3171.4L1279.1 3204.6L1281.2 3138.2L1285.1 3204.6L1291.0 3188.0L1293.0 3204.6L1295.1 3154.8L1299.0 3204.6L1303.1 3171.4L1305.0 3204.6L1307.1 3171.4L1310.9 3204.6L1400.9 3204.6" fill="none" stroke="#ff920e" stroke-opacity="0.9" stroke-width="3.2" stroke-linejoin="round" stroke-linecap="butt"/>
<rect x="49.1" y="3082.80" width="2236.7" height="144.00" fill="none" stroke="#000" stroke-width="1.4"/>
<text x="32.0" y="3230.8" font-size="27" text-anchor="end">0</text>
<text x="32.0" y="3197.6" font-size="27" text-anchor="end">2</text>
<text x="32.0" y="3164.4" font-size="27" text-anchor="end">4</text>
<text x="32.0" y="3131.2" font-size="27" text-anchor="end">6</text>
<text x="32.0" y="3098.0" font-size="27" text-anchor="end">8</text>
<path d="M40.00 3221.20H49.20M40.00 3188.00H49.20M40.00 3154.80H49.20M40.00 3121.60H49.20M40.00 3088.40H49.20" stroke="#000" stroke-width="1.4" fill="none"/>
<rect x="49.20" y="3244.60" width="2236.40" height="55" fill="#000"/>
<text x="1167.4" y="3282.1" font-size="27" text-anchor="middle" fill="#fff">Manhattan</text>
<path d="M49.20 3421.40H2285.60M49.20 3388.20H2285.60M49.20 3355.00H2285.60M49.20 3321.80H2285.60" stroke="#000" stroke-opacity="0.17" stroke-width="1.05" fill="none"/>
<path d="M220.50 3299.60V3443.60M584.50 3299.60V3443.60M948.50 3299.60V3443.60M1312.50 3299.60V3443.60M1676.50 3299.60V3443.60M2041.50 3299.60V3443.60" stroke="#000" stroke-opacity="0.17" stroke-width="1.05" fill="none"/>
<path d="M49.20 3438.00H2285.60M49.20 3404.80H2285.60M49.20 3371.60H2285.60M49.20 3338.40H2285.60M49.20 3305.20H2285.60" stroke="#000" stroke-opacity="0.33" stroke-width="1.05" fill="none"/>
<path d="M403.50 3299.60V3443.60M764.50 3299.60V3443.60M1131.50 3299.60V3443.60M1492.50 3299.60V3443.60M1859.50 3299.60V3443.60M2222.50 3299.60V3443.60" stroke="#000" stroke-opacity="0.33" stroke-width="1.05" fill="none"/>
<path d="M718.5 3355.0L720.3 3404.8L722.6 3404.8L724.7 3388.2L726.5 3421.4L732.7 3421.4L734.7 3388.2L736.8 3404.8L738.8 3371.6L740.9 3404.8L745.0 3421.4L748.7 3371.6L752.6 3421.4L762.2 3421.4L764.7 3404.8L766.7 3421.4L768.8 3404.8L770.9 3404.8L772.9 3421.4L774.6 3404.8L776.6 3421.4L782.8 3421.4L786.6 3371.6L788.6 3388.2L790.6 3355.0L792.4 3371.6L794.5 3355.0L796.3 3388.2L798.6 3388.2L800.7 3404.8L802.3 3388.2L806.2 3421.4L808.6 3388.2L810.3 3404.8L814.4 3421.4L818.5 3388.2L822.4 3404.8L824.4 3371.6L826.5 3404.8L828.4 3388.2L830.5 3421.4L832.5 3338.4L834.3 3388.2L836.4 3388.2L838.4 3421.4L842.3 3338.4L844.3 3338.4L846.4 3371.6L848.5 3338.4L850.4 3371.6L856.3 3404.8L860.4 3321.8L864.5 3404.8L870.0 3404.8L872.4 3388.2L874.4 3404.8L876.5 3404.8L878.5 3388.2L882.4 3404.8L884.5 3321.8L888.3 3404.8L890.2 3371.6L892.4 3421.4L894.1 3421.4L900.2 3355.0L902.3 3421.4L904.0 3404.8L908.2 3404.8L910.3 3371.6L912.4 3388.2L916.2 3371.6L918.3 3404.8L922.0 3355.0L926.1 3404.8L928.2 3371.6L932.3 3404.8L934.3 3404.8L936.4 3421.4L938.5 3421.4L940.2 3388.2L946.7 3421.4L952.2 3421.4L954.3 3388.2L958.4 3388.2L962.1 3421.4L965.9 3404.8L970.1 3421.4L972.1 3404.8L974.2 3404.8L976.2 3388.2L981.7 3421.4L983.8 3371.6L985.9 3421.4L988.6 3421.4L991.8 3404.8L994.8 3421.4L996.2 3421.4L1000.0 3388.2L1002.3 3421.4L1003.7 3421.4L1005.8 3388.2L1007.8 3421.4L1009.9 3421.4L1012.6 3404.8L1016.1 3388.2L1018.1 3404.8L1027.7 3404.8L1031.9 3371.6L1036.0 3371.6L1041.5 3421.4L1043.5 3388.2L1048.1 3388.2L1049.7 3421.4L1055.9 3421.4L1059.8 3388.2L1063.9 3421.4L1071.4 3421.4L1073.8 3404.8L1075.8 3404.8L1077.9 3388.2L1079.9 3388.2L1084.1 3421.4L1103.7 3421.4L1107.6 3388.2L1109.9 3404.8L1112.0 3404.8L1114.0 3421.4L1120.9 3388.2L1127.8 3371.6L1133.7 3421.4L1137.7 3355.0L1141.5 3421.4L1151.1 3421.4L1153.5 3404.8L1155.7 3421.4L1157.6 3421.4L1161.4 3371.6L1163.5 3404.8L1165.5 3404.8L1169.4 3388.2L1171.7 3421.4L1185.5 3421.4L1187.5 3404.8L1191.4 3421.4L1199.2 3421.4L1201.3 3371.6L1205.4 3421.4L1207.4 3421.4L1209.2 3404.8L1211.2 3421.4L1219.1 3421.4L1223.0 3404.8L1225.0 3421.4L1227.1 3388.2L1229.1 3421.4L1233.3 3404.8L1235.2 3421.4L1237.0 3404.8L1239.0 3404.8L1241.1 3371.6L1244.5 3404.8L1247.3 3421.4L1253.2 3404.8L1256.9 3421.4L1261.0 3404.8L1263.1 3421.4L1267.2 3371.6L1271.3 3421.4L1274.8 3404.8L1277.1 3421.4L1279.1 3404.8L1280.9 3421.4L1283.0 3355.0L1285.1 3421.4L1287.1 3404.8L1288.9 3404.8L1291.0 3388.2L1295.1 3421.4L1300.6 3421.4L1305.0 3355.0L1308.8 3421.4L2184.1 3421.4L2184.1 3438.0L718.5 3438.0Z" fill="#ff920e" fill-opacity="0.5"/>
<path d="M718.5 3355.0L720.3 3404.8L722.6 3404.8L724.7 3388.2L726.5 3421.4L732.7 3421.4L734.7 3388.2L736.8 3404.8L738.8 3371.6L740.9 3404.8L745.0 3421.4L748.7 3371.6L752.6 3421.4L762.2 3421.4L764.7 3404.8L766.7 3421.4L768.8 3404.8L770.9 3404.8L772.9 3421.4L774.6 3404.8L776.6 3421.4L782.8 3421.4L786.6 3371.6L788.6 3388.2L790.6 3355.0L792.4 3371.6L794.5 3355.0L796.3 3388.2L798.6 3388.2L800.7 3404.8L802.3 3388.2L806.2 3421.4L808.6 3388.2L810.3 3404.8L814.4 3421.4L818.5 3388.2L822.4 3404.8L824.4 3371.6L826.5 3404.8L828.4 3388.2L830.5 3421.4L832.5 3338.4L834.3 3388.2L836.4 3388.2L838.4 3421.4L842.3 3338.4L844.3 3338.4L846.4 3371.6L848.5 3338.4L850.4 3371.6L856.3 3404.8L860.4 3321.8L864.5 3404.8L870.0 3404.8L872.4 3388.2L874.4 3404.8L876.5 3404.8L878.5 3388.2L882.4 3404.8L884.5 3321.8L888.3 3404.8L890.2 3371.6L892.4 3421.4L894.1 3421.4L900.2 3355.0L902.3 3421.4L904.0 3404.8L908.2 3404.8L910.3 3371.6L912.4 3388.2L916.2 3371.6L918.3 3404.8L922.0 3355.0L926.1 3404.8L928.2 3371.6L932.3 3404.8L934.3 3404.8L936.4 3421.4L938.5 3421.4L940.2 3388.2L946.7 3421.4L952.2 3421.4L954.3 3388.2L958.4 3388.2L962.1 3421.4L965.9 3404.8L970.1 3421.4L972.1 3404.8L974.2 3404.8L976.2 3388.2L981.7 3421.4L983.8 3371.6L985.9 3421.4L988.6 3421.4L991.8 3404.8L994.8 3421.4L996.2 3421.4L1000.0 3388.2L1002.3 3421.4L1003.7 3421.4L1005.8 3388.2L1007.8 3421.4L1009.9 3421.4L1012.6 3404.8L1016.1 3388.2L1018.1 3404.8L1027.7 3404.8L1031.9 3371.6L1036.0 3371.6L1041.5 3421.4L1043.5 3388.2L1048.1 3388.2L1049.7 3421.4L1055.9 3421.4L1059.8 3388.2L1063.9 3421.4L1071.4 3421.4L1073.8 3404.8L1075.8 3404.8L1077.9 3388.2L1079.9 3388.2L1084.1 3421.4L1103.7 3421.4L1107.6 3388.2L1109.9 3404.8L1112.0 3404.8L1114.0 3421.4L1120.9 3388.2L1127.8 3371.6L1133.7 3421.4L1137.7 3355.0L1141.5 3421.4L1151.1 3421.4L1153.5 3404.8L1155.7 3421.4L1157.6 3421.4L1161.4 3371.6L1163.5 3404.8L1165.5 3404.8L1169.4 3388.2L1171.7 3421.4L1185.5 3421.4L1187.5 3404.8L1191.4 3421.4L1199.2 3421.4L1201.3 3371.6L1205.4 3421.4L1207.4 3421.4L1209.2 3404.8L1211.2 3421.4L1219.1 3421.4L1223.0 3404.8L1225.0 3421.4L1227.1 3388.2L1229.1 3421.4L1233.3 3404.8L1235.2 3421.4L1237.0 3404.8L1239.0 3404.8L1241.1 3371.6L1244.5 3404.8L1247.3 3421.4L1253.2 3404.8L1256.9 3421.4L1261.0 3404.8L1263.1 3421.4L1267.2 3371.6L1271.3 3421.4L1274.8 3404.8L1277.1 3421.4L1279.1 3404.8L1280.9 3421.4L1283.0 3355.0L1285.1 3421.4L1287.1 3404.8L1288.9 3404.8L1291.0 3388.2L1295.1 3421.4L1300.6 3421.4L1305.0 3355.0L1308.8 3421.4L2184.1 3421.4" fill="none" stroke="#ff920e" stroke-opacity="0.9" stroke-width="3.2" stroke-linejoin="round" stroke-linecap="butt"/>
<rect x="49.1" y="3299.60" width="2236.7" height="144.00" fill="none" stroke="#000" stroke-width="1.4"/>
<text x="32.0" y="3447.6" font-size="27" text-anchor="end">0</text>
<text x="32.0" y="3414.4" font-size="27" text-anchor="end">2</text>
<text x="32.0" y="3381.2" font-size="27" text-anchor="end">4</text>
<text x="32.0" y="3348.0" font-size="27" text-anchor="end">6</text>
<text x="32.0" y="3314.8" font-size="27" text-anchor="end">8</text>
<path d="M40.00 3438.00H49.20M40.00 3404.80H49.20M40.00 3371.60H49.20M40.00 3338.40H49.20M40.00 3305.20H49.20" stroke="#000" stroke-width="1.4" fill="none"/>
<rect x="49.20" y="3461.40" width="2236.40" height="55" fill="#000"/>
<text x="1167.4" y="3498.9" font-size="27" text-anchor="middle" fill="#fff">Queens</text>
<path d="M49.20 3638.20H2285.60M49.20 3605.00H2285.60M49.20 3571.80H2285.60M49.20 3538.60H2285.60" stroke="#000" stroke-opacity="0.17" stroke-width="1.05" fill="none"/>
<path d="M220.50 3516.40V3660.40M584.50 3516.40V3660.40M948.50 3516.40V3660.40M1312.50 3516.40V3660.40M1676.50 3516.40V3660.40M2041.50 3516.40V3660.40" stroke="#000" stroke-opacity="0.17" stroke-width="1.05" fill="none"/>
<path d="M49.20 3654.80H2285.60M49.20 3621.60H2285.60M49.20 3588.40H2285.60M49.20 3555.20H2285.60M49.20 3522.00H2285.60" stroke="#000" stroke-opacity="0.33" stroke-width="1.05" fill="none"/>
<path d="M403.50 3516.40V3660.40M764.50 3516.40V3660.40M1131.50 3516.40V3660.40M1492.50 3516.40V3660.40M1859.50 3516.40V3660.40M2222.50 3516.40V3660.40" stroke="#000" stroke-opacity="0.33" stroke-width="1.05" fill="none"/>
<path d="M720.3 3605.0L722.6 3555.2L726.5 3621.6L729.2 3638.2L736.8 3638.2L740.9 3605.0L743.0 3605.0L745.0 3621.6L749.1 3621.6L754.6 3638.2L758.8 3638.2L760.8 3605.0L764.7 3621.6L766.7 3605.0L768.4 3638.2L774.6 3638.2L778.4 3571.8L782.5 3605.0L784.6 3605.0L788.6 3638.2L792.4 3605.0L794.5 3638.2L797.9 3621.6L802.7 3621.6L804.8 3638.2L810.3 3605.0L812.7 3605.0L814.7 3621.6L816.5 3621.6L818.5 3605.0L820.6 3621.6L822.6 3621.6L824.7 3638.2L826.5 3555.2L828.4 3588.4L832.3 3571.8L836.4 3638.2L840.2 3571.8L844.3 3621.6L846.4 3571.8L850.4 3571.8L852.9 3621.6L856.3 3621.6L858.4 3638.2L862.2 3588.4L866.3 3638.2L870.3 3588.4L876.5 3621.6L878.3 3605.0L880.3 3605.0L884.5 3638.2L886.2 3605.0L888.3 3638.2L894.1 3638.2L898.2 3605.0L900.2 3638.2L902.3 3605.0L904.4 3605.0L908.2 3638.2L914.1 3605.0L916.5 3621.6L924.0 3621.6L926.1 3638.2L928.2 3638.2L929.9 3621.6L931.9 3638.2L933.7 3621.6L936.0 3638.2L937.8 3638.2L939.8 3621.6L941.9 3621.6L947.8 3638.2L950.1 3621.6L952.2 3638.2L954.3 3638.2L960.2 3605.0L962.1 3605.0L963.9 3638.2L968.0 3605.0L970.1 3621.6L978.0 3638.2L983.8 3638.2L985.9 3605.0L990.0 3638.2L994.1 3605.0L996.2 3638.2L997.8 3621.6L1007.8 3621.6L1009.9 3638.2L1016.1 3638.2L1018.1 3621.6L1020.2 3621.6L1022.3 3638.2L1026.1 3638.2L1028.0 3621.6L1029.8 3638.2L1031.6 3621.6L1033.9 3638.2L1036.0 3638.2L1044.0 3588.4L1046.7 3605.0L1051.8 3621.6L1053.8 3638.2L1058.0 3638.2L1059.8 3605.0L1063.9 3638.2L1067.9 3621.6L1077.9 3621.6L1079.7 3605.0L1081.6 3638.2L1084.1 3621.6L1093.4 3621.6L1095.7 3588.4L1101.7 3638.2L1109.2 3638.2L1111.7 3621.6L1118.2 3638.2L1121.6 3638.2L1123.7 3605.0L1127.8 3638.2L1129.8 3638.2L1133.7 3621.6L1137.4 3638.2L1147.7 3605.0L1149.8 3638.2L1153.2 3638.2L1157.3 3621.6L1161.4 3638.2L1167.6 3638.2L1169.4 3621.6L1171.7 3638.2L1173.8 3638.2L1175.4 3621.6L1177.5 3638.2L1179.6 3605.0L1183.4 3638.2L1185.5 3621.6L1187.5 3638.2L1189.6 3605.0L1193.7 3621.6L1197.1 3621.6L1203.3 3638.2L1205.4 3638.2L1207.4 3621.6L1211.6 3638.2L1213.6 3638.2L1215.3 3621.6L1219.8 3621.6L1221.6 3638.2L1223.2 3621.6L1227.4 3638.2L1244.5 3638.2L1249.3 3621.6L1253.2 3638.2L1254.8 3621.6L1261.0 3605.0L1265.1 3638.2L1269.3 3638.2L1271.3 3605.0L1275.4 3638.2L1283.0 3638.2L1285.1 3621.6L1295.1 3638.2L1297.2 3588.4L1308.8 3638.2L1879.3 3638.2L1879.3 3654.8L720.3 3654.8Z" fill="#ff920e" fill-opacity="0.5"/>
<path d="M720.3 3605.0L722.6 3555.2L726.5 3621.6L729.2 3638.2L736.8 3638.2L740.9 3605.0L743.0 3605.0L745.0 3621.6L749.1 3621.6L754.6 3638.2L758.8 3638.2L760.8 3605.0L764.7 3621.6L766.7 3605.0L768.4 3638.2L774.6 3638.2L778.4 3571.8L782.5 3605.0L784.6 3605.0L788.6 3638.2L792.4 3605.0L794.5 3638.2L797.9 3621.6L802.7 3621.6L804.8 3638.2L810.3 3605.0L812.7 3605.0L814.7 3621.6L816.5 3621.6L818.5 3605.0L820.6 3621.6L822.6 3621.6L824.7 3638.2L826.5 3555.2L828.4 3588.4L832.3 3571.8L836.4 3638.2L840.2 3571.8L844.3 3621.6L846.4 3571.8L850.4 3571.8L852.9 3621.6L856.3 3621.6L858.4 3638.2L862.2 3588.4L866.3 3638.2L870.3 3588.4L876.5 3621.6L878.3 3605.0L880.3 3605.0L884.5 3638.2L886.2 3605.0L888.3 3638.2L894.1 3638.2L898.2 3605.0L900.2 3638.2L902.3 3605.0L904.4 3605.0L908.2 3638.2L914.1 3605.0L916.5 3621.6L924.0 3621.6L926.1 3638.2L928.2 3638.2L929.9 3621.6L931.9 3638.2L933.7 3621.6L936.0 3638.2L937.8 3638.2L939.8 3621.6L941.9 3621.6L947.8 3638.2L950.1 3621.6L952.2 3638.2L954.3 3638.2L960.2 3605.0L962.1 3605.0L963.9 3638.2L968.0 3605.0L970.1 3621.6L978.0 3638.2L983.8 3638.2L985.9 3605.0L990.0 3638.2L994.1 3605.0L996.2 3638.2L997.8 3621.6L1007.8 3621.6L1009.9 3638.2L1016.1 3638.2L1018.1 3621.6L1020.2 3621.6L1022.3 3638.2L1026.1 3638.2L1028.0 3621.6L1029.8 3638.2L1031.6 3621.6L1033.9 3638.2L1036.0 3638.2L1044.0 3588.4L1046.7 3605.0L1051.8 3621.6L1053.8 3638.2L1058.0 3638.2L1059.8 3605.0L1063.9 3638.2L1067.9 3621.6L1077.9 3621.6L1079.7 3605.0L1081.6 3638.2L1084.1 3621.6L1093.4 3621.6L1095.7 3588.4L1101.7 3638.2L1109.2 3638.2L1111.7 3621.6L1118.2 3638.2L1121.6 3638.2L1123.7 3605.0L1127.8 3638.2L1129.8 3638.2L1133.7 3621.6L1137.4 3638.2L1147.7 3605.0L1149.8 3638.2L1153.2 3638.2L1157.3 3621.6L1161.4 3638.2L1167.6 3638.2L1169.4 3621.6L1171.7 3638.2L1173.8 3638.2L1175.4 3621.6L1177.5 3638.2L1179.6 3605.0L1183.4 3638.2L1185.5 3621.6L1187.5 3638.2L1189.6 3605.0L1193.7 3621.6L1197.1 3621.6L1203.3 3638.2L1205.4 3638.2L1207.4 3621.6L1211.6 3638.2L1213.6 3638.2L1215.3 3621.6L1219.8 3621.6L1221.6 3638.2L1223.2 3621.6L1227.4 3638.2L1244.5 3638.2L1249.3 3621.6L1253.2 3638.2L1254.8 3621.6L1261.0 3605.0L1265.1 3638.2L1269.3 3638.2L1271.3 3605.0L1275.4 3638.2L1283.0 3638.2L1285.1 3621.6L1295.1 3638.2L1297.2 3588.4L1308.8 3638.2L1879.3 3638.2" fill="none" stroke="#ff920e" stroke-opacity="0.9" stroke-width="3.2" stroke-linejoin="round" stroke-linecap="butt"/>
<rect x="49.1" y="3516.40" width="2236.7" height="144.00" fill="none" stroke="#000" stroke-width="1.4"/>
<text x="32.0" y="3664.4" font-size="27" text-anchor="end">0</text>
<text x="32.0" y="3631.2" font-size="27" text-anchor="end">2</text>
<text x="32.0" y="3598.0" font-size="27" text-anchor="end">4</text>
<text x="32.0" y="3564.8" font-size="27" text-anchor="end">6</text>
<text x="32.0" y="3531.6" font-size="27" text-anchor="end">8</text>
<path d="M40.00 3654.80H49.20M40.00 3621.60H49.20M40.00 3588.40H49.20M40.00 3555.20H49.20M40.00 3522.00H49.20" stroke="#000" stroke-width="1.4" fill="none"/>
<rect x="49.20" y="3678.20" width="2236.40" height="55" fill="#000"/>
<text x="1167.4" y="3715.7" font-size="27" text-anchor="middle" fill="#fff">Staten Island</text>
<path d="M49.20 3855.00H2285.60M49.20 3821.80H2285.60M49.20 3788.60H2285.60M49.20 3755.40H2285.60" stroke="#000" stroke-opacity="0.17" stroke-width="1.05" fill="none"/>
<path d="M220.50 3733.20V3877.20M584.50 3733.20V3877.20M948.50 3733.20V3877.20M1312.50 3733.20V3877.20M1676.50 3733.20V3877.20M2041.50 3733.20V3877.20" stroke="#000" stroke-opacity="0.17" stroke-width="1.05" fill="none"/>
<path d="M49.20 3871.60H2285.60M49.20 3838.40H2285.60M49.20 3805.20H2285.60M49.20 3772.00H2285.60M49.20 3738.80H2285.60" stroke="#000" stroke-opacity="0.33" stroke-width="1.05" fill="none"/>
<path d="M403.50 3733.20V3877.20M764.50 3733.20V3877.20M1131.50 3733.20V3877.20M1492.50 3733.20V3877.20M1859.50 3733.20V3877.20M2222.50 3733.20V3877.20" stroke="#000" stroke-opacity="0.33" stroke-width="1.05" fill="none"/>
<path d="M744.4 3855.0L746.5 3838.4L748.5 3855.0L834.1 3855.0L836.1 3838.4L842.3 3838.4L846.4 3855.0L883.5 3855.0L897.9 3838.4L900.0 3855.0L910.3 3855.0L913.8 3838.4L916.5 3855.0L920.6 3855.0L923.7 3838.4L951.5 3855.0L970.1 3855.0L972.1 3838.4L977.3 3855.0L988.6 3838.4L995.8 3838.4L1021.6 3855.0L1043.7 3855.0L1047.8 3838.4L1050.9 3855.0L1059.2 3838.4L1062.2 3855.0L1300.7 3855.0L1300.7 3871.6L744.4 3871.6Z" fill="#ff920e" fill-opacity="0.5"/>
<path d="M744.4 3855.0L746.5 3838.4L748.5 3855.0L834.1 3855.0L836.1 3838.4L842.3 3838.4L846.4 3855.0L883.5 3855.0L897.9 3838.4L900.0 3855.0L910.3 3855.0L913.8 3838.4L916.5 3855.0L920.6 3855.0L923.7 3838.4L951.5 3855.0L970.1 3855.0L972.1 3838.4L977.3 3855.0L988.6 3838.4L995.8 3838.4L1021.6 3855.0L1043.7 3855.0L1047.8 3838.4L1050.9 3855.0L1059.2 3838.4L1062.2 3855.0L1300.7 3855.0" fill="none" stroke="#ff920e" stroke-opacity="0.9" stroke-width="3.2" stroke-linejoin="round" stroke-linecap="butt"/>
<rect x="49.1" y="3733.20" width="2236.7" height="144.00" fill="none" stroke="#000" stroke-width="1.4"/>
<text x="32.0" y="3881.2" font-size="27" text-anchor="end">0</text>
<text x="32.0" y="3848.0" font-size="27" text-anchor="end">2</text>
<text x="32.0" y="3814.8" font-size="27" text-anchor="end">4</text>
<text x="32.0" y="3781.6" font-size="27" text-anchor="end">6</text>
<text x="32.0" y="3748.4" font-size="27" text-anchor="end">8</text>
<path d="M40.00 3871.60H49.20M40.00 3838.40H49.20M40.00 3805.20H49.20M40.00 3772.00H49.20M40.00 3738.80H49.20" stroke="#000" stroke-width="1.4" fill="none"/>
<text x="403.5" y="3913.5" font-size="27" text-anchor="middle">2022-01</text>
<text x="764.5" y="3913.5" font-size="27" text-anchor="middle">2022-07</text>
<text x="1131.5" y="3913.5" font-size="27" text-anchor="middle">2023-01</text>
<text x="1492.5" y="3913.5" font-size="27" text-anchor="middle">2023-07</text>
<text x="1859.5" y="3913.5" font-size="27" text-anchor="middle">2024-01</text>
<text x="2222.5" y="3913.5" font-size="27" text-anchor="middle">2024-07</text>
<path d="M403.50 3877.20V3886.40M764.51 3877.20V3886.40M1131.50 3877.20V3886.40M1492.51 3877.20V3886.40M1859.50 3877.20V3886.40M2222.50 3877.20V3886.40" stroke="#000" stroke-width="1.4" fill="none"/>
<text x="2288.3" y="3983.50" font-size="27.85" text-anchor="end"><tspan font-weight="bold">Graph Prepared by:</tspan> Isaac H. Michaels, DrPH</text>
<text x="2288.3" y="4009.00" font-size="27.85" text-anchor="end"><tspan font-weight="bold">Data Source:</tspan> NYC Open Data</text>
</svg></body></html>
